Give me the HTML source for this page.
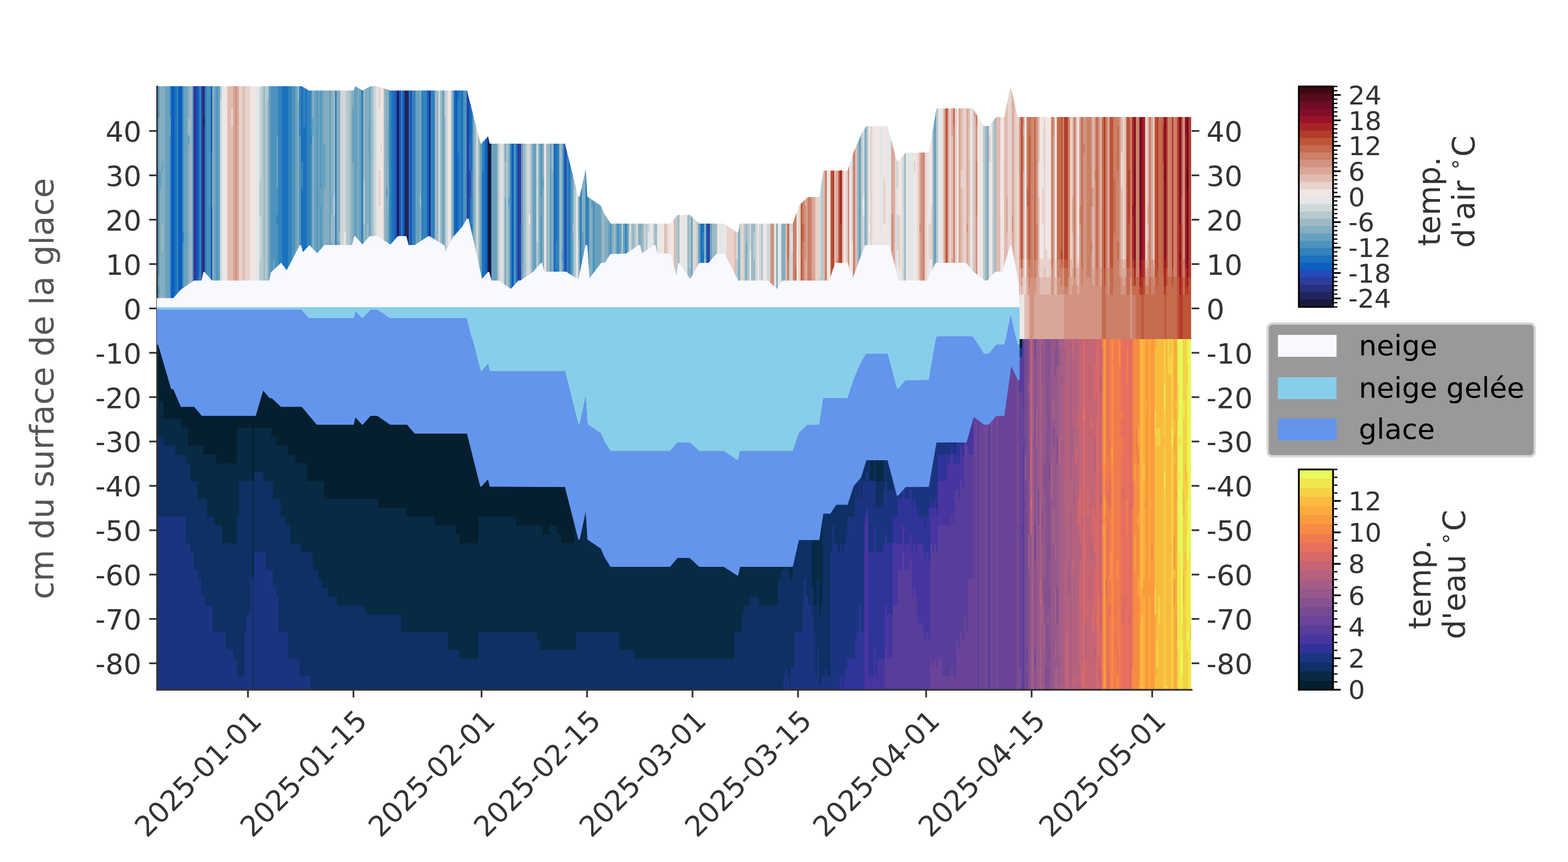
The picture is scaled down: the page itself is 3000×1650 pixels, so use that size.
<!DOCTYPE html>
<html lang="fr"><head><meta charset="utf-8"><title>Profil de température – neige, glace, eau</title>
<style>html,body{margin:0;padding:0;background:#fff;}body{width:3000px;height:1650px;overflow:hidden;}svg{display:block;position:absolute;left:0;top:0;}text{font-family:'DejaVu Sans', 'Liberation Sans', sans-serif;}</style></head><body>
<svg width="3000" height="1650" viewBox="0 0 3000 1650">
<rect x="0" y="0" width="3000" height="1650" fill="#ffffff"/>
<defs><clipPath id="axclip"><rect x="300" y="165" width="1980" height="1155"/></clipPath></defs>
<clipPath id="airclip"><polygon points="300.0,165.0 576.9,165.0 591.2,173.3 676.6,173.3 680.1,165.0 693.3,173.3 709.2,165.0 721.9,165.0 747.1,173.3 893.5,173.3 919.4,275.0 921.3,275.0 933.7,260.7 936.8,275.0 1080.9,275.0 1106.5,376.5 1109.0,376.5 1120.6,323.7 1123.9,376.5 1149.4,393.6 1156.6,410.1 1168.2,428.0 1282.0,428.1 1296.2,411.4 1319.5,411.4 1337.9,428.1 1384.9,428.1 1410.1,445.0 1412.3,445.0 1416.0,428.1 1516.9,428.1 1528.5,393.5 1545.6,377.2 1567.6,377.2 1575.3,326.4 1621.7,326.4 1633.4,290.7 1647.5,257.7 1657.6,241.2 1698.0,241.2 1716.0,308.5 1718.4,308.5 1732.9,292.2 1777.1,292.1 1791.7,207.6 1860.9,207.6 1882.3,241.3 1891.9,241.3 1906.3,224.1 1921.5,224.1 1933.6,165.1 1947.1,224.1 1950.8,224.1 1950.8,224.0 2279.0,224.0 2279.0,649.1 1950.8,649.1 1950.8,588.0 1949.7,544.7 1935.0,469.2 1933.0,469.2 1918.3,520.1 1905.1,520.1 1888.9,536.9 1883.7,536.9 1862.7,520.5 1848.1,503.1 1790.4,503.1 1773.6,536.9 1719.3,537.0 1701.3,469.3 1655.3,469.3 1631.4,533.0 1621.7,503.5 1598.0,503.5 1586.8,537.0 1497.1,537.0 1486.4,553.0 1469.0,537.0 1412.1,537.0 1386.1,486.0 1370.9,486.0 1355.4,503.5 1337.9,503.5 1320.5,534.5 1299.5,503.8 1297.2,503.8 1294.8,528.1 1282.6,485.8 1257.1,485.4 1254.0,469.3 1251.7,469.3 1228.4,484.8 1224.8,469.3 1222.5,469.3 1198.3,485.4 1167.8,486.4 1157.5,503.3 1150.3,503.3 1127.8,533.0 1123.6,469.3 1120.6,469.3 1106.5,535.3 1082.8,520.0 1041.1,520.0 1037.2,503.5 1035.2,503.5 1019.9,520.7 995.8,537.0 992.0,537.0 977.6,553.0 953.7,537.0 940.3,537.0 935.9,520.7 933.7,520.7 922.1,533.9 896.5,418.8 893.5,418.8 883.8,434.9 867.3,453.4 852.6,481.5 850.3,469.9 822.3,452.4 818.8,452.4 794.0,468.9 781.5,468.9 777.2,452.0 761.7,452.0 747.1,468.3 721.3,452.0 707.3,452.0 693.7,467.9 679.7,452.4 677.8,452.4 673.9,468.9 620.9,468.9 606.8,484.8 592.0,469.3 579.6,483.1 575.8,469.3 573.8,469.3 548.5,517.4 538.0,503.3 518.6,521.3 515.2,537.0 405.5,537.0 391.3,520.7 389.4,520.7 385.5,537.0 371.5,537.0 346.3,554.3 331.7,570.8 300.0,570.8"/></clipPath>
<clipPath id="watclip"><polygon points="300.0,640.0 1950.8,640.0 1950.8,649.1 2279.0,649.1 2279.0,1320.0 300.0,1320.0"/></clipPath>
<g clip-path="url(#airclip)" shape-rendering="crispEdges">
<path fill="#4b93bd" d="M300.0 165.0H305.2V600.0H300.0ZM323.2 165.0H327.4V600.0H323.2ZM349.1 165.0H352.3V600.0H349.1ZM396.0 165.0H403.4V600.0H396.0ZM414.0 165.0H417.2V600.0H414.0ZM518.0 165.0H532.4V600.0H518.0ZM557.9 165.0H565.3V600.0H557.9ZM572.0 165.0H576.3V600.0H572.0ZM594.2 165.0H597.4V600.0H594.2ZM605.2 165.0H608.4V600.0H605.2ZM612.2 165.0H615.2V600.0H612.2ZM886.1 165.0H893.4V600.0H886.1ZM983.0 165.0H987.2V600.0H983.0ZM1034.1 165.0H1037.3V600.0H1034.1ZM1091.0 165.0H1095.2V600.0H1091.0ZM1134.1 165.0H1138.3V600.0H1134.1ZM1166.9 165.0H1170.4V600.0H1166.9ZM1181.1 165.0H1185.2V600.0H1181.1ZM319.6 292.4H323.5V360.7H319.6ZM319.6 394.3H323.5V496.5H319.6ZM352.0 598.1H355.9V600.3H352.0ZM355.6 165.0H359.4V241.8H355.6ZM355.6 496.2H359.4V564.5H355.6ZM381.1 190.5H385.0V292.7H381.1ZM384.7 275.4H385.4V326.7H384.7ZM392.1 165.0H396.0V241.8H392.1ZM416.9 275.4H420.8V309.7H416.9ZM514.1 207.5H518.0V275.7H514.1ZM517.7 292.4H518.3V360.7H517.7ZM554.6 479.2H558.2V530.5H554.6ZM565.0 241.5H568.9V343.7H565.0ZM565.0 530.2H568.9V547.5H565.0ZM590.5 292.4H594.4V309.7H590.5ZM630.2 462.3H633.4V496.5H630.2ZM677.0 241.5H680.2V292.7H677.0ZM691.1 564.2H695.0V598.4H691.1ZM745.1 224.5H749.0V292.7H745.1ZM748.7 496.2H749.3V564.5H748.7ZM767.0 207.5H770.3V241.8H767.0ZM767.0 309.4H770.3V326.7H767.0ZM767.0 326.4H770.3V377.6H767.0ZM788.0 479.2H791.9V530.5H788.0ZM805.9 394.3H809.8V411.6H805.9ZM809.5 360.4H813.4V445.6H809.5ZM823.9 445.3H827.8V462.6H823.9ZM827.5 377.3H831.4V428.6H827.5ZM846.1 547.2H850.0V581.5H846.1ZM849.7 275.4H850.3V292.7H849.7ZM921.5 394.3H922.4V479.6H921.5ZM947.1 326.4H951.0V343.7H947.1ZM976.0 547.2H979.4V598.4H976.0ZM1019.0 530.2H1022.9V581.5H1019.0ZM1052.0 445.3H1055.2V462.6H1052.0ZM1069.5 326.4H1070.3V394.6H1069.5ZM1112.6 343.4H1113.3V428.6H1112.6ZM1112.6 530.2H1113.3V564.5H1112.6ZM1141.6 173.5H1145.5V258.7H1141.6ZM1141.6 360.4H1145.5V377.6H1141.6ZM1145.2 165.0H1149.1V224.8H1145.2ZM1166.6 547.2H1167.2V600.3H1166.6ZM1178.1 224.5H1181.4V292.7H1178.1ZM1188.6 428.3H1189.4V530.5H1188.6ZM1199.1 309.4H1203.0V394.6H1199.1ZM1202.7 598.1H1203.3V600.3H1202.7ZM1336.1 275.4H1340.0V360.7H1336.1ZM1336.1 513.2H1340.0V581.5H1336.1Z"/>
<path fill="#83adc0" d="M304.9 165.0H316.3V600.0H304.9ZM359.1 165.0H363.5V600.0H359.1ZM406.0 165.0H410.4V600.0H406.0ZM568.9 165.0H572.3V600.0H568.9ZM597.1 165.0H601.3V600.0H597.1ZM619.0 165.0H630.5V600.0H619.0ZM633.1 165.0H637.3V600.0H633.1ZM644.0 165.0H651.3V600.0H644.0ZM673.1 165.0H677.3V600.0H673.1ZM683.8 165.0H687.3V600.0H683.8ZM697.9 165.0H706.5V600.0H697.9ZM738.0 165.0H742.5V600.0H738.0ZM803.0 165.0H806.2V600.0H803.0ZM864.1 165.0H868.3V600.0H864.1ZM964.9 165.0H969.3V600.0H964.9ZM972.0 165.0H976.3V600.0H972.0ZM1029.9 165.0H1034.4V600.0H1029.9ZM1037.0 165.0H1041.2V600.0H1037.0ZM1054.9 165.0H1059.4V600.0H1054.9ZM1073.2 165.0H1077.4V600.0H1073.2ZM1094.9 165.0H1098.4V600.0H1094.9ZM1106.1 165.0H1109.3V600.0H1106.1ZM1113.0 165.0H1120.3V600.0H1113.0ZM1127.0 165.0H1134.4V600.0H1127.0ZM1149.2 165.0H1152.4V600.0H1149.2ZM1156.0 165.0H1163.3V600.0H1156.0ZM1170.1 165.0H1174.3V600.0H1170.1ZM1221.1 165.0H1228.4V600.0H1221.1ZM1347.1 165.0H1351.3V600.0H1347.1ZM1365.1 165.0H1369.3V600.0H1365.1ZM1411.9 165.0H1416.3V600.0H1411.9ZM1426.0 165.0H1430.4V600.0H1426.0ZM1484.9 165.0H1488.3V600.0H1484.9ZM1495.1 165.0H1503.4V600.0H1495.1ZM1654.1 165.0H1658.3V600.0H1654.1ZM1888.0 165.0H1892.4V600.0H1888.0ZM352.0 445.3H355.9V547.5H352.0ZM363.2 530.2H367.1V547.5H363.2ZM367.1 224.5H370.3V292.7H367.1ZM420.5 445.3H421.4V513.5H420.5ZM503.9 190.5H507.1V292.7H503.9ZM511.0 241.5H514.4V343.7H511.0ZM511.0 598.1H514.4V600.3H511.0ZM514.1 598.1H518.0V600.3H514.1ZM601.0 326.4H604.9V377.6H601.0ZM608.1 190.5H612.0V258.7H608.1ZM608.1 343.4H612.0V428.6H608.1ZM618.5 309.4H619.3V343.7H618.5ZM637.0 207.5H640.9V224.8H637.0ZM672.5 360.4H673.4V445.6H672.5ZM683.5 173.5H684.1V241.8H683.5ZM690.6 411.3H691.4V428.6H690.6ZM798.6 343.4H799.2V428.6H798.6ZM832.0 496.2H835.9V564.5H832.0ZM850.0 428.3H853.2V530.5H850.0ZM904.1 275.4H907.3V343.7H904.1ZM907.0 411.3H910.9V445.6H907.0ZM907.0 530.2H910.9V598.4H907.0ZM910.6 394.3H911.4V411.6H910.6ZM915.0 207.5H918.2V309.7H915.0ZM939.9 360.4H943.8V462.6H939.9ZM943.5 598.1H947.4V600.3H943.5ZM950.8 292.4H954.2V377.6H950.8ZM1004.6 258.4H1005.2V326.7H1004.6ZM1004.6 343.4H1005.2V411.6H1004.6ZM1015.1 165.0H1019.0V258.7H1015.1ZM1018.7 513.2H1019.3V547.5H1018.7ZM1022.6 326.4H1026.3V394.6H1022.6ZM1048.6 377.3H1052.3V479.6H1048.6ZM1070.0 207.5H1073.5V224.8H1070.0ZM1148.8 309.4H1149.5V326.7H1148.8ZM1155.7 564.2H1156.3V581.5H1155.7ZM1166.6 165.0H1167.2V190.8H1166.6ZM1174.0 496.2H1177.9V598.4H1174.0ZM1188.6 309.4H1189.4V394.6H1188.6ZM1199.1 173.5H1203.0V258.7H1199.1ZM1228.1 224.5H1232.0V275.7H1228.1ZM1256.5 598.1H1257.3V600.3H1256.5ZM1296.9 462.3H1300.2V564.5H1296.9ZM1315.0 165.0H1318.9V207.8H1315.0ZM1358.1 173.5H1362.0V207.8H1358.1ZM1358.1 292.4H1362.0V326.7H1358.1ZM1361.7 530.2H1362.3V547.5H1361.7ZM1362.0 190.5H1365.4V275.7H1362.0ZM1440.6 190.5H1444.5V275.7H1440.6ZM1643.1 165.0H1647.0V190.8H1643.1ZM1643.1 564.2H1647.0V581.5H1643.1ZM1730.0 165.0H1733.3V224.8H1730.0Z"/>
<path fill="#68a1be" d="M316.0 165.0H323.5V600.0H316.0ZM352.0 165.0H359.4V600.0H352.0ZM367.1 165.0H370.3V600.0H367.1ZM410.1 165.0H414.3V600.0H410.1ZM416.9 165.0H421.4V600.0H416.9ZM514.1 165.0H518.3V600.0H514.1ZM565.0 165.0H569.2V600.0H565.0ZM601.0 165.0H605.5V600.0H601.0ZM608.1 165.0H612.5V600.0H608.1ZM614.9 165.0H619.3V600.0H614.9ZM630.2 165.0H633.4V600.0H630.2ZM677.0 165.0H680.2V600.0H677.0ZM679.9 165.0H684.1V600.0H679.9ZM687.0 165.0H691.4V600.0H687.0ZM706.2 165.0H709.4V600.0H706.2ZM742.2 165.0H745.4V600.0H742.2ZM795.0 165.0H799.2V600.0H795.0ZM798.9 165.0H803.3V600.0H798.9ZM846.1 165.0H850.3V600.0H846.1ZM904.1 165.0H907.3V600.0H904.1ZM917.9 165.0H922.4V600.0H917.9ZM939.9 165.0H951.1V600.0H939.9ZM997.1 165.0H1001.3V600.0H997.1ZM1019.0 165.0H1026.3V600.0H1019.0ZM1052.0 165.0H1055.2V600.0H1052.0ZM1138.0 165.0H1149.5V600.0H1138.0ZM1163.0 165.0H1167.2V600.0H1163.0ZM1178.1 165.0H1181.4V600.0H1178.1ZM1184.9 165.0H1189.4V600.0H1184.9ZM1192.1 165.0H1196.4V600.0H1192.1ZM1199.1 165.0H1203.3V600.0H1199.1ZM1322.0 165.0H1325.3V600.0H1322.0ZM1336.1 165.0H1340.3V600.0H1336.1ZM1358.1 165.0H1362.3V600.0H1358.1ZM1643.1 165.0H1647.3V600.0H1643.1ZM1787.0 165.0H1791.2V600.0H1787.0ZM302.0 224.5H305.2V326.7H302.0ZM302.0 530.2H305.2V547.5H302.0ZM302.0 564.2H305.2V600.3H302.0ZM304.9 326.4H308.8V360.7H304.9ZM308.5 309.4H312.4V326.7H308.5ZM323.2 224.5H327.1V258.7H323.2ZM326.8 241.5H327.4V326.7H326.8ZM326.8 326.4H327.4V343.7H326.8ZM359.1 258.4H363.0V275.7H359.1ZM399.6 564.2H403.4V598.4H399.6ZM521.6 496.2H525.5V598.4H521.6ZM528.8 258.4H532.4V360.7H528.8ZM597.1 224.5H601.0V258.7H597.1ZM612.2 360.4H615.2V394.6H612.2ZM619.0 275.4H622.9V360.7H619.0ZM644.0 462.3H647.9V513.5H644.0ZM673.1 207.5H677.0V309.7H673.1ZM705.1 241.5H706.5V292.7H705.1ZM738.0 360.4H741.9V377.6H738.0ZM964.9 598.1H968.8V600.3H964.9ZM968.5 445.3H969.3V547.5H968.5ZM972.0 377.3H975.9V394.6H972.0ZM986.6 165.0H987.2V190.8H986.6ZM1034.1 377.3H1037.3V411.6H1034.1ZM1037.0 343.4H1040.9V360.7H1037.0ZM1073.2 479.2H1077.1V496.5H1073.2ZM1076.8 360.4H1077.4V428.6H1076.8ZM1076.8 462.3H1077.4V496.5H1076.8ZM1113.0 445.3H1116.9V530.5H1113.0ZM1116.6 190.5H1120.3V292.7H1116.6ZM1130.6 343.4H1134.4V394.6H1130.6ZM1170.1 173.5H1174.1V207.8H1170.1ZM1181.1 241.5H1185.0V275.7H1181.1ZM1181.1 309.4H1185.0V411.6H1181.1ZM1184.7 377.3H1185.2V462.6H1184.7ZM1224.7 258.4H1228.4V343.7H1224.7ZM1368.7 428.3H1369.3V530.5H1368.7ZM1411.9 598.1H1415.8V600.3H1411.9Z"/>
<path fill="#0c5fc0" d="M327.1 165.0H331.3V600.0H327.1ZM331.0 165.0H334.3V600.0H331.0ZM341.0 165.0H349.4V600.0H341.0ZM377.0 165.0H381.4V600.0H377.0ZM403.1 165.0H406.3V600.0H403.1ZM770.0 165.0H774.4V600.0H770.0ZM816.9 165.0H821.3V600.0H816.9ZM871.0 165.0H875.4V600.0H871.0ZM897.0 165.0H900.5V600.0H897.0ZM928.9 165.0H933.4V600.0H928.9ZM979.1 165.0H983.3V600.0H979.1ZM1351.0 165.0H1354.4V600.0H1351.0ZM539.9 207.5H543.8V275.7H539.9ZM543.5 343.4H545.3V445.6H543.5ZM545.0 547.2H548.9V581.5H545.0ZM583.2 173.5H587.1V224.8H583.2ZM756.0 275.4H759.9V343.7H756.0ZM781.2 547.2H785.1V600.3H781.2ZM785.1 292.4H788.3V309.7H785.1ZM868.0 258.4H871.3V360.7H868.0ZM868.0 581.2H871.3V600.3H868.0ZM878.7 360.4H879.3V462.6H878.7ZM878.7 513.2H879.3V600.3H878.7ZM885.6 360.4H886.4V411.6H885.6ZM925.7 411.3H929.2V479.6H925.7ZM1062.7 360.4H1066.2V445.6H1062.7ZM1083.7 411.3H1084.3V428.6H1083.7ZM1343.6 564.2H1347.4V581.5H1343.6Z"/>
<path fill="#1c71be" d="M334.0 165.0H338.2V600.0H334.0ZM539.9 165.0H545.3V600.0H539.9ZM545.0 165.0H551.3V600.0H545.0ZM576.0 165.0H587.2V600.0H576.0ZM749.0 165.0H756.3V600.0H749.0ZM781.2 165.0H785.4V600.0H781.2ZM868.0 165.0H871.3V600.0H868.0ZM875.1 165.0H879.3V600.0H875.1ZM882.0 165.0H886.4V600.0H882.0ZM900.2 165.0H904.4V600.0H900.2ZM922.1 165.0H929.2V600.0H922.1ZM986.9 165.0H990.3V600.0H986.9ZM1059.1 165.0H1066.2V600.0H1059.1ZM1087.9 165.0H1091.3V600.0H1087.9ZM1340.0 165.0H1347.4V600.0H1340.0ZM330.7 479.2H331.3V564.5H330.7ZM377.0 530.2H380.9V547.5H377.0ZM380.6 394.3H381.4V462.6H380.6ZM395.7 394.3H396.3V462.6H395.7ZM395.7 581.2H396.3V600.3H395.7ZM403.1 292.4H406.3V394.6H403.1ZM551.0 496.2H554.9V598.4H551.0ZM554.6 530.2H558.2V600.3H554.6ZM691.1 173.5H695.0V190.8H691.1ZM694.7 564.2H695.3V581.5H694.7ZM745.1 292.4H749.0V343.7H745.1ZM748.7 173.5H749.3V190.8H748.7ZM805.9 462.3H809.8V564.5H805.9ZM809.5 224.5H813.4V241.8H809.5ZM813.1 292.4H817.0V343.7H813.1ZM813.1 411.3H817.0V513.5H813.1ZM871.0 513.2H874.9V530.5H871.0ZM874.6 258.4H875.4V360.7H874.6ZM897.0 275.4H900.5V326.7H897.0ZM982.7 292.4H983.3V343.7H982.7ZM1065.9 275.4H1069.8V377.6H1065.9ZM1112.6 428.3H1113.3V479.6H1112.6ZM1112.6 564.2H1113.3V600.3H1112.6ZM1120.0 165.0H1123.9V190.8H1120.0Z"/>
<path fill="#3182bd" d="M337.9 165.0H341.3V600.0H337.9ZM381.1 165.0H385.4V600.0H381.1ZM392.1 165.0H396.3V600.0H392.1ZM532.1 165.0H540.2V600.0H532.1ZM551.0 165.0H558.2V600.0H551.0ZM586.9 165.0H594.5V600.0H586.9ZM641.1 165.0H644.3V600.0H641.1ZM691.1 165.0H695.3V600.0H691.1ZM745.1 165.0H749.3V600.0H745.1ZM767.0 165.0H770.3V600.0H767.0ZM788.0 165.0H795.3V600.0H788.0ZM805.9 165.0H817.2V600.0H805.9ZM823.9 165.0H832.3V600.0H823.9ZM879.0 165.0H882.3V600.0H879.0ZM976.0 165.0H979.4V600.0H976.0ZM1065.9 165.0H1070.3V600.0H1065.9ZM1077.1 165.0H1080.4V600.0H1077.1ZM1084.0 165.0H1088.2V600.0H1084.0ZM1109.0 165.0H1113.3V600.0H1109.0ZM1120.0 165.0H1127.3V600.0H1120.0ZM1196.1 165.0H1199.4V600.0H1196.1ZM323.2 598.1H327.1V600.3H323.2ZM337.6 343.4H338.2V445.6H337.6ZM349.1 445.3H352.3V462.6H349.1ZM528.8 411.3H532.4V428.6H528.8ZM572.0 165.0H575.9V258.7H572.0ZM576.0 309.4H579.9V360.7H576.0ZM576.0 530.2H579.9V547.5H576.0ZM579.6 165.0H583.5V241.8H579.6ZM583.2 496.2H587.1V530.5H583.2ZM594.2 258.4H597.4V275.7H594.2ZM605.2 530.2H608.4V598.4H605.2ZM749.0 564.2H752.9V581.5H749.0ZM784.8 428.3H785.4V513.5H784.8ZM875.1 190.5H879.0V292.7H875.1ZM885.6 224.5H886.4V292.7H885.6ZM886.1 530.2H890.0V581.5H886.1ZM900.2 326.4H904.1V428.6H900.2ZM922.1 258.4H926.0V326.7H922.1ZM983.0 241.5H986.9V258.7H983.0ZM986.9 165.0H990.3V207.8H986.9ZM1062.7 462.3H1066.2V513.5H1062.7ZM1091.0 224.5H1094.9V241.8H1091.0ZM1134.1 258.4H1138.0V326.7H1134.1ZM1134.1 564.2H1138.0V600.3H1134.1ZM1343.6 275.4H1347.4V360.7H1343.6ZM1343.6 445.3H1347.4V479.6H1343.6Z"/>
<path fill="#9cb9c4" d="M363.2 165.0H367.4V600.0H363.2ZM503.9 165.0H507.1V600.0H503.9ZM511.0 165.0H514.4V600.0H511.0ZM637.0 165.0H641.4V600.0H637.0ZM668.9 165.0H673.4V600.0H668.9ZM695.0 165.0H698.2V600.0H695.0ZM709.1 165.0H713.3V600.0H709.1ZM733.9 165.0H738.3V600.0H733.9ZM832.0 165.0H839.3V600.0H832.0ZM842.0 165.0H846.4V600.0H842.0ZM850.0 165.0H853.2V600.0H850.0ZM907.0 165.0H911.4V600.0H907.0ZM915.0 165.0H918.2V600.0H915.0ZM950.8 165.0H954.2V600.0H950.8ZM1001.0 165.0H1005.2V600.0H1001.0ZM1015.1 165.0H1019.3V600.0H1015.1ZM1045.0 165.0H1052.3V600.0H1045.0ZM1070.0 165.0H1073.5V600.0H1070.0ZM1152.1 165.0H1156.3V600.0H1152.1ZM1174.0 165.0H1178.4V600.0H1174.0ZM1207.2 165.0H1214.3V600.0H1207.2ZM1228.1 165.0H1232.3V600.0H1228.1ZM1252.9 165.0H1257.3V600.0H1252.9ZM1296.9 165.0H1300.2V600.0H1296.9ZM1315.0 165.0H1322.3V600.0H1315.0ZM1362.0 165.0H1365.4V600.0H1362.0ZM1369.0 165.0H1372.2V600.0H1369.0ZM1437.0 165.0H1445.3V600.0H1437.0ZM1456.2 165.0H1459.4V600.0H1456.2ZM1640.0 165.0H1643.4V600.0H1640.0ZM1730.0 165.0H1733.3V600.0H1730.0ZM1784.1 165.0H1787.3V600.0H1784.1ZM1885.1 165.0H1888.3V600.0H1885.1ZM1903.1 165.0H1906.3V600.0H1903.1ZM308.5 428.3H312.4V479.6H308.5ZM308.5 564.2H312.4V581.5H308.5ZM359.1 224.5H363.0V258.7H359.1ZM362.7 190.5H363.5V275.7H362.7ZM362.7 275.4H363.5V326.7H362.7ZM510.4 224.5H511.3V258.7H510.4ZM568.9 165.0H572.3V190.8H568.9ZM597.1 598.1H601.0V600.3H597.1ZM633.1 411.3H637.0V462.6H633.1ZM647.6 445.3H651.3V462.6H647.6ZM665.5 496.2H669.2V564.5H665.5ZM683.8 598.1H687.3V600.3H683.8ZM701.5 428.3H705.4V530.5H701.5ZM713.0 165.0H716.2V224.8H713.0ZM741.6 165.0H742.5V241.8H741.6ZM741.6 309.4H742.5V411.6H741.6ZM741.6 564.2H742.5V600.3H741.6ZM803.0 377.3H806.2V394.6H803.0ZM803.0 479.2H806.2V581.5H803.0ZM964.9 309.4H968.8V377.6H964.9ZM975.6 207.5H976.3V258.7H975.6ZM975.6 513.2H976.3V581.5H975.6ZM1029.9 173.5H1033.8V190.8H1029.9ZM1033.5 224.5H1034.4V241.8H1033.5ZM1054.9 241.5H1058.8V326.7H1054.9ZM1094.9 428.3H1098.4V445.6H1094.9ZM1106.1 462.3H1109.3V547.5H1106.1ZM1113.0 190.5H1116.9V241.8H1113.0ZM1116.6 547.2H1120.3V600.3H1116.6ZM1159.6 224.5H1163.3V258.7H1159.6ZM1170.1 207.5H1174.1V275.7H1170.1ZM1189.1 394.3H1192.4V445.6H1189.1ZM1238.5 513.2H1239.3V564.5H1238.5ZM1292.9 224.5H1295.3V241.8H1292.9ZM1347.1 496.2H1351.0V564.5H1347.1ZM1350.7 173.5H1351.3V190.8H1350.7ZM1350.7 326.4H1351.3V360.7H1350.7ZM1365.1 411.3H1369.0V513.5H1365.1ZM1365.1 513.2H1369.0V547.5H1365.1ZM1426.0 394.3H1429.9V462.6H1426.0ZM1484.9 581.2H1488.3V600.3H1484.9ZM1495.1 224.5H1499.0V258.7H1495.1ZM1502.3 173.5H1503.4V258.7H1502.3ZM1502.3 462.3H1503.4V564.5H1502.3ZM1657.7 173.5H1658.3V275.7H1657.7ZM1658.0 377.3H1661.4V479.6H1658.0ZM1794.5 377.3H1795.3V411.6H1794.5ZM1884.8 394.3H1885.4V496.5H1884.8Z"/>
<path fill="#2c3c9c" d="M370.0 165.0H377.3V600.0H370.0ZM385.1 165.0H388.3V600.0H385.1ZM893.1 165.0H897.3V600.0H893.1ZM990.0 165.0H997.4V600.0H990.0ZM1354.1 165.0H1358.4V600.0H1354.1ZM759.6 496.2H760.3V513.5H759.6ZM763.0 428.3H766.9V479.6H763.0ZM785.1 343.4H788.3V394.6H785.1ZM821.0 394.3H824.2V462.6H821.0ZM1080.1 343.4H1084.0V445.6H1080.1Z"/>
<path fill="#27307a" d="M388.0 165.0H392.4V600.0H388.0ZM821.0 165.0H824.2V600.0H821.0Z"/>
<path fill="#cfd7da" d="M421.1 165.0H424.3V600.0H421.1ZM496.1 165.0H500.3V600.0H496.1ZM651.0 165.0H662.2V600.0H651.0ZM715.9 165.0H720.3V600.0H715.9ZM839.0 165.0H842.3V600.0H839.0ZM852.9 165.0H857.3V600.0H852.9ZM861.2 165.0H864.4V600.0H861.2ZM911.1 165.0H915.3V600.0H911.1ZM953.9 165.0H958.1V600.0H953.9ZM961.0 165.0H965.2V600.0H961.0ZM1007.8 165.0H1015.4V600.0H1007.8ZM1026.0 165.0H1030.2V600.0H1026.0ZM1203.0 165.0H1207.5V600.0H1203.0ZM1217.1 165.0H1221.4V600.0H1217.1ZM1232.0 165.0H1235.2V600.0H1232.0ZM1239.0 165.0H1243.3V600.0H1239.0ZM1325.0 165.0H1329.4V600.0H1325.0ZM1408.0 165.0H1412.2V600.0H1408.0ZM1416.0 165.0H1419.2V600.0H1416.0ZM1434.0 165.0H1437.3V600.0H1434.0ZM1445.0 165.0H1449.4V600.0H1445.0ZM1452.0 165.0H1456.5V600.0H1452.0ZM1467.1 165.0H1474.3V600.0H1467.1ZM1510.0 165.0H1517.3V600.0H1510.0ZM1567.9 165.0H1571.3V600.0H1567.9ZM1629.0 165.0H1632.3V600.0H1629.0ZM1650.0 165.0H1654.4V600.0H1650.0ZM1714.9 165.0H1719.3V600.0H1714.9ZM1726.1 165.0H1730.3V600.0H1726.1ZM1860.1 165.0H1863.3V600.0H1860.1ZM427.6 190.5H428.4V292.7H427.6ZM506.8 207.5H510.7V309.7H506.8ZM661.9 377.3H665.8V462.6H661.9ZM665.5 309.4H669.2V411.6H665.5ZM957.8 326.4H961.3V343.7H957.8ZM1004.9 377.3H1008.1V479.6H1004.9ZM1004.9 564.2H1008.1V600.3H1004.9ZM1101.7 309.4H1102.3V343.7H1101.7ZM1102.0 581.2H1105.9V600.3H1102.0ZM1105.6 513.2H1106.4V547.5H1105.6ZM1238.5 309.4H1239.3V326.7H1238.5ZM1238.5 326.4H1239.3V428.6H1238.5ZM1243.0 496.2H1246.9V598.4H1243.0ZM1292.9 377.3H1295.3V428.6H1292.9ZM1295.0 360.4H1297.2V394.6H1295.0ZM1299.9 207.5H1303.8V275.7H1299.9ZM1303.5 411.3H1304.3V428.6H1303.5ZM1307.2 513.2H1311.1V530.5H1307.2ZM1310.8 241.5H1314.7V275.7H1310.8ZM1310.8 343.4H1314.7V377.6H1310.8ZM1481.0 581.2H1484.9V600.3H1481.0ZM1574.6 411.3H1575.3V496.5H1574.6ZM1585.9 173.5H1589.3V258.7H1585.9ZM1658.0 479.2H1661.4V581.5H1658.0ZM1683.1 326.4H1687.0V377.6H1683.1ZM1686.7 547.2H1690.2V600.3H1686.7ZM1881.2 479.2H1885.1V496.5H1881.2ZM1902.6 530.2H1903.4V598.4H1902.6Z"/>
<path fill="#e4e6e7" d="M424.0 165.0H428.4V600.0H424.0ZM488.8 165.0H496.4V600.0H488.8ZM720.0 165.0H724.2V600.0H720.0ZM957.8 165.0H961.3V600.0H957.8ZM1102.0 165.0H1106.4V600.0H1102.0ZM1243.0 165.0H1250.3V600.0H1243.0ZM1257.0 165.0H1261.2V600.0H1257.0ZM1299.9 165.0H1304.3V600.0H1299.9ZM1307.2 165.0H1315.3V600.0H1307.2ZM1376.0 165.0H1387.3V600.0H1376.0ZM1459.1 165.0H1463.3V600.0H1459.1ZM1481.0 165.0H1485.2V600.0H1481.0ZM1488.0 165.0H1495.4V600.0H1488.0ZM1585.9 165.0H1589.3V600.0H1585.9ZM1661.1 165.0H1665.3V600.0H1661.1ZM1683.1 165.0H1690.2V600.0H1683.1ZM1696.9 165.0H1705.2V600.0H1696.9ZM1733.0 165.0H1748.4V600.0H1733.0ZM1772.9 165.0H1777.6V600.0H1772.9ZM1797.9 165.0H1805.2V600.0H1797.9ZM1960.1 165.0H1964.3V496.5H1960.1ZM421.1 547.2H424.3V600.3H421.1ZM428.1 598.1H432.0V600.3H428.1ZM431.7 292.4H435.2V343.7H431.7ZM481.7 479.2H485.6V496.5H481.7ZM485.3 445.3H489.1V530.5H485.3ZM654.6 530.2H658.5V598.4H654.6ZM658.2 445.3H662.1V547.5H658.2ZM856.6 479.2H857.3V564.5H856.6ZM860.6 292.4H861.5V360.7H860.6ZM861.2 462.3H864.4V530.5H861.2ZM914.7 292.4H915.3V326.7H914.7ZM914.7 360.4H915.3V428.6H914.7ZM953.9 190.5H957.8V258.7H953.9ZM1011.4 411.3H1015.3V428.6H1011.4ZM1029.6 360.4H1030.2V394.6H1029.6ZM1203.0 207.5H1206.9V224.8H1203.0ZM1203.0 275.4H1206.9V326.7H1203.0ZM1206.6 394.3H1207.5V445.6H1206.6ZM1206.6 530.2H1207.5V564.5H1206.6ZM1239.0 445.3H1242.9V479.6H1239.0ZM1264.5 258.4H1268.4V326.7H1264.5ZM1264.5 530.2H1268.4V598.4H1264.5ZM1416.0 581.2H1419.2V600.3H1416.0ZM1434.0 479.2H1437.3V581.5H1434.0ZM1445.0 343.4H1448.9V394.6H1445.0ZM1452.0 292.4H1455.9V326.7H1452.0ZM1466.6 190.5H1467.4V224.8H1466.6ZM1467.1 343.4H1471.0V360.7H1467.1ZM1470.7 207.5H1474.3V275.7H1470.7ZM1510.0 207.5H1513.9V275.7H1510.0ZM1513.6 445.3H1517.3V479.6H1513.6ZM1585.6 275.4H1586.2V360.7H1585.6ZM1625.1 564.2H1629.0V600.3H1625.1ZM1629.0 462.3H1632.3V530.5H1629.0ZM1650.0 377.3H1653.9V411.6H1650.0ZM1676.1 258.4H1680.0V360.7H1676.1ZM1676.1 496.2H1680.0V530.5H1676.1ZM1714.9 360.4H1718.8V411.6H1714.9ZM1714.9 479.2H1718.8V547.5H1714.9ZM1718.5 428.3H1719.3V479.6H1718.5ZM1748.1 530.2H1752.0V600.3H1748.1ZM1777.3 598.1H1781.2V600.3H1777.3ZM1780.9 581.2H1784.4V600.3H1780.9ZM1831.0 292.4H1834.3V360.7H1831.0ZM1856.1 445.3H1860.0V530.5H1856.1ZM1877.2 445.3H1881.1V530.5H1877.2ZM1914.0 241.5H1917.9V275.7H1914.0ZM1917.6 394.3H1921.4V428.6H1917.6ZM1917.6 581.2H1921.4V600.3H1917.6ZM1989.0 411.3H1992.9V462.6H1989.0ZM2010.6 292.4H2011.3V343.7H2010.6Z"/>
<path fill="#efe6e4" d="M428.1 165.0H435.2V600.0H428.1ZM478.1 165.0H489.1V600.0H478.1ZM723.9 165.0H734.2V600.0H723.9ZM857.0 165.0H861.5V600.0H857.0ZM1040.9 165.0H1045.3V600.0H1040.9ZM1260.9 165.0H1271.2V600.0H1260.9ZM1278.9 165.0H1289.3V600.0H1278.9ZM1304.0 165.0H1307.5V600.0H1304.0ZM1371.9 165.0H1376.3V600.0H1371.9ZM1387.0 165.0H1390.3V600.0H1387.0ZM1449.1 165.0H1452.3V600.0H1449.1ZM1463.0 165.0H1467.4V600.0H1463.0ZM1523.9 165.0H1528.3V600.0H1523.9ZM1582.0 165.0H1586.2V600.0H1582.0ZM1614.0 165.0H1618.3V600.0H1614.0ZM1625.1 165.0H1629.3V600.0H1625.1ZM1668.9 165.0H1683.4V600.0H1668.9ZM1689.9 165.0H1697.2V600.0H1689.9ZM1719.0 165.0H1726.4V600.0H1719.0ZM1748.1 165.0H1755.4V600.0H1748.1ZM1777.3 165.0H1784.4V600.0H1777.3ZM1795.0 165.0H1798.2V600.0H1795.0ZM1831.0 165.0H1834.3V600.0H1831.0ZM1856.1 165.0H1860.4V600.0H1856.1ZM1870.0 165.0H1881.5V600.0H1870.0ZM1892.1 165.0H1899.3V600.0H1892.1ZM1914.0 165.0H1921.4V600.0H1914.0ZM1960.1 496.2H1964.0V513.5H1960.1ZM1960.1 513.2H1964.0V530.5H1960.1ZM1963.7 496.2H1964.3V513.5H1963.7ZM1963.7 513.2H1964.3V530.5H1963.7ZM1989.0 165.0H1997.4V496.5H1989.0ZM2000.0 165.0H2007.3V496.5H2000.0ZM2007.0 165.0H2011.3V496.5H2007.0ZM2018.0 165.0H2022.4V496.5H2018.0ZM2061.1 165.0H2065.3V496.5H2061.1ZM1950.8 564.0H1960.5V649.1H1950.8ZM427.6 165.0H428.4V190.8H427.6ZM723.6 241.5H724.2V292.7H723.6ZM723.6 479.2H724.2V513.5H723.6ZM1246.6 292.4H1250.3V360.7H1246.6ZM1303.5 377.3H1304.3V411.6H1303.5ZM1303.5 564.2H1304.3V581.5H1303.5ZM1329.1 343.4H1333.0V411.6H1329.1ZM1390.0 394.3H1393.9V496.5H1390.0ZM1422.5 377.3H1423.4V428.6H1422.5ZM1422.5 513.2H1423.4V581.5H1422.5ZM1481.0 309.4H1484.9V343.7H1481.0ZM1560.1 224.5H1564.0V292.7H1560.1ZM1563.7 292.4H1567.6V394.6H1563.7ZM1661.1 428.3H1665.0V445.6H1661.1ZM1664.7 598.1H1665.3V600.3H1664.7ZM1668.6 343.4H1669.2V445.6H1668.6ZM1683.1 445.3H1687.0V547.5H1683.1ZM1686.7 428.3H1690.2V496.5H1686.7ZM1696.9 360.4H1700.8V411.6H1696.9ZM1696.9 428.3H1700.8V530.5H1696.9ZM1704.1 513.2H1705.2V547.5H1704.1ZM1755.1 275.4H1759.0V326.7H1755.1ZM1755.1 564.2H1759.0V600.3H1755.1ZM1758.7 275.4H1759.3V309.7H1758.7ZM1769.0 343.4H1772.9V411.6H1769.0ZM1769.0 428.3H1772.9V445.6H1769.0ZM1769.0 598.1H1772.9V600.3H1769.0ZM1772.6 394.3H1773.2V411.6H1772.6ZM1776.5 309.4H1777.6V360.7H1776.5ZM1776.5 479.2H1777.6V513.5H1776.5ZM1819.5 190.5H1820.3V275.7H1819.5ZM1826.9 513.2H1830.8V600.3H1826.9ZM1830.5 462.3H1831.3V547.5H1830.5ZM1845.6 428.3H1849.4V462.6H1845.6ZM1945.7 360.4H1949.6V377.6H1945.7ZM1949.3 360.4H1950.3V445.6H1949.3ZM1960.1 258.4H1964.0V326.7H1960.1ZM2151.5 411.3H2152.4V445.6H2151.5Z"/>
<path fill="#e0bbb1" d="M434.9 165.0H446.3V600.0H434.9ZM464.0 165.0H468.4V600.0H464.0ZM1270.9 165.0H1275.3V600.0H1270.9ZM1289.0 165.0H1293.2V600.0H1289.0ZM1405.1 165.0H1408.3V600.0H1405.1ZM1503.1 165.0H1506.3V600.0H1503.1ZM1575.0 165.0H1578.4V600.0H1575.0ZM1595.9 165.0H1600.3V600.0H1595.9ZM1611.0 165.0H1614.3V600.0H1611.0ZM1636.1 165.0H1640.3V600.0H1636.1ZM1820.0 165.0H1824.3V600.0H1820.0ZM1837.9 165.0H1842.3V600.0H1837.9ZM1852.0 165.0H1856.4V600.0H1852.0ZM1863.0 165.0H1867.4V600.0H1863.0ZM1906.0 165.0H1914.3V600.0H1906.0ZM1921.1 165.0H1928.4V600.0H1921.1ZM1939.1 165.0H1942.4V600.0H1939.1ZM1950.8 513.2H1953.3V530.5H1950.8ZM1950.8 530.2H1953.3V547.5H1950.8ZM1953.0 547.1H1956.9V564.4H1953.0ZM1956.6 547.1H1957.2V564.4H1956.6ZM1956.9 496.2H1960.4V513.5H1956.9ZM1956.9 513.2H1960.4V530.5H1956.9ZM1985.9 165.0H1989.3V496.5H1985.9ZM1985.9 496.2H1989.3V513.5H1985.9ZM1985.9 513.2H1989.3V530.5H1985.9ZM1989.0 530.2H1992.9V547.5H1989.0ZM1989.0 547.1H1992.9V564.4H1989.0ZM1992.6 530.2H1996.5V547.5H1992.6ZM1992.6 547.1H1996.5V564.4H1992.6ZM1996.2 530.2H1997.4V547.5H1996.2ZM1996.2 547.1H1997.4V564.4H1996.2ZM1997.1 513.2H2000.3V530.5H1997.1ZM1997.1 530.2H2000.3V547.5H1997.1ZM1997.1 547.1H2000.3V564.4H1997.1ZM2000.0 530.2H2003.9V547.5H2000.0ZM2000.0 547.1H2003.9V564.4H2000.0ZM2003.6 530.2H2007.3V547.5H2003.6ZM2003.6 547.1H2007.3V564.4H2003.6ZM2007.0 530.2H2010.9V547.5H2007.0ZM2007.0 547.1H2010.9V564.4H2007.0ZM2010.6 530.2H2011.3V547.5H2010.6ZM2010.6 547.1H2011.3V564.4H2010.6ZM2018.0 530.2H2021.9V547.5H2018.0ZM2018.0 547.1H2021.9V564.4H2018.0ZM2021.6 530.2H2022.4V547.5H2021.6ZM2021.6 547.1H2022.4V564.4H2021.6ZM2046.9 496.2H2050.9V513.5H2046.9ZM2046.9 513.2H2050.9V530.5H2046.9ZM2050.6 496.2H2051.3V513.5H2050.6ZM2050.6 513.2H2051.3V530.5H2050.6ZM2051.0 165.0H2054.3V496.5H2051.0ZM2051.0 496.2H2054.3V513.5H2051.0ZM2057.9 165.0H2061.4V496.5H2057.9ZM2057.9 496.2H2061.4V513.5H2057.9ZM2061.1 513.2H2065.0V530.5H2061.1ZM2061.1 530.2H2065.0V547.5H2061.1ZM2064.7 513.2H2065.3V530.5H2064.7ZM2064.7 530.2H2065.3V547.5H2064.7ZM2090.0 165.0H2094.3V496.5H2090.0ZM2090.0 496.2H2093.9V513.5H2090.0ZM2093.6 496.2H2094.3V513.5H2093.6ZM2105.1 165.0H2108.4V496.5H2105.1ZM2105.1 496.2H2108.4V513.5H2105.1ZM2144.0 165.0H2148.2V496.5H2144.0ZM2147.9 496.2H2151.8V513.5H2147.9ZM2151.5 496.2H2152.4V513.5H2151.5ZM2152.1 165.0H2155.4V496.5H2152.1ZM2190.9 496.2H2194.8V513.5H2190.9ZM2194.5 496.2H2195.3V513.5H2194.5ZM2195.0 165.0H2198.2V496.5H2195.0ZM2206.2 496.2H2209.4V513.5H2206.2ZM1960.2 564.0H1968.2V649.1H1960.2ZM449.6 292.4H450.2V309.7H449.6ZM449.6 377.3H450.2V462.6H449.6ZM456.9 309.4H460.8V360.7H456.9ZM456.9 360.4H460.8V411.6H456.9ZM460.5 292.4H464.3V394.6H460.5ZM475.3 394.3H478.4V479.6H475.3ZM475.3 547.2H478.4V600.3H475.3ZM1275.0 564.2H1278.9V598.4H1275.0ZM1278.6 360.4H1279.2V462.6H1278.6ZM1332.7 275.4H1333.3V326.7H1332.7ZM1332.7 462.3H1333.3V513.5H1332.7ZM1390.0 224.5H1393.9V241.8H1390.0ZM1397.2 275.4H1401.1V360.7H1397.2ZM1528.0 598.1H1531.9V600.3H1528.0ZM1553.0 224.5H1556.9V241.8H1553.0ZM1560.1 326.4H1564.0V428.6H1560.1ZM1567.3 173.5H1568.2V224.8H1567.3ZM1567.3 547.2H1568.2V600.3H1567.3ZM1603.6 479.2H1604.4V581.5H1603.6ZM1668.6 547.2H1669.2V600.3H1668.6ZM1804.9 224.5H1808.8V275.7H1804.9ZM1808.5 564.2H1809.4V600.3H1808.5ZM1813.0 173.5H1816.2V207.8H1813.0ZM1842.0 165.0H1845.9V224.8H1842.0ZM1845.6 360.4H1849.4V377.6H1845.6ZM1945.7 173.5H1949.6V275.7H1945.7ZM1949.3 190.5H1950.3V258.7H1949.3ZM1956.9 343.4H1960.4V428.6H1956.9ZM2046.9 309.4H2050.9V360.7H2046.9ZM2046.9 411.3H2050.9V462.6H2046.9ZM2122.6 190.5H2123.2V241.8H2122.6ZM2190.9 165.0H2194.8V224.8H2190.9ZM2205.6 377.3H2206.5V394.6H2205.6Z"/>
<path fill="#d9a799" d="M446.0 165.0H450.2V600.0H446.0ZM452.8 165.0H457.2V600.0H452.8ZM1539.0 165.0H1545.3V600.0H1539.0ZM1553.0 165.0H1560.4V600.0H1553.0ZM1600.0 165.0H1604.4V600.0H1600.0ZM1704.9 165.0H1712.3V600.0H1704.9ZM1759.0 165.0H1762.3V600.0H1759.0ZM1804.9 165.0H1809.4V600.0H1804.9ZM1813.0 165.0H1816.2V600.0H1813.0ZM1834.0 165.0H1838.2V600.0H1834.0ZM1849.1 165.0H1852.3V600.0H1849.1ZM1935.2 165.0H1939.4V600.0H1935.2ZM1950.8 496.2H1953.3V513.5H1950.8ZM1953.0 530.2H1956.9V547.5H1953.0ZM1956.6 530.2H1957.2V547.5H1956.6ZM1956.9 165.0H1960.4V496.5H1956.9ZM1964.0 530.2H1967.9V547.5H1964.0ZM1964.0 547.1H1967.9V564.4H1964.0ZM1967.6 530.2H1968.4V547.5H1967.6ZM1967.6 547.1H1968.4V564.4H1967.6ZM1982.0 530.2H1985.9V547.5H1982.0ZM1982.0 547.1H1985.9V564.4H1982.0ZM1985.6 530.2H1986.2V547.5H1985.6ZM1985.6 547.1H1986.2V564.4H1985.6ZM1985.9 530.2H1989.3V547.5H1985.9ZM1985.9 547.1H1989.3V564.4H1985.9ZM2015.1 165.0H2018.3V496.5H2015.1ZM2015.1 496.2H2018.3V513.5H2015.1ZM2015.1 513.2H2018.3V530.5H2015.1ZM2015.1 530.2H2018.3V547.5H2015.1ZM2015.1 547.1H2018.3V564.4H2015.1ZM2046.9 530.2H2050.9V547.5H2046.9ZM2046.9 547.1H2050.9V564.4H2046.9ZM2050.6 530.2H2051.3V547.5H2050.6ZM2050.6 547.1H2051.3V564.4H2050.6ZM2051.0 513.2H2054.3V530.5H2051.0ZM2051.0 530.2H2054.3V547.5H2051.0ZM2057.9 513.2H2061.4V530.5H2057.9ZM2057.9 530.2H2061.4V547.5H2057.9ZM2061.1 547.1H2065.0V564.4H2061.1ZM2064.7 547.1H2065.3V564.4H2064.7ZM2090.0 513.2H2093.9V530.5H2090.0ZM2090.0 530.2H2093.9V547.5H2090.0ZM2093.6 513.2H2094.3V530.5H2093.6ZM2093.6 530.2H2094.3V547.5H2093.6ZM2105.1 513.2H2108.4V530.5H2105.1ZM2105.1 530.2H2108.4V547.5H2105.1ZM2119.0 165.0H2123.2V496.5H2119.0ZM2119.0 496.2H2122.9V513.5H2119.0ZM2122.6 496.2H2123.2V513.5H2122.6ZM2144.0 496.2H2147.9V513.5H2144.0ZM2144.0 513.2H2147.9V530.5H2144.0ZM2147.6 496.2H2148.2V513.5H2147.6ZM2147.6 513.2H2148.2V530.5H2147.6ZM2147.9 513.2H2151.8V530.5H2147.9ZM2147.9 530.2H2151.8V547.5H2147.9ZM2151.5 513.2H2152.4V530.5H2151.5ZM2151.5 530.2H2152.4V547.5H2151.5ZM2152.1 496.2H2155.4V513.5H2152.1ZM2152.1 513.2H2155.4V530.5H2152.1ZM2190.9 513.2H2194.8V530.5H2190.9ZM2194.5 513.2H2195.3V530.5H2194.5ZM2195.0 496.2H2198.2V513.5H2195.0ZM2202.0 165.0H2206.5V496.5H2202.0ZM2206.2 513.2H2209.4V530.5H2206.2ZM1967.9 564.0H1971.3V649.1H1967.9ZM1978.1 564.0H2036.3V649.1H1978.1ZM449.9 165.0H453.1V173.8H449.9ZM449.9 360.4H453.1V377.6H449.9ZM1274.5 165.0H1275.3V258.7H1274.5ZM1274.5 275.4H1275.3V292.7H1274.5ZM1274.5 564.2H1275.3V600.3H1274.5ZM1289.0 530.2H1292.9V598.4H1289.0ZM1292.6 207.5H1293.2V224.8H1292.6ZM1595.9 581.2H1599.8V600.3H1595.9ZM1621.9 411.3H1625.4V445.6H1621.9ZM1621.9 547.2H1625.4V600.3H1621.9ZM1636.1 598.1H1640.0V600.3H1636.1ZM1765.6 598.1H1766.4V600.3H1765.6ZM1820.0 190.5H1823.9V258.7H1820.0ZM1820.0 496.2H1823.9V530.5H1820.0ZM1823.6 224.5H1824.3V258.7H1823.6ZM1823.6 530.2H1824.3V598.4H1823.6ZM1841.5 581.2H1842.3V598.4H1841.5ZM1863.0 190.5H1866.9V224.8H1863.0ZM1863.0 598.1H1866.9V600.3H1863.0ZM1924.7 377.3H1928.4V445.6H1924.7ZM1985.9 165.0H1989.3V224.8H1985.9ZM2051.0 165.0H2054.3V207.8H2051.0ZM2051.0 377.3H2054.3V445.6H2051.0ZM2068.6 360.4H2069.2V445.6H2068.6ZM2072.0 309.4H2075.9V360.7H2072.0ZM2086.9 173.5H2090.3V241.8H2086.9ZM2090.0 360.4H2093.9V394.6H2090.0ZM2195.0 394.3H2198.2V428.6H2195.0ZM2195.0 462.3H2198.2V496.5H2195.0Z"/>
<path fill="#d29380" d="M449.9 165.0H453.1V600.0H449.9ZM1474.0 165.0H1481.3V600.0H1474.0ZM1621.9 165.0H1625.4V600.0H1621.9ZM1762.0 165.0H1766.4V600.0H1762.0ZM1867.1 165.0H1870.3V600.0H1867.1ZM1950.0 165.0H1950.8V600.0H1950.0ZM1950.8 165.0H1953.3V496.5H1950.8ZM1953.0 513.2H1956.9V530.5H1953.0ZM1956.6 513.2H1957.2V530.5H1956.6ZM1964.0 496.2H1967.9V513.5H1964.0ZM1964.0 513.2H1967.9V530.5H1964.0ZM1967.6 496.2H1968.4V513.5H1967.6ZM1967.6 513.2H1968.4V530.5H1967.6ZM1968.1 547.1H1971.4V564.4H1968.1ZM1971.1 530.2H1975.0V547.5H1971.1ZM1971.1 547.1H1975.0V564.4H1971.1ZM1974.7 530.2H1975.5V547.5H1974.7ZM1974.7 547.1H1975.5V564.4H1974.7ZM1975.2 165.0H1978.4V496.5H1975.2ZM1975.2 496.2H1978.4V513.5H1975.2ZM1975.2 513.2H1978.4V530.5H1975.2ZM1975.2 530.2H1978.4V547.5H1975.2ZM1975.2 547.1H1978.4V564.4H1975.2ZM1978.1 530.2H1982.0V547.5H1978.1ZM1978.1 547.1H1982.0V564.4H1978.1ZM1981.7 530.2H1982.3V547.5H1981.7ZM1981.7 547.1H1982.3V564.4H1981.7ZM1982.0 165.0H1986.2V496.5H1982.0ZM1982.0 496.2H1985.9V513.5H1982.0ZM1982.0 513.2H1985.9V530.5H1982.0ZM1985.6 496.2H1986.2V513.5H1985.6ZM1985.6 513.2H1986.2V530.5H1985.6ZM2011.0 513.2H2014.9V530.5H2011.0ZM2011.0 530.2H2014.9V547.5H2011.0ZM2011.0 547.1H2014.9V564.4H2011.0ZM2014.6 513.2H2015.4V530.5H2014.6ZM2014.6 530.2H2015.4V547.5H2014.6ZM2014.6 547.1H2015.4V564.4H2014.6ZM2022.1 530.2H2026.0V547.5H2022.1ZM2022.1 547.1H2026.0V564.4H2022.1ZM2025.7 530.2H2029.5V547.5H2025.7ZM2025.7 547.1H2029.5V564.4H2025.7ZM2029.2 547.1H2033.1V564.4H2029.2ZM2032.8 547.1H2033.4V564.4H2032.8ZM2033.1 513.2H2036.3V530.5H2033.1ZM2033.1 530.2H2036.3V547.5H2033.1ZM2033.1 547.1H2036.3V564.4H2033.1ZM2042.9 530.2H2045.3V547.5H2042.9ZM2042.9 547.1H2045.3V564.4H2042.9ZM2045.0 530.2H2047.2V547.5H2045.0ZM2045.0 547.1H2047.2V564.4H2045.0ZM2051.0 547.1H2054.3V564.4H2051.0ZM2054.0 530.2H2057.9V547.5H2054.0ZM2054.0 547.1H2057.9V564.4H2054.0ZM2057.6 530.2H2058.2V547.5H2057.6ZM2057.6 547.1H2058.2V564.4H2057.6ZM2057.9 547.1H2061.4V564.4H2057.9ZM2065.0 165.0H2069.2V496.5H2065.0ZM2065.0 496.2H2068.9V513.5H2065.0ZM2065.0 513.2H2068.9V530.5H2065.0ZM2065.0 530.2H2068.9V547.5H2065.0ZM2065.0 547.1H2068.9V564.4H2065.0ZM2068.6 496.2H2069.2V513.5H2068.6ZM2068.6 513.2H2069.2V530.5H2068.6ZM2068.6 530.2H2069.2V547.5H2068.6ZM2068.6 547.1H2069.2V564.4H2068.6ZM2068.9 547.1H2072.3V564.4H2068.9ZM2072.0 165.0H2079.4V496.5H2072.0ZM2072.0 496.2H2075.9V513.5H2072.0ZM2072.0 513.2H2075.9V530.5H2072.0ZM2072.0 530.2H2075.9V547.5H2072.0ZM2072.0 547.1H2075.9V564.4H2072.0ZM2075.6 496.2H2079.4V513.5H2075.6ZM2075.6 513.2H2079.4V530.5H2075.6ZM2075.6 530.2H2079.4V547.5H2075.6ZM2075.6 547.1H2079.4V564.4H2075.6ZM2079.1 530.2H2083.0V547.5H2079.1ZM2079.1 547.1H2083.0V564.4H2079.1ZM2082.7 530.2H2086.6V547.5H2082.7ZM2082.7 547.1H2086.6V564.4H2082.7ZM2086.3 530.2H2087.2V547.5H2086.3ZM2086.3 547.1H2087.2V564.4H2086.3ZM2086.9 165.0H2090.3V496.5H2086.9ZM2086.9 496.2H2090.3V513.5H2086.9ZM2086.9 513.2H2090.3V530.5H2086.9ZM2086.9 530.2H2090.3V547.5H2086.9ZM2086.9 547.1H2090.3V564.4H2086.9ZM2090.0 547.1H2093.9V564.4H2090.0ZM2093.6 547.1H2094.3V564.4H2093.6ZM2094.0 165.0H2097.4V496.5H2094.0ZM2094.0 496.2H2097.4V513.5H2094.0ZM2094.0 513.2H2097.4V530.5H2094.0ZM2094.0 530.2H2097.4V547.5H2094.0ZM2094.0 547.1H2097.4V564.4H2094.0ZM2097.1 547.1H2101.0V564.4H2097.1ZM2100.7 547.1H2101.3V564.4H2100.7ZM2101.0 165.0H2105.4V496.5H2101.0ZM2101.0 496.2H2104.9V513.5H2101.0ZM2101.0 513.2H2104.9V530.5H2101.0ZM2101.0 530.2H2104.9V547.5H2101.0ZM2101.0 547.1H2104.9V564.4H2101.0ZM2104.6 496.2H2105.4V513.5H2104.6ZM2104.6 513.2H2105.4V530.5H2104.6ZM2104.6 530.2H2105.4V547.5H2104.6ZM2104.6 547.1H2105.4V564.4H2104.6ZM2105.1 547.1H2108.4V564.4H2105.1ZM2119.0 513.2H2122.9V530.5H2119.0ZM2119.0 530.2H2122.9V547.5H2119.0ZM2119.0 547.1H2122.9V564.4H2119.0ZM2122.6 513.2H2123.2V530.5H2122.6ZM2122.6 530.2H2123.2V547.5H2122.6ZM2122.6 547.1H2123.2V564.4H2122.6ZM2140.9 165.0H2144.3V496.5H2140.9ZM2140.9 496.2H2144.3V513.5H2140.9ZM2140.9 513.2H2144.3V530.5H2140.9ZM2144.0 530.2H2147.9V547.5H2144.0ZM2144.0 547.1H2147.9V564.4H2144.0ZM2147.6 530.2H2148.2V547.5H2147.6ZM2147.6 547.1H2148.2V564.4H2147.6ZM2147.9 547.1H2151.8V564.4H2147.9ZM2151.5 547.1H2152.4V564.4H2151.5ZM2152.1 530.2H2155.4V547.5H2152.1ZM2152.1 547.1H2155.4V564.4H2152.1ZM2161.9 530.2H2165.8V547.5H2161.9ZM2161.9 547.1H2165.8V564.4H2161.9ZM2165.5 530.2H2166.3V547.5H2165.5ZM2165.5 547.1H2166.3V564.4H2165.5ZM2190.9 530.2H2194.8V547.5H2190.9ZM2194.5 530.2H2195.3V547.5H2194.5ZM2195.0 513.2H2198.2V530.5H2195.0ZM2195.0 530.2H2198.2V547.5H2195.0ZM2202.0 496.2H2205.9V513.5H2202.0ZM2202.0 513.2H2205.9V530.5H2202.0ZM2205.6 496.2H2206.5V513.5H2205.6ZM2205.6 513.2H2206.5V530.5H2205.6ZM2206.2 530.2H2209.4V547.5H2206.2ZM2263.0 165.0H2267.3V496.5H2263.0ZM1971.0 564.0H1978.4V649.1H1971.0ZM2036.0 564.0H2108.5V649.1H2036.0ZM2162.0 564.0H2166.4V649.1H2162.0ZM1506.0 241.5H1509.9V275.7H1506.0ZM1509.6 309.4H1510.3V326.7H1509.6ZM1538.7 326.4H1539.3V394.6H1538.7ZM1539.0 165.0H1542.9V207.8H1539.0ZM1539.0 309.4H1542.9V343.7H1539.0ZM1539.0 394.3H1542.9V496.5H1539.0ZM1552.2 530.2H1553.3V564.5H1552.2ZM1581.7 496.2H1582.3V564.5H1581.7ZM1600.0 190.5H1603.9V224.8H1600.0ZM1600.0 496.2H1603.9V581.5H1600.0ZM1603.6 275.4H1604.4V292.7H1603.6ZM1704.9 411.3H1708.8V479.6H1704.9ZM1704.9 598.1H1708.8V600.3H1704.9ZM1759.0 428.3H1762.3V445.6H1759.0ZM1766.1 241.5H1769.3V309.7H1766.1ZM1766.1 462.3H1769.3V564.5H1766.1ZM1808.5 496.2H1809.4V547.5H1808.5ZM1849.1 428.3H1852.3V445.6H1849.1ZM1935.2 411.3H1939.1V445.6H1935.2ZM1935.2 598.1H1939.1V600.3H1935.2ZM1956.9 190.5H1960.4V241.8H1956.9ZM1956.9 258.4H1960.4V326.7H1956.9ZM1967.6 394.3H1968.4V462.6H1967.6ZM1971.1 462.3H1975.0V496.5H1971.1ZM2015.1 224.5H2018.3V258.7H2015.1ZM2042.9 173.5H2045.3V241.8H2042.9ZM2045.0 173.5H2047.2V207.8H2045.0ZM2045.0 207.5H2047.2V309.7H2045.0ZM2079.1 190.5H2083.0V241.8H2079.1ZM2086.3 343.4H2087.2V377.6H2086.3ZM2086.3 377.3H2087.2V428.6H2086.3ZM2122.6 309.4H2123.2V326.7H2122.6ZM2137.0 360.4H2140.9V462.6H2137.0ZM2140.6 394.3H2141.2V462.6H2140.6ZM2176.7 479.2H2180.4V496.5H2176.7ZM2197.9 394.3H2201.8V428.6H2197.9ZM2238.0 479.2H2241.9V496.5H2238.0Z"/>
<path fill="#e8d2cb" d="M456.9 165.0H464.3V600.0H456.9ZM468.1 165.0H478.4V600.0H468.1ZM1275.0 165.0H1279.2V600.0H1275.0ZM1329.1 165.0H1333.3V600.0H1329.1ZM1390.0 165.0H1405.4V600.0H1390.0ZM1418.9 165.0H1423.4V600.0H1418.9ZM1528.0 165.0H1532.4V600.0H1528.0ZM1560.1 165.0H1568.2V600.0H1560.1ZM1618.0 165.0H1622.2V600.0H1618.0ZM1665.0 165.0H1669.2V600.0H1665.0ZM1712.0 165.0H1715.2V600.0H1712.0ZM1755.1 165.0H1759.3V600.0H1755.1ZM1769.0 165.0H1773.2V600.0H1769.0ZM1815.9 165.0H1820.3V600.0H1815.9ZM1826.9 165.0H1831.3V600.0H1826.9ZM1842.0 165.0H1849.4V600.0H1842.0ZM1928.1 165.0H1935.5V600.0H1928.1ZM1942.1 165.0H1950.3V600.0H1942.1ZM1950.8 547.1H1953.3V564.4H1950.8ZM1956.9 530.2H1960.4V547.5H1956.9ZM1956.9 547.1H1960.4V564.4H1956.9ZM1960.1 530.2H1964.0V547.5H1960.1ZM1960.1 547.1H1964.0V564.4H1960.1ZM1963.7 530.2H1964.3V547.5H1963.7ZM1963.7 547.1H1964.3V564.4H1963.7ZM1989.0 496.2H1992.9V513.5H1989.0ZM1989.0 513.2H1992.9V530.5H1989.0ZM1992.6 496.2H1996.5V513.5H1992.6ZM1992.6 513.2H1996.5V530.5H1992.6ZM1996.2 496.2H1997.4V513.5H1996.2ZM1996.2 513.2H1997.4V530.5H1996.2ZM1997.1 165.0H2000.3V496.5H1997.1ZM1997.1 496.2H2000.3V513.5H1997.1ZM2000.0 496.2H2003.9V513.5H2000.0ZM2000.0 513.2H2003.9V530.5H2000.0ZM2003.6 496.2H2007.3V513.5H2003.6ZM2003.6 513.2H2007.3V530.5H2003.6ZM2007.0 496.2H2010.9V513.5H2007.0ZM2007.0 513.2H2010.9V530.5H2007.0ZM2010.6 496.2H2011.3V513.5H2010.6ZM2010.6 513.2H2011.3V530.5H2010.6ZM2018.0 496.2H2021.9V513.5H2018.0ZM2018.0 513.2H2021.9V530.5H2018.0ZM2021.6 496.2H2022.4V513.5H2021.6ZM2021.6 513.2H2022.4V530.5H2021.6ZM2046.9 165.0H2051.3V496.5H2046.9ZM2061.1 496.2H2065.0V513.5H2061.1ZM2064.7 496.2H2065.3V513.5H2064.7ZM2147.9 165.0H2152.4V496.5H2147.9ZM2190.9 165.0H2195.3V496.5H2190.9ZM2206.2 165.0H2209.4V496.5H2206.2ZM442.2 207.5H446.1V241.8H442.2ZM723.9 165.0H727.8V207.8H723.9ZM723.9 326.4H727.8V394.6H723.9ZM727.5 275.4H731.4V292.7H727.5ZM860.6 479.2H861.5V547.5H860.6ZM1268.1 258.4H1271.2V343.7H1268.1ZM1278.9 343.4H1282.8V360.7H1278.9ZM1289.0 165.0H1292.9V241.8H1289.0ZM1375.5 292.4H1376.3V309.7H1375.5ZM1405.1 275.4H1408.3V343.7H1405.1ZM1405.1 547.2H1408.3V600.3H1405.1ZM1523.9 224.5H1527.8V309.7H1523.9ZM1527.5 173.5H1528.3V275.7H1527.5ZM1527.5 326.4H1528.3V428.6H1527.5ZM1575.0 224.5H1578.4V275.7H1575.0ZM1585.6 224.5H1586.2V241.8H1585.6ZM1639.7 224.5H1640.3V292.7H1639.7ZM1689.9 343.4H1693.8V428.6H1689.9ZM1719.0 411.3H1722.9V513.5H1719.0ZM1748.1 207.5H1752.0V241.8H1748.1ZM1748.1 309.4H1752.0V326.7H1748.1ZM1777.3 428.3H1781.2V496.5H1777.3ZM1780.9 394.3H1784.4V496.5H1780.9ZM1837.9 326.4H1841.8V360.7H1837.9ZM1855.6 496.2H1856.4V598.4H1855.6ZM1859.7 207.5H1860.4V292.7H1859.7ZM1892.1 258.4H1896.0V309.7H1892.1ZM1913.2 309.4H1914.3V411.6H1913.2ZM1921.1 581.2H1925.0V600.3H1921.1ZM1939.1 496.2H1942.4V598.4H1939.1ZM1985.9 309.4H1989.3V377.6H1985.9ZM1992.6 360.4H1996.5V428.6H1992.6ZM1996.2 241.5H1997.4V309.7H1996.2ZM2000.0 479.2H2003.9V496.5H2000.0ZM2003.6 173.5H2007.3V207.8H2003.6ZM2093.6 173.5H2094.3V258.7H2093.6ZM2144.0 292.4H2147.9V360.7H2144.0Z"/>
<path fill="#b4c8cf" d="M500.0 165.0H504.2V600.0H500.0ZM506.8 165.0H511.3V600.0H506.8ZM661.9 165.0H669.2V600.0H661.9ZM713.0 165.0H716.2V600.0H713.0ZM969.0 165.0H972.3V600.0H969.0ZM1004.9 165.0H1008.1V600.0H1004.9ZM1098.1 165.0H1102.3V600.0H1098.1ZM1189.1 165.0H1192.4V600.0H1189.1ZM1214.0 165.0H1217.4V600.0H1214.0ZM1234.9 165.0H1239.3V600.0H1234.9ZM1250.0 165.0H1253.2V600.0H1250.0ZM1292.9 165.0H1295.3V600.0H1292.9ZM1295.0 165.0H1297.2V600.0H1295.0ZM1333.0 165.0H1336.4V600.0H1333.0ZM1423.1 165.0H1426.3V600.0H1423.1ZM1430.1 165.0H1434.3V600.0H1430.1ZM1571.0 165.0H1575.3V600.0H1571.0ZM1647.0 165.0H1650.3V600.0H1647.0ZM1658.0 165.0H1661.4V600.0H1658.0ZM1790.9 165.0H1795.3V600.0H1790.9ZM1881.2 165.0H1885.4V600.0H1881.2ZM1899.0 165.0H1903.4V600.0H1899.0ZM366.8 165.0H367.4V207.8H366.8ZM421.1 165.0H424.3V190.8H421.1ZM496.1 343.4H500.0V411.6H496.1ZM496.1 496.2H500.0V547.5H496.1ZM499.7 496.2H500.3V513.5H499.7ZM511.0 165.0H514.4V190.8H511.0ZM637.0 377.3H640.9V411.6H637.0ZM695.0 343.4H698.2V428.6H695.0ZM712.7 207.5H713.3V309.7H712.7ZM712.7 564.2H713.3V600.3H712.7ZM715.9 513.2H719.8V547.5H715.9ZM719.5 411.3H720.3V479.6H719.5ZM850.0 165.0H853.2V224.8H850.0ZM915.0 598.1H918.2V600.3H915.0ZM964.7 165.0H965.2V224.8H964.7ZM1018.7 292.4H1019.3V377.6H1018.7ZM1026.0 462.3H1029.9V547.5H1026.0ZM1070.0 547.2H1073.5V598.4H1070.0ZM1155.7 394.3H1156.3V411.6H1155.7ZM1155.7 428.3H1156.3V530.5H1155.7ZM1207.2 224.5H1211.1V292.7H1207.2ZM1228.1 326.4H1232.0V411.6H1228.1ZM1239.0 598.1H1242.9V600.3H1239.0ZM1252.9 207.5H1256.8V275.7H1252.9ZM1318.6 377.3H1322.3V445.6H1318.6ZM1318.6 445.3H1322.3V513.5H1318.6ZM1408.0 165.0H1411.9V207.8H1408.0ZM1408.0 496.2H1411.9V530.5H1408.0ZM1437.0 343.4H1440.9V394.6H1437.0ZM1440.6 445.3H1444.5V496.5H1440.6ZM1467.1 275.4H1471.0V343.7H1467.1ZM1567.9 530.2H1571.3V600.3H1567.9ZM1653.6 428.3H1654.4V479.6H1653.6ZM1729.7 190.5H1730.3V241.8H1729.7ZM1903.1 530.2H1906.3V598.4H1903.1Z"/>
<path fill="#244bb6" d="M756.0 165.0H760.3V600.0H756.0ZM763.0 165.0H767.3V600.0H763.0ZM785.1 165.0H788.3V600.0H785.1ZM1080.1 165.0H1084.3V600.0H1080.1ZM348.2 564.2H349.4V600.3H348.2ZM893.1 462.3H897.0V479.6H893.1ZM896.7 598.1H897.3V600.3H896.7ZM897.0 326.4H900.5V377.6H897.0ZM932.5 309.4H933.4V411.6H932.5ZM982.7 513.2H983.3V581.5H982.7ZM993.6 428.3H997.4V513.5H993.6ZM1354.1 343.4H1358.0V360.7H1354.1Z"/>
<path fill="#191a3f" d="M760.0 165.0H763.3V600.0H760.0ZM933.1 165.0H940.2V600.0H933.1Z"/>
<path fill="#20265a" d="M774.1 165.0H781.5V600.0H774.1ZM388.0 224.5H391.9V241.8H388.0ZM933.1 530.2H937.0V547.5H933.1Z"/>
<path fill="#cb8067" d="M1506.0 165.0H1510.3V600.0H1506.0ZM1517.0 165.0H1524.2V600.0H1517.0ZM1535.1 165.0H1539.3V600.0H1535.1ZM1545.0 165.0H1553.3V600.0H1545.0ZM1578.1 165.0H1582.3V600.0H1578.1ZM1632.0 165.0H1636.4V600.0H1632.0ZM1766.1 165.0H1769.3V600.0H1766.1ZM1824.0 165.0H1827.2V600.0H1824.0ZM1964.0 165.0H1968.4V496.5H1964.0ZM1968.1 513.2H1971.4V530.5H1968.1ZM1968.1 530.2H1971.4V547.5H1968.1ZM1971.1 165.0H1975.5V496.5H1971.1ZM1971.1 496.2H1975.0V513.5H1971.1ZM1971.1 513.2H1975.0V530.5H1971.1ZM1974.7 496.2H1975.5V513.5H1974.7ZM1974.7 513.2H1975.5V530.5H1974.7ZM1978.1 496.2H1982.0V513.5H1978.1ZM1978.1 513.2H1982.0V530.5H1978.1ZM1981.7 496.2H1982.3V513.5H1981.7ZM1981.7 513.2H1982.3V530.5H1981.7ZM2011.0 165.0H2015.4V496.5H2011.0ZM2011.0 496.2H2014.9V513.5H2011.0ZM2014.6 496.2H2015.4V513.5H2014.6ZM2022.1 496.2H2026.0V513.5H2022.1ZM2022.1 513.2H2026.0V530.5H2022.1ZM2025.7 496.2H2029.5V513.5H2025.7ZM2025.7 513.2H2029.5V530.5H2025.7ZM2029.2 513.2H2033.1V530.5H2029.2ZM2029.2 530.2H2033.1V547.5H2029.2ZM2032.8 513.2H2033.4V530.5H2032.8ZM2032.8 530.2H2033.4V547.5H2032.8ZM2033.1 165.0H2036.3V496.5H2033.1ZM2033.1 496.2H2036.3V513.5H2033.1ZM2036.0 547.1H2039.9V564.4H2036.0ZM2039.6 547.1H2043.2V564.4H2039.6ZM2042.9 165.0H2045.3V496.5H2042.9ZM2042.9 496.2H2045.3V513.5H2042.9ZM2042.9 513.2H2045.3V530.5H2042.9ZM2045.0 165.0H2047.2V496.5H2045.0ZM2045.0 496.2H2047.2V513.5H2045.0ZM2045.0 513.2H2047.2V530.5H2045.0ZM2054.0 165.0H2058.2V496.5H2054.0ZM2054.0 496.2H2057.9V513.5H2054.0ZM2054.0 513.2H2057.9V530.5H2054.0ZM2057.6 496.2H2058.2V513.5H2057.6ZM2057.6 513.2H2058.2V530.5H2057.6ZM2068.9 513.2H2072.3V530.5H2068.9ZM2068.9 530.2H2072.3V547.5H2068.9ZM2079.1 165.0H2087.2V496.5H2079.1ZM2079.1 496.2H2083.0V513.5H2079.1ZM2079.1 513.2H2083.0V530.5H2079.1ZM2082.7 496.2H2086.6V513.5H2082.7ZM2082.7 513.2H2086.6V530.5H2082.7ZM2086.3 496.2H2087.2V513.5H2086.3ZM2086.3 513.2H2087.2V530.5H2086.3ZM2097.1 513.2H2101.0V530.5H2097.1ZM2097.1 530.2H2101.0V547.5H2097.1ZM2100.7 513.2H2101.3V530.5H2100.7ZM2100.7 530.2H2101.3V547.5H2100.7ZM2114.9 165.0H2119.3V496.5H2114.9ZM2114.9 496.2H2118.8V513.5H2114.9ZM2114.9 513.2H2118.8V530.5H2114.9ZM2114.9 530.2H2118.8V547.5H2114.9ZM2114.9 547.1H2118.8V564.4H2114.9ZM2118.5 496.2H2119.3V513.5H2118.5ZM2118.5 513.2H2119.3V530.5H2118.5ZM2118.5 530.2H2119.3V547.5H2118.5ZM2118.5 547.1H2119.3V564.4H2118.5ZM2129.7 165.0H2137.3V496.5H2129.7ZM2129.7 496.2H2133.6V513.5H2129.7ZM2129.7 513.2H2133.6V530.5H2129.7ZM2129.7 530.2H2133.6V547.5H2129.7ZM2129.7 547.1H2133.6V564.4H2129.7ZM2133.3 496.2H2137.2V513.5H2133.3ZM2133.3 513.2H2137.2V530.5H2133.3ZM2133.3 530.2H2137.2V547.5H2133.3ZM2133.3 547.1H2137.2V564.4H2133.3ZM2137.0 165.0H2141.2V496.5H2137.0ZM2137.0 496.2H2140.9V513.5H2137.0ZM2137.0 513.2H2140.9V530.5H2137.0ZM2137.0 530.2H2140.9V547.5H2137.0ZM2137.0 547.1H2140.9V564.4H2137.0ZM2140.6 496.2H2141.2V513.5H2140.6ZM2140.6 513.2H2141.2V530.5H2140.6ZM2140.6 530.2H2141.2V547.5H2140.6ZM2140.6 547.1H2141.2V564.4H2140.6ZM2140.9 530.2H2144.3V547.5H2140.9ZM2140.9 547.1H2144.3V564.4H2140.9ZM2161.9 165.0H2166.3V496.5H2161.9ZM2161.9 496.2H2165.8V513.5H2161.9ZM2161.9 513.2H2165.8V530.5H2161.9ZM2165.5 496.2H2166.3V513.5H2165.5ZM2165.5 513.2H2166.3V530.5H2165.5ZM2173.1 165.0H2180.4V496.5H2173.1ZM2173.1 496.2H2177.0V513.5H2173.1ZM2173.1 513.2H2177.0V530.5H2173.1ZM2176.7 496.2H2180.4V513.5H2176.7ZM2176.7 513.2H2180.4V530.5H2176.7ZM2190.9 547.1H2194.8V564.4H2190.9ZM2194.5 547.1H2195.3V564.4H2194.5ZM2195.0 547.1H2198.2V564.4H2195.0ZM2197.9 165.0H2202.3V496.5H2197.9ZM2197.9 496.2H2201.8V513.5H2197.9ZM2197.9 513.2H2201.8V530.5H2197.9ZM2201.5 496.2H2202.3V513.5H2201.5ZM2201.5 513.2H2202.3V530.5H2201.5ZM2202.0 530.2H2205.9V547.5H2202.0ZM2202.0 547.1H2205.9V564.4H2202.0ZM2205.6 530.2H2206.5V547.5H2205.6ZM2205.6 547.1H2206.5V564.4H2205.6ZM2206.2 547.1H2209.4V564.4H2206.2ZM2233.9 165.0H2238.3V496.5H2233.9ZM2233.9 496.2H2237.8V513.5H2233.9ZM2233.9 513.2H2237.8V530.5H2233.9ZM2237.5 496.2H2238.3V513.5H2237.5ZM2237.5 513.2H2238.3V530.5H2237.5ZM2238.0 165.0H2242.3V496.5H2238.0ZM2238.0 496.2H2241.9V513.5H2238.0ZM2238.0 513.2H2241.9V530.5H2238.0ZM2241.6 496.2H2242.3V513.5H2241.6ZM2241.6 513.2H2242.3V530.5H2241.6ZM2244.9 165.0H2252.4V496.5H2244.9ZM2244.9 496.2H2248.8V513.5H2244.9ZM2244.9 513.2H2248.8V530.5H2244.9ZM2248.5 496.2H2252.4V513.5H2248.5ZM2248.5 513.2H2252.4V530.5H2248.5ZM2263.0 496.2H2266.9V513.5H2263.0ZM2263.0 513.2H2266.9V530.5H2263.0ZM2266.6 496.2H2267.3V513.5H2266.6ZM2266.6 513.2H2267.3V530.5H2266.6ZM2115.3 564.0H2162.3V649.1H2115.3ZM2166.1 564.0H2173.2V649.1H2166.1ZM1765.6 224.5H1766.4V275.7H1765.6ZM1867.1 165.0H1870.3V241.8H1867.1ZM1867.1 309.4H1870.3V411.6H1867.1ZM1978.1 309.4H1982.0V394.6H1978.1ZM1982.0 428.3H1985.9V496.5H1982.0ZM2025.7 258.4H2029.5V309.7H2025.7ZM2065.0 394.3H2068.9V428.6H2065.0ZM2068.6 309.4H2069.2V326.7H2068.6ZM2072.0 275.4H2075.9V292.7H2072.0ZM2086.9 360.4H2090.3V394.6H2086.9ZM2086.9 462.3H2090.3V479.6H2086.9ZM2094.0 326.4H2097.4V343.7H2094.0ZM2111.7 173.5H2112.3V224.8H2111.7ZM2219.5 326.4H2223.4V343.7H2219.5ZM2266.6 343.4H2267.3V360.7H2266.6ZM2266.6 377.3H2267.3V394.6H2266.6Z"/>
<path fill="#bd5538" d="M1532.1 165.0H1535.4V600.0H1532.1ZM1589.0 165.0H1593.3V600.0H1589.0ZM1604.1 165.0H1607.3V600.0H1604.1ZM1809.1 165.0H1813.3V600.0H1809.1ZM1953.0 165.0H1957.2V496.5H1953.0ZM1968.1 165.0H1971.4V496.5H1968.1ZM2029.2 165.0H2033.4V496.5H2029.2ZM2036.0 496.2H2039.9V513.5H2036.0ZM2039.6 496.2H2043.2V513.5H2039.6ZM2112.0 513.2H2115.2V530.5H2112.0ZM2112.0 530.2H2115.2V547.5H2112.0ZM2122.9 165.0H2130.0V496.5H2122.9ZM2122.9 496.2H2126.8V513.5H2122.9ZM2126.5 496.2H2130.0V513.5H2126.5ZM2155.1 165.0H2162.2V496.5H2155.1ZM2155.1 496.2H2159.0V513.5H2155.1ZM2158.7 496.2H2162.2V513.5H2158.7ZM2166.0 513.2H2169.9V530.5H2166.0ZM2166.0 530.2H2169.9V547.5H2166.0ZM2169.6 513.2H2170.4V530.5H2169.6ZM2169.6 530.2H2170.4V547.5H2169.6ZM2188.0 530.2H2191.2V547.5H2188.0ZM2188.0 547.1H2191.2V564.4H2188.0ZM2209.1 165.0H2213.3V496.5H2209.1ZM2209.1 496.2H2213.0V513.5H2209.1ZM2209.1 513.2H2213.0V530.5H2209.1ZM2212.7 496.2H2213.3V513.5H2212.7ZM2212.7 513.2H2213.3V530.5H2212.7ZM2213.0 513.2H2216.2V530.5H2213.0ZM2213.0 530.2H2216.2V547.5H2213.0ZM2224.0 165.0H2227.2V496.5H2224.0ZM2224.0 496.2H2227.2V513.5H2224.0ZM2224.0 513.2H2227.2V530.5H2224.0ZM2231.0 513.2H2234.2V530.5H2231.0ZM2231.0 530.2H2234.2V547.5H2231.0ZM2242.0 513.2H2245.2V530.5H2242.0ZM2242.0 530.2H2245.2V547.5H2242.0ZM2252.1 530.2H2256.1V547.5H2252.1ZM2252.1 547.1H2256.1V564.4H2252.1ZM2255.8 530.2H2256.3V547.5H2255.8ZM2255.8 547.1H2256.3V564.4H2255.8ZM2260.0 165.0H2263.3V496.5H2260.0ZM2260.0 496.2H2263.3V513.5H2260.0ZM2260.0 513.2H2263.3V530.5H2260.0ZM2274.1 530.2H2278.0V547.5H2274.1ZM2274.1 547.1H2278.0V564.4H2274.1ZM2277.7 530.2H2279.2V547.5H2277.7ZM2277.7 547.1H2279.2V564.4H2277.7ZM2183.8 564.0H2188.2V649.1H2183.8ZM2227.3 564.0H2231.7V649.1H2227.3ZM2251.9 564.0H2256.2V649.1H2251.9ZM2263.0 564.0H2279.1V649.1H2263.0ZM1607.0 292.4H1610.9V309.7H1607.0ZM2036.0 360.4H2039.9V428.6H2036.0ZM2039.6 173.5H2043.2V224.8H2039.6ZM2108.1 224.5H2112.0V326.7H2108.1ZM2215.9 275.4H2219.8V326.7H2215.9ZM2215.9 445.3H2219.8V496.5H2215.9ZM2231.0 462.3H2234.2V479.6H2231.0ZM2242.0 190.5H2245.2V258.7H2242.0ZM2242.0 428.3H2245.2V496.5H2242.0ZM2277.7 326.4H2279.2V394.6H2277.7Z"/>
<path fill="#b43c2a" d="M1593.0 165.0H1596.2V600.0H1593.0ZM1607.0 165.0H1611.3V600.0H1607.0ZM2036.0 165.0H2043.2V496.5H2036.0ZM2112.0 165.0H2115.2V496.5H2112.0ZM2112.0 496.2H2115.2V513.5H2112.0ZM2166.0 496.2H2169.9V513.5H2166.0ZM2169.6 496.2H2170.4V513.5H2169.6ZM2170.1 530.2H2173.4V547.5H2170.1ZM2180.1 547.1H2184.0V564.4H2180.1ZM2183.7 547.1H2184.3V564.4H2183.7ZM2184.0 530.2H2187.9V547.5H2184.0ZM2184.0 547.1H2187.9V564.4H2184.0ZM2187.6 530.2H2188.3V547.5H2187.6ZM2187.6 547.1H2188.3V564.4H2187.6ZM2188.0 496.2H2191.2V513.5H2188.0ZM2188.0 513.2H2191.2V530.5H2188.0ZM2213.0 165.0H2216.2V496.5H2213.0ZM2213.0 496.2H2216.2V513.5H2213.0ZM2226.9 547.1H2230.8V564.4H2226.9ZM2230.5 547.1H2231.3V564.4H2230.5ZM2231.0 165.0H2234.2V496.5H2231.0ZM2231.0 496.2H2234.2V513.5H2231.0ZM2242.0 165.0H2245.2V496.5H2242.0ZM2242.0 496.2H2245.2V513.5H2242.0ZM2252.1 165.0H2256.3V496.5H2252.1ZM2252.1 496.2H2256.1V513.5H2252.1ZM2252.1 513.2H2256.1V530.5H2252.1ZM2255.8 496.2H2256.3V513.5H2255.8ZM2255.8 513.2H2256.3V530.5H2255.8ZM2260.0 530.2H2263.3V547.5H2260.0ZM2260.0 547.1H2263.3V564.4H2260.0ZM2267.0 513.2H2270.3V530.5H2267.0ZM2267.0 530.2H2270.3V547.5H2267.0ZM2267.0 547.1H2270.3V564.4H2267.0ZM2270.0 547.1H2273.9V564.4H2270.0ZM2273.6 547.1H2274.4V564.4H2273.6ZM2274.1 165.0H2279.2V496.5H2274.1ZM2274.1 496.2H2278.0V513.5H2274.1ZM2274.1 513.2H2278.0V530.5H2274.1ZM2277.7 496.2H2279.2V513.5H2277.7ZM2277.7 513.2H2279.2V530.5H2277.7ZM2255.9 564.0H2263.3V649.1H2255.9ZM1592.6 462.3H1593.3V496.5H1592.6ZM1809.1 547.2H1813.0V581.5H1809.1ZM1812.7 275.4H1813.3V326.7H1812.7ZM2029.2 479.2H2033.1V496.5H2029.2ZM2158.7 326.4H2162.2V428.6H2158.7ZM2166.0 411.3H2169.9V428.6H2166.0ZM2224.0 241.5H2227.2V309.7H2224.0Z"/>
<path fill="#c56b4e" d="M1953.0 496.2H1956.9V513.5H1953.0ZM1956.6 496.2H1957.2V513.5H1956.6ZM1968.1 496.2H1971.4V513.5H1968.1ZM1978.1 165.0H1982.3V496.5H1978.1ZM2022.1 165.0H2029.5V496.5H2022.1ZM2029.2 496.2H2033.1V513.5H2029.2ZM2032.8 496.2H2033.4V513.5H2032.8ZM2036.0 513.2H2039.9V530.5H2036.0ZM2036.0 530.2H2039.9V547.5H2036.0ZM2039.6 513.2H2043.2V530.5H2039.6ZM2039.6 530.2H2043.2V547.5H2039.6ZM2068.9 165.0H2072.3V496.5H2068.9ZM2068.9 496.2H2072.3V513.5H2068.9ZM2097.1 165.0H2101.3V496.5H2097.1ZM2097.1 496.2H2101.0V513.5H2097.1ZM2100.7 496.2H2101.3V513.5H2100.7ZM2108.1 165.0H2112.3V496.5H2108.1ZM2108.1 496.2H2112.0V513.5H2108.1ZM2108.1 513.2H2112.0V530.5H2108.1ZM2108.1 530.2H2112.0V547.5H2108.1ZM2108.1 547.1H2112.0V564.4H2108.1ZM2111.7 496.2H2112.3V513.5H2111.7ZM2111.7 513.2H2112.3V530.5H2111.7ZM2111.7 530.2H2112.3V547.5H2111.7ZM2111.7 547.1H2112.3V564.4H2111.7ZM2112.0 547.1H2115.2V564.4H2112.0ZM2122.9 513.2H2126.8V530.5H2122.9ZM2122.9 530.2H2126.8V547.5H2122.9ZM2122.9 547.1H2126.8V564.4H2122.9ZM2126.5 513.2H2130.0V530.5H2126.5ZM2126.5 530.2H2130.0V547.5H2126.5ZM2126.5 547.1H2130.0V564.4H2126.5ZM2155.1 513.2H2159.0V530.5H2155.1ZM2155.1 530.2H2159.0V547.5H2155.1ZM2155.1 547.1H2159.0V564.4H2155.1ZM2158.7 513.2H2162.2V530.5H2158.7ZM2158.7 530.2H2162.2V547.5H2158.7ZM2158.7 547.1H2162.2V564.4H2158.7ZM2166.0 547.1H2169.9V564.4H2166.0ZM2169.6 547.1H2170.4V564.4H2169.6ZM2170.1 547.1H2173.4V564.4H2170.1ZM2173.1 530.2H2177.0V547.5H2173.1ZM2173.1 547.1H2177.0V564.4H2173.1ZM2176.7 530.2H2180.4V547.5H2176.7ZM2176.7 547.1H2180.4V564.4H2176.7ZM2197.9 530.2H2201.8V547.5H2197.9ZM2197.9 547.1H2201.8V564.4H2197.9ZM2201.5 530.2H2202.3V547.5H2201.5ZM2201.5 547.1H2202.3V564.4H2201.5ZM2209.1 530.2H2213.0V547.5H2209.1ZM2209.1 547.1H2213.0V564.4H2209.1ZM2212.7 530.2H2213.3V547.5H2212.7ZM2212.7 547.1H2213.3V564.4H2212.7ZM2213.0 547.1H2216.2V564.4H2213.0ZM2215.9 165.0H2224.3V496.5H2215.9ZM2215.9 496.2H2219.8V513.5H2215.9ZM2215.9 513.2H2219.8V530.5H2215.9ZM2215.9 530.2H2219.8V547.5H2215.9ZM2215.9 547.1H2219.8V564.4H2215.9ZM2219.5 496.2H2223.4V513.5H2219.5ZM2219.5 513.2H2223.4V530.5H2219.5ZM2219.5 530.2H2223.4V547.5H2219.5ZM2219.5 547.1H2223.4V564.4H2219.5ZM2223.1 496.2H2224.3V513.5H2223.1ZM2223.1 513.2H2224.3V530.5H2223.1ZM2223.1 530.2H2224.3V547.5H2223.1ZM2223.1 547.1H2224.3V564.4H2223.1ZM2224.0 530.2H2227.2V547.5H2224.0ZM2224.0 547.1H2227.2V564.4H2224.0ZM2231.0 547.1H2234.2V564.4H2231.0ZM2233.9 530.2H2237.8V547.5H2233.9ZM2233.9 547.1H2237.8V564.4H2233.9ZM2237.5 530.2H2238.3V547.5H2237.5ZM2237.5 547.1H2238.3V564.4H2237.5ZM2238.0 530.2H2241.9V547.5H2238.0ZM2238.0 547.1H2241.9V564.4H2238.0ZM2241.6 530.2H2242.3V547.5H2241.6ZM2241.6 547.1H2242.3V564.4H2241.6ZM2242.0 547.1H2245.2V564.4H2242.0ZM2244.9 530.2H2248.8V547.5H2244.9ZM2244.9 547.1H2248.8V564.4H2244.9ZM2248.5 530.2H2252.4V547.5H2248.5ZM2248.5 547.1H2252.4V564.4H2248.5ZM2263.0 530.2H2266.9V547.5H2263.0ZM2263.0 547.1H2266.9V564.4H2263.0ZM2266.6 530.2H2267.3V547.5H2266.6ZM2266.6 547.1H2267.3V564.4H2266.6ZM2108.2 564.0H2115.6V649.1H2108.2ZM2172.9 564.0H2184.1V649.1H2172.9ZM2187.9 564.0H2227.6V649.1H2187.9ZM2231.4 564.0H2252.2V649.1H2231.4ZM1506.0 428.3H1509.9V496.5H1506.0ZM1506.0 547.2H1509.9V600.3H1506.0ZM1520.7 513.2H1524.2V581.5H1520.7ZM1535.1 165.0H1539.0V258.7H1535.1ZM1535.1 428.3H1539.0V462.6H1535.1ZM1545.0 173.5H1548.9V258.7H1545.0ZM1581.7 173.5H1582.3V207.8H1581.7ZM1589.0 165.0H1592.9V173.8H1589.0ZM1589.0 241.5H1592.9V292.7H1589.0ZM1592.6 173.5H1593.3V275.7H1592.6ZM1812.7 479.2H1813.3V564.5H1812.7ZM1824.0 165.0H1827.2V241.8H1824.0ZM1824.0 598.1H1827.2V600.3H1824.0ZM1964.0 360.4H1967.9V394.6H1964.0ZM1967.6 241.5H1968.4V275.7H1967.6ZM1968.1 224.5H1971.4V258.7H1968.1ZM2057.6 292.4H2058.2V394.6H2057.6ZM2129.7 343.4H2133.6V445.6H2129.7ZM2133.3 190.5H2137.2V207.8H2133.3ZM2137.0 241.5H2140.9V326.7H2137.0ZM2137.0 462.3H2140.9V496.5H2137.0ZM2212.7 462.3H2213.3V479.6H2212.7ZM2237.5 258.4H2238.3V360.7H2237.5ZM2241.6 165.0H2242.3V224.8H2241.6ZM2260.0 377.3H2263.3V428.6H2260.0Z"/>
<path fill="#a82527" d="M2166.0 165.0H2170.4V496.5H2166.0ZM2170.1 513.2H2173.4V530.5H2170.1ZM2180.1 530.2H2184.0V547.5H2180.1ZM2183.7 530.2H2184.3V547.5H2183.7ZM2184.0 496.2H2187.9V513.5H2184.0ZM2184.0 513.2H2187.9V530.5H2184.0ZM2187.6 496.2H2188.3V513.5H2187.6ZM2187.6 513.2H2188.3V530.5H2187.6ZM2188.0 165.0H2191.2V496.5H2188.0ZM2226.9 513.2H2230.8V530.5H2226.9ZM2226.9 530.2H2230.8V547.5H2226.9ZM2230.5 513.2H2231.3V530.5H2230.5ZM2230.5 530.2H2231.3V547.5H2230.5ZM2256.0 530.2H2259.9V547.5H2256.0ZM2256.0 547.1H2259.9V564.4H2256.0ZM2259.6 530.2H2260.3V547.5H2259.6ZM2259.6 547.1H2260.3V564.4H2259.6ZM2267.0 165.0H2270.3V496.5H2267.0ZM2267.0 496.2H2270.3V513.5H2267.0ZM2270.0 530.2H2273.9V547.5H2270.0ZM2273.6 530.2H2274.4V547.5H2273.6ZM1593.0 598.1H1596.2V600.3H1593.0ZM1607.0 326.4H1610.9V428.6H1607.0ZM1610.6 445.3H1611.3V530.5H1610.6ZM2184.0 165.0H2187.9V241.8H2184.0Z"/>
<path fill="#840d29" d="M2170.1 165.0H2173.4V496.5H2170.1ZM2180.1 496.2H2184.0V513.5H2180.1ZM2183.7 496.2H2184.3V513.5H2183.7ZM2226.9 165.0H2231.3V496.5H2226.9ZM2256.0 165.0H2260.3V496.5H2256.0ZM2270.0 496.2H2273.9V513.5H2270.0ZM2273.6 496.2H2274.4V513.5H2273.6Z"/>
<path fill="#9a1428" d="M2170.1 496.2H2173.4V513.5H2170.1ZM2180.1 513.2H2184.0V530.5H2180.1ZM2183.7 513.2H2184.3V530.5H2183.7ZM2184.0 165.0H2188.3V496.5H2184.0ZM2226.9 496.2H2230.8V513.5H2226.9ZM2230.5 496.2H2231.3V513.5H2230.5ZM2256.0 496.2H2259.9V513.5H2256.0ZM2256.0 513.2H2259.9V530.5H2256.0ZM2259.6 496.2H2260.3V513.5H2259.6ZM2259.6 513.2H2260.3V530.5H2259.6ZM2270.0 513.2H2273.9V530.5H2270.0ZM2273.6 513.2H2274.4V530.5H2273.6ZM2166.0 394.3H2169.9V411.6H2166.0ZM2169.6 428.3H2170.4V496.5H2169.6ZM2256.0 428.3H2259.9V479.6H2256.0ZM2259.6 173.5H2260.3V241.8H2259.6ZM2259.6 445.3H2260.3V496.5H2259.6ZM2267.0 173.5H2270.3V258.7H2267.0Z"/>
<path fill="#6d0d26" d="M2180.1 165.0H2184.3V496.5H2180.1ZM2270.0 165.0H2274.4V496.5H2270.0ZM2170.1 309.4H2173.4V394.6H2170.1ZM2226.9 326.4H2230.8V343.7H2226.9Z"/>
<path fill="#560b1e" d="M2270.0 326.4H2273.9V360.7H2270.0Z"/>
</g>
<g clip-path="url(#watclip)" shape-rendering="crispEdges">
<path fill="#051f2e" d="M300.0 649.1H302.3V768.3H300.0ZM302.0 649.1H305.9V768.3H302.0ZM305.6 649.1H309.5V768.3H305.6ZM309.2 649.1H313.1V768.3H309.2ZM312.8 649.1H316.7V802.3H312.8ZM316.4 649.1H320.3V802.3H316.4ZM320.0 649.1H323.9V802.3H320.0ZM323.6 649.1H327.5V802.3H323.6ZM327.2 649.1H331.1V802.3H327.2ZM330.8 649.1H334.7V802.3H330.8ZM334.4 649.1H338.3V802.3H334.4ZM338.0 649.1H341.9V802.3H338.0ZM341.6 649.1H345.5V802.3H341.6ZM345.2 649.1H349.2V819.2H345.2ZM348.9 649.1H352.8V819.2H348.9ZM352.5 649.1H356.4V819.2H352.5ZM356.1 649.1H360.0V819.2H356.1ZM359.7 649.1H363.6V853.2H359.7ZM363.3 649.1H367.2V853.2H363.3ZM366.9 649.1H370.8V853.2H366.9ZM370.5 649.1H374.4V853.2H370.5ZM374.1 649.1H378.0V853.2H374.1ZM377.7 649.1H381.6V853.2H377.7ZM381.3 649.1H385.2V853.2H381.3ZM384.9 649.1H388.8V853.2H384.9ZM388.5 649.1H392.4V870.2H388.5ZM392.1 649.1H396.0V870.2H392.1ZM395.7 649.1H399.6V870.2H395.7ZM399.3 649.1H403.2V870.2H399.3ZM402.9 649.1H406.8V870.2H402.9ZM406.5 649.1H410.4V870.2H406.5ZM410.1 649.1H414.0V870.2H410.1ZM413.7 649.1H417.6V887.2H413.7ZM417.3 649.1H421.2V887.2H417.3ZM420.9 649.1H424.8V887.2H420.9ZM424.5 649.1H428.4V887.2H424.5ZM428.1 649.1H432.0V887.2H428.1ZM431.7 649.1H435.6V887.2H431.7ZM435.3 649.1H439.3V887.2H435.3ZM439.0 649.1H442.9V887.2H439.0ZM442.6 649.1H446.5V887.2H442.6ZM446.2 649.1H450.1V887.2H446.2ZM449.8 649.1H453.7V887.2H449.8ZM453.4 649.1H457.3V819.2H453.4ZM457.0 649.1H460.9V819.2H457.0ZM460.6 649.1H464.5V819.2H460.6ZM464.2 649.1H468.1V819.2H464.2ZM467.8 649.1H471.7V819.2H467.8ZM471.4 649.1H475.3V819.2H471.4ZM475.0 649.1H478.9V819.2H475.0ZM478.6 649.1H482.5V819.2H478.6ZM482.2 649.1H486.1V921.2H482.2ZM485.8 649.1H489.7V819.2H485.8ZM489.4 649.1H493.3V819.2H489.4ZM493.0 649.1H496.9V819.2H493.0ZM496.6 649.1H500.5V819.2H496.6ZM500.2 649.1H504.1V819.2H500.2ZM503.8 649.1H507.7V819.2H503.8ZM507.4 649.1H511.3V819.2H507.4ZM511.0 649.1H514.9V819.2H511.0ZM514.6 649.1H518.5V819.2H514.6ZM518.2 649.1H522.1V836.2H518.2ZM521.8 649.1H525.7V836.2H521.8ZM525.4 649.1H529.4V836.2H525.4ZM529.1 649.1H533.0V853.2H529.1ZM532.7 649.1H536.6V853.2H532.7ZM536.3 649.1H540.2V853.2H536.3ZM539.9 649.1H543.8V853.2H539.9ZM543.5 649.1H547.4V853.2H543.5ZM547.1 649.1H551.0V853.2H547.1ZM550.7 649.1H554.6V870.2H550.7ZM554.3 649.1H558.2V870.2H554.3ZM557.9 649.1H561.8V870.2H557.9ZM561.5 649.1H565.4V870.2H561.5ZM565.1 649.1H569.0V887.2H565.1ZM568.7 649.1H572.6V887.2H568.7ZM572.3 649.1H576.2V887.2H572.3ZM575.9 649.1H579.8V887.2H575.9ZM579.5 649.1H583.4V887.2H579.5ZM583.1 649.1H587.0V887.2H583.1ZM586.7 649.1H590.6V921.2H586.7ZM590.3 649.1H594.2V921.2H590.3ZM593.9 649.1H597.8V921.2H593.9ZM597.5 649.1H601.4V921.2H597.5ZM601.1 649.1H605.0V921.2H601.1ZM604.7 649.1H608.6V921.2H604.7ZM608.3 649.1H612.2V921.2H608.3ZM611.9 649.1H615.8V921.2H611.9ZM615.5 649.1H619.5V921.2H615.5ZM619.2 649.1H623.1V955.1H619.2ZM622.8 649.1H626.7V955.1H622.8ZM626.4 649.1H630.3V955.1H626.4ZM630.0 649.1H633.9V955.1H630.0ZM633.6 649.1H637.5V955.1H633.6ZM637.2 649.1H641.1V955.1H637.2ZM640.8 649.1H644.7V955.1H640.8ZM644.4 649.1H648.3V955.1H644.4ZM648.0 649.1H651.9V955.1H648.0ZM651.6 649.1H655.5V955.1H651.6ZM655.2 649.1H659.1V955.1H655.2ZM658.8 649.1H662.7V955.1H658.8ZM662.4 649.1H666.3V955.1H662.4ZM666.0 649.1H669.9V955.1H666.0ZM669.6 649.1H673.5V955.1H669.6ZM673.2 649.1H677.1V955.1H673.2ZM676.8 649.1H680.7V955.1H676.8ZM680.4 649.1H684.3V955.1H680.4ZM684.0 649.1H687.9V955.1H684.0ZM687.6 649.1H691.5V955.1H687.6ZM691.2 649.1H695.1V955.1H691.2ZM694.8 649.1H698.7V955.1H694.8ZM698.4 649.1H702.3V955.1H698.4ZM702.0 649.1H705.9V955.1H702.0ZM705.6 649.1H709.6V955.1H705.6ZM709.3 649.1H713.2V955.1H709.3ZM712.9 649.1H716.8V955.1H712.9ZM716.5 649.1H720.4V955.1H716.5ZM720.1 649.1H724.0V955.1H720.1ZM723.7 649.1H727.6V972.1H723.7ZM727.3 649.1H731.2V972.1H727.3ZM730.9 649.1H734.8V972.1H730.9ZM734.5 649.1H738.4V972.1H734.5ZM738.1 649.1H742.0V972.1H738.1ZM741.7 649.1H745.6V972.1H741.7ZM745.3 649.1H749.2V972.1H745.3ZM748.9 649.1H752.8V972.1H748.9ZM752.5 649.1H756.4V972.1H752.5ZM756.1 649.1H760.0V972.1H756.1ZM759.7 649.1H763.6V972.1H759.7ZM763.3 649.1H767.2V972.1H763.3ZM766.9 649.1H770.8V972.1H766.9ZM770.5 649.1H774.4V972.1H770.5ZM774.1 649.1H778.0V972.1H774.1ZM777.7 649.1H781.6V989.1H777.7ZM781.3 649.1H785.2V989.1H781.3ZM784.9 649.1H788.8V989.1H784.9ZM788.5 649.1H792.4V989.1H788.5ZM792.1 649.1H796.0V989.1H792.1ZM795.7 649.1H799.7V989.1H795.7ZM799.4 649.1H803.3V989.1H799.4ZM803.0 649.1H806.9V989.1H803.0ZM806.6 649.1H810.5V989.1H806.6ZM810.2 649.1H814.1V989.1H810.2ZM813.8 649.1H817.7V989.1H813.8ZM817.4 649.1H821.3V989.1H817.4ZM821.0 649.1H824.9V989.1H821.0ZM824.6 649.1H828.5V989.1H824.6ZM828.2 649.1H832.1V989.1H828.2ZM831.8 649.1H835.7V1006.1H831.8ZM835.4 649.1H839.3V1006.1H835.4ZM839.0 649.1H842.9V1006.1H839.0ZM842.6 649.1H846.5V1006.1H842.6ZM846.2 649.1H850.1V1006.1H846.2ZM849.8 649.1H853.7V1006.1H849.8ZM853.4 649.1H857.3V1006.1H853.4ZM857.0 649.1H860.9V1006.1H857.0ZM860.6 649.1H864.5V1006.1H860.6ZM864.2 649.1H868.1V1006.1H864.2ZM867.8 649.1H871.7V1006.1H867.8ZM871.4 649.1H875.3V1023.1H871.4ZM875.0 649.1H878.9V1023.1H875.0ZM878.6 649.1H882.5V1040.1H878.6ZM882.2 649.1H886.1V1040.1H882.2ZM885.8 649.1H889.8V1040.1H885.8ZM889.5 649.1H893.4V1040.1H889.5ZM893.1 649.1H897.0V1040.1H893.1ZM896.7 649.1H900.6V1040.1H896.7ZM900.3 649.1H904.2V1040.1H900.3ZM903.9 649.1H907.8V1040.1H903.9ZM907.5 649.1H911.4V1040.1H907.5ZM911.1 649.1H915.0V1040.1H911.1ZM914.7 649.1H918.6V989.1H914.7ZM918.3 649.1H922.2V989.1H918.3ZM921.9 649.1H925.8V989.1H921.9ZM925.5 649.1H929.4V989.1H925.5ZM929.1 649.1H933.0V989.1H929.1ZM932.7 649.1H936.6V989.1H932.7ZM936.3 649.1H940.2V989.1H936.3ZM939.9 649.1H943.8V989.1H939.9ZM943.5 649.1H947.4V989.1H943.5ZM947.1 649.1H951.0V989.1H947.1ZM950.7 649.1H954.6V989.1H950.7ZM954.3 649.1H958.2V989.1H954.3ZM957.9 649.1H961.8V989.1H957.9ZM961.5 649.1H965.4V989.1H961.5ZM965.1 649.1H969.0V989.1H965.1ZM968.7 649.1H972.6V989.1H968.7ZM972.3 649.1H976.2V989.1H972.3ZM975.9 649.1H979.9V989.1H975.9ZM979.6 649.1H983.5V989.1H979.6ZM983.2 649.1H987.1V989.1H983.2ZM986.8 649.1H990.7V1006.1H986.8ZM990.4 649.1H994.3V1006.1H990.4ZM994.0 649.1H997.9V1006.1H994.0ZM997.6 649.1H1001.5V1006.1H997.6ZM1001.2 649.1H1005.1V1006.1H1001.2ZM1004.8 649.1H1008.7V1006.1H1004.8ZM1008.4 649.1H1012.3V1006.1H1008.4ZM1012.0 649.1H1015.9V1006.1H1012.0ZM1015.6 649.1H1019.5V1006.1H1015.6ZM1019.2 649.1H1023.1V1006.1H1019.2ZM1022.8 649.1H1026.7V1006.1H1022.8ZM1026.4 649.1H1030.3V1006.1H1026.4ZM1030.0 649.1H1033.9V1006.1H1030.0ZM1033.6 649.1H1037.5V1006.1H1033.6ZM1037.2 649.1H1041.1V1023.1H1037.2ZM1040.8 649.1H1044.7V1023.1H1040.8ZM1044.4 649.1H1048.3V1023.1H1044.4ZM1048.0 649.1H1051.9V1023.1H1048.0ZM1051.6 649.1H1055.5V1006.1H1051.6ZM1055.2 649.1H1059.1V1006.1H1055.2ZM1058.8 649.1H1062.7V1006.1H1058.8ZM1062.4 649.1H1066.3V1006.1H1062.4ZM1066.0 649.1H1070.0V1023.1H1066.0ZM1069.7 649.1H1073.6V1023.1H1069.7ZM1073.3 649.1H1077.2V1040.1H1073.3ZM1076.9 649.1H1080.8V1040.1H1076.9ZM1080.5 649.1H1084.4V1040.1H1080.5ZM1084.1 649.1H1088.0V1040.1H1084.1ZM1087.7 649.1H1091.6V1040.1H1087.7ZM1091.3 649.1H1095.2V1040.1H1091.3ZM1094.9 649.1H1098.8V1040.1H1094.9ZM1949.0 649.1H1952.9V666.4H1949.0ZM1952.6 649.1H1956.5V666.4H1952.6Z"/>
<path fill="#072a45" d="M300.0 768.0H302.3V836.2H300.0ZM302.0 768.0H305.9V836.2H302.0ZM305.6 768.0H309.5V836.2H305.6ZM309.2 768.0H313.1V836.2H309.2ZM312.8 802.0H316.7V853.2H312.8ZM316.4 802.0H320.3V853.2H316.4ZM320.0 802.0H323.9V853.2H320.0ZM323.6 802.0H327.5V853.2H323.6ZM327.2 802.0H331.1V853.2H327.2ZM330.8 802.0H334.7V853.2H330.8ZM334.4 802.0H338.3V870.2H334.4ZM338.0 802.0H341.9V870.2H338.0ZM341.6 802.0H345.5V870.2H341.6ZM345.2 819.0H349.2V870.2H345.2ZM348.9 819.0H352.8V870.2H348.9ZM352.5 819.0H356.4V870.2H352.5ZM356.1 819.0H360.0V887.2H356.1ZM359.7 852.9H363.6V887.2H359.7ZM363.3 852.9H367.2V921.2H363.3ZM366.9 852.9H370.8V921.2H366.9ZM370.5 852.9H374.4V921.2H370.5ZM374.1 852.9H378.0V921.2H374.1ZM377.7 852.9H381.6V955.1H377.7ZM381.3 852.9H385.2V955.1H381.3ZM384.9 852.9H388.8V955.1H384.9ZM388.5 869.9H392.4V955.1H388.5ZM392.1 869.9H396.0V955.1H392.1ZM395.7 869.9H399.6V989.1H395.7ZM399.3 869.9H403.2V989.1H399.3ZM402.9 869.9H406.8V989.1H402.9ZM406.5 869.9H410.4V989.1H406.5ZM410.1 869.9H414.0V1006.1H410.1ZM413.7 886.9H417.6V1006.1H413.7ZM417.3 886.9H421.2V1006.1H417.3ZM420.9 886.9H424.8V1006.1H420.9ZM424.5 886.9H428.4V1040.1H424.5ZM428.1 886.9H432.0V1040.1H428.1ZM431.7 886.9H435.6V1040.1H431.7ZM435.3 886.9H439.3V1040.1H435.3ZM439.0 886.9H442.9V1040.1H439.0ZM442.6 886.9H446.5V1040.1H442.6ZM446.2 886.9H450.1V1040.1H446.2ZM449.8 886.9H453.7V1040.1H449.8ZM453.4 819.0H457.3V989.1H453.4ZM457.0 819.0H460.9V921.2H457.0ZM460.6 819.0H464.5V921.2H460.6ZM464.2 819.0H468.1V921.2H464.2ZM467.8 819.0H471.7V921.2H467.8ZM471.4 819.0H475.3V921.2H471.4ZM475.0 819.0H478.9V921.2H475.0ZM478.6 819.0H482.5V921.2H478.6ZM482.2 920.9H486.1V1108.0H482.2ZM485.8 819.0H489.7V904.2H485.8ZM489.4 819.0H493.3V904.2H489.4ZM493.0 819.0H496.9V904.2H493.0ZM496.6 819.0H500.5V904.2H496.6ZM500.2 819.0H504.1V904.2H500.2ZM503.8 819.0H507.7V921.2H503.8ZM507.4 819.0H511.3V921.2H507.4ZM511.0 819.0H514.9V921.2H511.0ZM514.6 819.0H518.5V921.2H514.6ZM518.2 835.9H522.1V921.2H518.2ZM521.8 835.9H525.7V955.1H521.8ZM525.4 835.9H529.4V955.1H525.4ZM529.1 852.9H533.0V955.1H529.1ZM532.7 852.9H536.6V955.1H532.7ZM536.3 852.9H540.2V989.1H536.3ZM539.9 852.9H543.8V989.1H539.9ZM543.5 852.9H547.4V989.1H543.5ZM547.1 852.9H551.0V1006.1H547.1ZM550.7 869.9H554.6V1006.1H550.7ZM554.3 869.9H558.2V1040.1H554.3ZM557.9 869.9H561.8V1040.1H557.9ZM561.5 869.9H565.4V1040.1H561.5ZM565.1 886.9H569.0V1040.1H565.1ZM568.7 886.9H572.6V1040.1H568.7ZM572.3 886.9H576.2V1040.1H572.3ZM575.9 886.9H579.8V1057.0H575.9ZM579.5 886.9H583.4V1057.0H579.5ZM583.1 886.9H587.0V1057.0H583.1ZM586.7 920.9H590.6V1057.0H586.7ZM590.3 920.9H594.2V1057.0H590.3ZM593.9 920.9H597.8V1057.0H593.9ZM597.5 920.9H601.4V1091.0H597.5ZM601.1 920.9H605.0V1091.0H601.1ZM604.7 920.9H608.6V1091.0H604.7ZM608.3 920.9H612.2V1108.0H608.3ZM611.9 920.9H615.8V1108.0H611.9ZM615.5 920.9H619.5V1125.0H615.5ZM619.2 954.8H623.1V1125.0H619.2ZM622.8 954.8H626.7V1125.0H622.8ZM626.4 954.8H630.3V1142.0H626.4ZM630.0 954.8H633.9V1142.0H630.0ZM633.6 954.8H637.5V1142.0H633.6ZM637.2 954.8H641.1V1142.0H637.2ZM640.8 954.8H644.7V1142.0H640.8ZM644.4 954.8H648.3V1159.0H644.4ZM648.0 954.8H651.9V1159.0H648.0ZM651.6 954.8H655.5V1159.0H651.6ZM655.2 954.8H659.1V1159.0H655.2ZM658.8 954.8H662.7V1159.0H658.8ZM662.4 954.8H666.3V1159.0H662.4ZM666.0 954.8H669.9V1159.0H666.0ZM669.6 954.8H673.5V1159.0H669.6ZM673.2 954.8H677.1V1159.0H673.2ZM676.8 954.8H680.7V1159.0H676.8ZM680.4 954.8H684.3V1159.0H680.4ZM684.0 954.8H687.9V1159.0H684.0ZM687.6 954.8H691.5V1159.0H687.6ZM691.2 954.8H695.1V1159.0H691.2ZM694.8 954.8H698.7V1159.0H694.8ZM698.4 954.8H702.3V1175.9H698.4ZM702.0 954.8H705.9V1175.9H702.0ZM705.6 954.8H709.6V1175.9H705.6ZM709.3 954.8H713.2V1175.9H709.3ZM712.9 954.8H716.8V1175.9H712.9ZM716.5 954.8H720.4V1175.9H716.5ZM720.1 954.8H724.0V1175.9H720.1ZM723.7 971.8H727.6V1175.9H723.7ZM727.3 971.8H731.2V1175.9H727.3ZM730.9 971.8H734.8V1175.9H730.9ZM734.5 971.8H738.4V1175.9H734.5ZM738.1 971.8H742.0V1175.9H738.1ZM741.7 971.8H745.6V1175.9H741.7ZM745.3 971.8H749.2V1175.9H745.3ZM748.9 971.8H752.8V1175.9H748.9ZM752.5 971.8H756.4V1175.9H752.5ZM756.1 971.8H760.0V1175.9H756.1ZM759.7 971.8H763.6V1175.9H759.7ZM763.3 971.8H767.2V1175.9H763.3ZM766.9 971.8H770.8V1209.9H766.9ZM770.5 971.8H774.4V1209.9H770.5ZM774.1 971.8H778.0V1209.9H774.1ZM777.7 988.8H781.6V1209.9H777.7ZM781.3 988.8H785.2V1209.9H781.3ZM784.9 988.8H788.8V1209.9H784.9ZM788.5 988.8H792.4V1209.9H788.5ZM792.1 988.8H796.0V1209.9H792.1ZM795.7 988.8H799.7V1209.9H795.7ZM799.4 988.8H803.3V1209.9H799.4ZM803.0 988.8H806.9V1209.9H803.0ZM806.6 988.8H810.5V1209.9H806.6ZM810.2 988.8H814.1V1209.9H810.2ZM813.8 988.8H817.7V1209.9H813.8ZM817.4 988.8H821.3V1209.9H817.4ZM821.0 988.8H824.9V1209.9H821.0ZM824.6 988.8H828.5V1209.9H824.6ZM828.2 988.8H832.1V1209.9H828.2ZM831.8 1005.8H835.7V1209.9H831.8ZM835.4 1005.8H839.3V1209.9H835.4ZM839.0 1005.8H842.9V1209.9H839.0ZM842.6 1005.8H846.5V1209.9H842.6ZM846.2 1005.8H850.1V1209.9H846.2ZM849.8 1005.8H853.7V1209.9H849.8ZM853.4 1005.8H857.3V1209.9H853.4ZM857.0 1005.8H860.9V1243.9H857.0ZM860.6 1005.8H864.5V1243.9H860.6ZM864.2 1005.8H868.1V1243.9H864.2ZM867.8 1005.8H871.7V1243.9H867.8ZM871.4 1022.8H875.3V1243.9H871.4ZM875.0 1022.8H878.9V1243.9H875.0ZM878.6 1039.8H882.5V1260.9H878.6ZM882.2 1039.8H886.1V1260.9H882.2ZM885.8 1039.8H889.8V1260.9H885.8ZM889.5 1039.8H893.4V1260.9H889.5ZM893.1 1039.8H897.0V1260.9H893.1ZM896.7 1039.8H900.6V1260.9H896.7ZM900.3 1039.8H904.2V1260.9H900.3ZM903.9 1039.8H907.8V1260.9H903.9ZM907.5 1039.8H911.4V1260.9H907.5ZM911.1 1039.8H915.0V1260.9H911.1ZM914.7 988.8H918.6V1209.9H914.7ZM918.3 988.8H922.2V1209.9H918.3ZM921.9 988.8H925.8V1209.9H921.9ZM925.5 988.8H929.4V1209.9H925.5ZM929.1 988.8H933.0V1209.9H929.1ZM932.7 988.8H936.6V1209.9H932.7ZM936.3 988.8H940.2V1209.9H936.3ZM939.9 988.8H943.8V1209.9H939.9ZM943.5 988.8H947.4V1209.9H943.5ZM947.1 988.8H951.0V1209.9H947.1ZM950.7 988.8H954.6V1209.9H950.7ZM954.3 988.8H958.2V1209.9H954.3ZM957.9 988.8H961.8V1209.9H957.9ZM961.5 988.8H965.4V1209.9H961.5ZM965.1 988.8H969.0V1209.9H965.1ZM968.7 988.8H972.6V1209.9H968.7ZM972.3 988.8H976.2V1209.9H972.3ZM975.9 988.8H979.9V1209.9H975.9ZM979.6 988.8H983.5V1209.9H979.6ZM983.2 988.8H987.1V1209.9H983.2ZM986.8 1005.8H990.7V1209.9H986.8ZM990.4 1005.8H994.3V1209.9H990.4ZM994.0 1005.8H997.9V1209.9H994.0ZM997.6 1005.8H1001.5V1209.9H997.6ZM1001.2 1005.8H1005.1V1209.9H1001.2ZM1004.8 1005.8H1008.7V1209.9H1004.8ZM1008.4 1005.8H1012.3V1209.9H1008.4ZM1012.0 1005.8H1015.9V1209.9H1012.0ZM1015.6 1005.8H1019.5V1209.9H1015.6ZM1019.2 1005.8H1023.1V1209.9H1019.2ZM1022.8 1005.8H1026.7V1209.9H1022.8ZM1026.4 1005.8H1030.3V1226.9H1026.4ZM1030.0 1005.8H1033.9V1226.9H1030.0ZM1033.6 1005.8H1037.5V1243.9H1033.6ZM1037.2 1022.8H1041.1V1243.9H1037.2ZM1040.8 1022.8H1044.7V1243.9H1040.8ZM1044.4 1022.8H1048.3V1243.9H1044.4ZM1048.0 1022.8H1051.9V1243.9H1048.0ZM1051.6 1005.8H1055.5V1243.9H1051.6ZM1055.2 1005.8H1059.1V1243.9H1055.2ZM1058.8 1005.8H1062.7V1243.9H1058.8ZM1062.4 1005.8H1066.3V1243.9H1062.4ZM1066.0 1022.8H1070.0V1243.9H1066.0ZM1069.7 1022.8H1073.6V1243.9H1069.7ZM1073.3 1039.8H1077.2V1243.9H1073.3ZM1076.9 1039.8H1080.8V1243.9H1076.9ZM1080.5 1039.8H1084.4V1243.9H1080.5ZM1084.1 1039.8H1088.0V1243.9H1084.1ZM1087.7 1039.8H1091.6V1243.9H1087.7ZM1091.3 1039.8H1095.2V1243.9H1091.3ZM1094.9 1039.8H1098.8V1243.9H1094.9ZM1098.5 649.1H1102.4V1243.9H1098.5ZM1102.1 649.1H1106.0V1209.9H1102.1ZM1105.7 649.1H1109.6V1209.9H1105.7ZM1109.3 649.1H1113.2V1209.9H1109.3ZM1112.9 649.1H1116.8V1209.9H1112.9ZM1116.5 649.1H1120.4V1209.9H1116.5ZM1120.1 649.1H1124.0V1209.9H1120.1ZM1123.7 649.1H1127.6V1209.9H1123.7ZM1127.3 649.1H1131.2V1209.9H1127.3ZM1130.9 649.1H1134.8V1209.9H1130.9ZM1134.5 649.1H1138.4V1209.9H1134.5ZM1138.1 649.1H1142.0V1209.9H1138.1ZM1141.7 649.1H1145.6V1209.9H1141.7ZM1145.3 649.1H1149.2V1209.9H1145.3ZM1148.9 649.1H1152.8V1209.9H1148.9ZM1152.5 649.1H1156.4V1209.9H1152.5ZM1156.1 649.1H1160.1V1209.9H1156.1ZM1159.8 649.1H1163.7V1209.9H1159.8ZM1163.4 649.1H1167.3V1209.9H1163.4ZM1167.0 649.1H1170.9V1209.9H1167.0ZM1170.6 649.1H1174.5V1209.9H1170.6ZM1174.2 649.1H1178.1V1209.9H1174.2ZM1177.8 649.1H1181.7V1209.9H1177.8ZM1181.4 649.1H1185.3V1209.9H1181.4ZM1185.0 649.1H1188.9V1243.9H1185.0ZM1188.6 649.1H1192.5V1243.9H1188.6ZM1192.2 649.1H1196.1V1243.9H1192.2ZM1195.8 649.1H1199.7V1243.9H1195.8ZM1199.4 649.1H1203.3V1243.9H1199.4ZM1203.0 649.1H1206.9V1243.9H1203.0ZM1206.6 649.1H1210.5V1243.9H1206.6ZM1210.2 649.1H1214.1V1243.9H1210.2ZM1213.8 649.1H1217.7V1260.9H1213.8ZM1217.4 649.1H1221.3V1260.9H1217.4ZM1221.0 649.1H1224.9V1260.9H1221.0ZM1224.6 649.1H1228.5V1260.9H1224.6ZM1228.2 649.1H1232.1V1260.9H1228.2ZM1231.8 649.1H1235.7V1260.9H1231.8ZM1235.4 649.1H1239.3V1260.9H1235.4ZM1239.0 649.1H1242.9V1260.9H1239.0ZM1242.6 649.1H1246.5V1260.9H1242.6ZM1246.2 649.1H1250.2V1260.9H1246.2ZM1249.9 649.1H1253.8V1260.9H1249.9ZM1253.5 649.1H1257.4V1260.9H1253.5ZM1257.1 649.1H1261.0V1260.9H1257.1ZM1260.7 649.1H1264.6V1260.9H1260.7ZM1264.3 649.1H1268.2V1260.9H1264.3ZM1267.9 649.1H1271.8V1260.9H1267.9ZM1271.5 649.1H1275.4V1260.9H1271.5ZM1275.1 649.1H1279.0V1260.9H1275.1ZM1278.7 649.1H1282.6V1260.9H1278.7ZM1282.3 649.1H1286.2V1260.9H1282.3ZM1285.9 649.1H1289.8V1260.9H1285.9ZM1289.5 649.1H1293.4V1260.9H1289.5ZM1293.1 649.1H1297.0V1260.9H1293.1ZM1296.7 649.1H1300.6V1260.9H1296.7ZM1300.3 649.1H1304.2V1260.9H1300.3ZM1303.9 649.1H1307.8V1260.9H1303.9ZM1307.5 649.1H1311.4V1260.9H1307.5ZM1311.1 649.1H1315.0V1260.9H1311.1ZM1314.7 649.1H1318.6V1260.9H1314.7ZM1318.3 649.1H1322.2V1260.9H1318.3ZM1321.9 649.1H1325.8V1260.9H1321.9ZM1325.5 649.1H1329.4V1260.9H1325.5ZM1329.1 649.1H1333.0V1260.9H1329.1ZM1332.7 649.1H1336.6V1260.9H1332.7ZM1336.3 649.1H1340.3V1260.9H1336.3ZM1340.0 649.1H1343.9V1260.9H1340.0ZM1343.6 649.1H1347.5V1260.9H1343.6ZM1347.2 649.1H1351.1V1260.9H1347.2ZM1350.8 649.1H1354.7V1260.9H1350.8ZM1354.4 649.1H1358.3V1260.9H1354.4ZM1358.0 649.1H1361.9V1260.9H1358.0ZM1361.6 649.1H1365.5V1260.9H1361.6ZM1365.2 649.1H1369.1V1260.9H1365.2ZM1368.8 649.1H1372.7V1260.9H1368.8ZM1372.4 649.1H1376.3V1260.9H1372.4ZM1376.0 649.1H1379.9V1260.9H1376.0ZM1379.6 649.1H1383.5V1260.9H1379.6ZM1383.2 649.1H1387.1V1260.9H1383.2ZM1386.8 649.1H1390.7V1260.9H1386.8ZM1390.4 649.1H1394.3V1260.9H1390.4ZM1394.0 649.1H1397.9V1260.9H1394.0ZM1397.6 649.1H1401.5V1260.9H1397.6ZM1401.2 649.1H1405.1V1260.9H1401.2ZM1404.8 649.1H1408.7V1209.9H1404.8ZM1408.4 649.1H1412.3V1209.9H1408.4ZM1412.0 649.1H1415.9V1209.9H1412.0ZM1415.6 649.1H1419.5V1209.9H1415.6ZM1419.2 649.1H1423.1V1175.9H1419.2ZM1422.8 649.1H1426.7V1159.0H1422.8ZM1426.4 649.1H1430.4V1159.0H1426.4ZM1430.1 649.1H1434.0V1159.0H1430.1ZM1433.7 649.1H1437.6V1142.0H1433.7ZM1437.3 649.1H1441.2V1142.0H1437.3ZM1440.9 649.1H1444.8V1142.0H1440.9ZM1444.5 649.1H1448.4V1142.0H1444.5ZM1448.1 649.1H1452.0V1142.0H1448.1ZM1451.7 649.1H1455.6V1159.0H1451.7ZM1455.3 649.1H1459.2V1159.0H1455.3ZM1458.9 649.1H1462.8V1159.0H1458.9ZM1462.5 649.1H1466.4V1159.0H1462.5ZM1466.1 649.1H1470.0V1159.0H1466.1ZM1469.7 649.1H1473.6V1159.0H1469.7ZM1473.3 649.1H1477.2V1159.0H1473.3ZM1476.9 649.1H1480.8V1159.0H1476.9ZM1480.5 649.1H1484.4V1159.0H1480.5ZM1484.1 649.1H1488.0V1159.0H1484.1ZM1487.7 649.1H1491.6V1108.0H1487.7ZM1491.3 649.1H1495.2V1108.0H1491.3ZM1494.9 649.1H1498.8V1091.0H1494.9ZM1498.5 649.1H1502.4V1091.0H1498.5ZM1502.1 649.1H1506.0V1074.0H1502.1ZM1505.7 649.1H1509.6V1091.0H1505.7ZM1509.3 649.1H1513.2V1108.0H1509.3ZM1512.9 649.1H1516.8V1108.0H1512.9ZM1552.6 649.1H1556.5V1125.0H1552.6ZM1556.2 649.1H1560.1V1159.0H1556.2ZM1559.8 649.1H1563.7V1159.0H1559.8ZM1563.4 649.1H1567.3V1108.0H1563.4ZM1567.0 649.1H1570.9V1175.9H1567.0ZM1570.6 649.1H1574.5V1159.0H1570.6ZM1664.3 649.1H1668.2V921.2H1664.3ZM1667.9 649.1H1671.8V921.2H1667.9ZM1671.5 649.1H1675.4V870.2H1671.5ZM1675.1 649.1H1679.0V921.2H1675.1ZM1678.7 649.1H1682.6V921.2H1678.7ZM1682.3 649.1H1686.2V921.2H1682.3ZM1685.9 649.1H1689.8V921.2H1685.9Z"/>
<path fill="#0e3064" d="M300.0 835.9H302.3V989.1H300.0ZM302.0 835.9H305.9V989.1H302.0ZM305.6 835.9H309.5V989.1H305.6ZM309.2 835.9H313.1V989.1H309.2ZM312.8 852.9H316.7V989.1H312.8ZM316.4 852.9H320.3V989.1H316.4ZM320.0 852.9H323.9V989.1H320.0ZM323.6 852.9H327.5V989.1H323.6ZM327.2 852.9H331.1V989.1H327.2ZM330.8 852.9H334.7V989.1H330.8ZM334.4 869.9H338.3V989.1H334.4ZM338.0 869.9H341.9V989.1H338.0ZM341.6 869.9H345.5V989.1H341.6ZM345.2 869.9H349.2V989.1H345.2ZM348.9 869.9H352.8V989.1H348.9ZM352.5 869.9H356.4V989.1H352.5ZM356.1 886.9H360.0V1040.1H356.1ZM359.7 886.9H363.6V1040.1H359.7ZM363.3 920.9H367.2V1057.0H363.3ZM366.9 920.9H370.8V1057.0H366.9ZM370.5 920.9H374.4V1091.0H370.5ZM374.1 920.9H378.0V1091.0H374.1ZM377.7 954.8H381.6V1108.0H377.7ZM381.3 954.8H385.2V1108.0H381.3ZM384.9 954.8H388.8V1142.0H384.9ZM388.5 954.8H392.4V1142.0H388.5ZM392.1 954.8H396.0V1159.0H392.1ZM395.7 988.8H399.6V1159.0H395.7ZM399.3 988.8H403.2V1159.0H399.3ZM402.9 988.8H406.8V1159.0H402.9ZM406.5 988.8H410.4V1209.9H406.5ZM410.1 1005.8H414.0V1209.9H410.1ZM413.7 1005.8H417.6V1209.9H413.7ZM417.3 1005.8H421.2V1209.9H417.3ZM420.9 1005.8H424.8V1209.9H420.9ZM424.5 1039.8H428.4V1209.9H424.5ZM428.1 1039.8H432.0V1209.9H428.1ZM431.7 1039.8H435.6V1243.9H431.7ZM435.3 1039.8H439.3V1243.9H435.3ZM439.0 1039.8H442.9V1243.9H439.0ZM442.6 1039.8H446.5V1243.9H442.6ZM446.2 1039.8H450.1V1260.9H446.2ZM449.8 1039.8H453.7V1260.9H449.8ZM453.4 988.8H457.3V1294.8H453.4ZM457.0 920.9H460.9V1294.8H457.0ZM460.6 920.9H464.5V1294.8H460.6ZM464.2 920.9H468.1V1294.8H464.2ZM467.8 920.9H471.7V1209.9H467.8ZM471.4 920.9H475.3V1175.9H471.4ZM475.0 920.9H478.9V1175.9H475.0ZM478.6 920.9H482.5V1108.0H478.6ZM482.2 1107.7H486.1V1320.3H482.2ZM485.8 903.9H489.7V1057.0H485.8ZM489.4 903.9H493.3V1057.0H489.4ZM493.0 903.9H496.9V1057.0H493.0ZM496.6 903.9H500.5V1057.0H496.6ZM500.2 903.9H504.1V1057.0H500.2ZM503.8 920.9H507.7V1057.0H503.8ZM507.4 920.9H511.3V1091.0H507.4ZM511.0 920.9H514.9V1091.0H511.0ZM514.6 920.9H518.5V1091.0H514.6ZM518.2 920.9H522.1V1091.0H518.2ZM521.8 954.8H525.7V1125.0H521.8ZM525.4 954.8H529.4V1125.0H525.4ZM529.1 954.8H533.0V1142.0H529.1ZM532.7 954.8H536.6V1209.9H532.7ZM536.3 988.8H540.2V1209.9H536.3ZM539.9 988.8H543.8V1209.9H539.9ZM543.5 988.8H547.4V1209.9H543.5ZM547.1 1005.8H551.0V1209.9H547.1ZM550.7 1005.8H554.6V1260.9H550.7ZM554.3 1039.8H558.2V1260.9H554.3ZM557.9 1039.8H561.8V1260.9H557.9ZM561.5 1039.8H565.4V1260.9H561.5ZM565.1 1039.8H569.0V1260.9H565.1ZM568.7 1039.8H572.6V1260.9H568.7ZM572.3 1039.8H576.2V1294.8H572.3ZM575.9 1056.7H579.8V1294.8H575.9ZM579.5 1056.7H583.4V1294.8H579.5ZM583.1 1056.7H587.0V1294.8H583.1ZM586.7 1056.7H590.6V1294.8H586.7ZM590.3 1056.7H594.2V1294.8H590.3ZM593.9 1056.7H597.8V1320.3H593.9ZM597.5 1090.7H601.4V1320.3H597.5ZM601.1 1090.7H605.0V1320.3H601.1ZM604.7 1090.7H608.6V1320.3H604.7ZM608.3 1107.7H612.2V1320.3H608.3ZM611.9 1107.7H615.8V1320.3H611.9ZM615.5 1124.7H619.5V1320.3H615.5ZM619.2 1124.7H623.1V1320.3H619.2ZM622.8 1124.7H626.7V1320.3H622.8ZM626.4 1141.7H630.3V1320.3H626.4ZM630.0 1141.7H633.9V1320.3H630.0ZM633.6 1141.7H637.5V1320.3H633.6ZM637.2 1141.7H641.1V1320.3H637.2ZM640.8 1141.7H644.7V1320.3H640.8ZM644.4 1158.7H648.3V1320.3H644.4ZM648.0 1158.7H651.9V1320.3H648.0ZM651.6 1158.7H655.5V1320.3H651.6ZM655.2 1158.7H659.1V1320.3H655.2ZM658.8 1158.7H662.7V1320.3H658.8ZM662.4 1158.7H666.3V1320.3H662.4ZM666.0 1158.7H669.9V1320.3H666.0ZM669.6 1158.7H673.5V1320.3H669.6ZM673.2 1158.7H677.1V1320.3H673.2ZM676.8 1158.7H680.7V1320.3H676.8ZM680.4 1158.7H684.3V1320.3H680.4ZM684.0 1158.7H687.9V1320.3H684.0ZM687.6 1158.7H691.5V1320.3H687.6ZM691.2 1158.7H695.1V1320.3H691.2ZM694.8 1158.7H698.7V1320.3H694.8ZM698.4 1175.6H702.3V1320.3H698.4ZM702.0 1175.6H705.9V1320.3H702.0ZM705.6 1175.6H709.6V1320.3H705.6ZM709.3 1175.6H713.2V1320.3H709.3ZM712.9 1175.6H716.8V1320.3H712.9ZM716.5 1175.6H720.4V1320.3H716.5ZM720.1 1175.6H724.0V1320.3H720.1ZM723.7 1175.6H727.6V1320.3H723.7ZM727.3 1175.6H731.2V1320.3H727.3ZM730.9 1175.6H734.8V1320.3H730.9ZM734.5 1175.6H738.4V1320.3H734.5ZM738.1 1175.6H742.0V1320.3H738.1ZM741.7 1175.6H745.6V1320.3H741.7ZM745.3 1175.6H749.2V1320.3H745.3ZM748.9 1175.6H752.8V1320.3H748.9ZM752.5 1175.6H756.4V1320.3H752.5ZM756.1 1175.6H760.0V1320.3H756.1ZM759.7 1175.6H763.6V1320.3H759.7ZM763.3 1175.6H767.2V1320.3H763.3ZM766.9 1209.6H770.8V1320.3H766.9ZM770.5 1209.6H774.4V1320.3H770.5ZM774.1 1209.6H778.0V1320.3H774.1ZM777.7 1209.6H781.6V1320.3H777.7ZM781.3 1209.6H785.2V1320.3H781.3ZM784.9 1209.6H788.8V1320.3H784.9ZM788.5 1209.6H792.4V1320.3H788.5ZM792.1 1209.6H796.0V1320.3H792.1ZM795.7 1209.6H799.7V1320.3H795.7ZM799.4 1209.6H803.3V1320.3H799.4ZM803.0 1209.6H806.9V1320.3H803.0ZM806.6 1209.6H810.5V1320.3H806.6ZM810.2 1209.6H814.1V1320.3H810.2ZM813.8 1209.6H817.7V1320.3H813.8ZM817.4 1209.6H821.3V1320.3H817.4ZM821.0 1209.6H824.9V1320.3H821.0ZM824.6 1209.6H828.5V1320.3H824.6ZM828.2 1209.6H832.1V1320.3H828.2ZM831.8 1209.6H835.7V1320.3H831.8ZM835.4 1209.6H839.3V1320.3H835.4ZM839.0 1209.6H842.9V1320.3H839.0ZM842.6 1209.6H846.5V1320.3H842.6ZM846.2 1209.6H850.1V1320.3H846.2ZM849.8 1209.6H853.7V1320.3H849.8ZM853.4 1209.6H857.3V1320.3H853.4ZM857.0 1243.6H860.9V1320.3H857.0ZM860.6 1243.6H864.5V1320.3H860.6ZM864.2 1243.6H868.1V1320.3H864.2ZM867.8 1243.6H871.7V1320.3H867.8ZM871.4 1243.6H875.3V1320.3H871.4ZM875.0 1243.6H878.9V1320.3H875.0ZM878.6 1260.6H882.5V1320.3H878.6ZM882.2 1260.6H886.1V1320.3H882.2ZM885.8 1260.6H889.8V1320.3H885.8ZM889.5 1260.6H893.4V1320.3H889.5ZM893.1 1260.6H897.0V1320.3H893.1ZM896.7 1260.6H900.6V1320.3H896.7ZM900.3 1260.6H904.2V1320.3H900.3ZM903.9 1260.6H907.8V1320.3H903.9ZM907.5 1260.6H911.4V1320.3H907.5ZM911.1 1260.6H915.0V1320.3H911.1ZM914.7 1209.6H918.6V1320.3H914.7ZM918.3 1209.6H922.2V1320.3H918.3ZM921.9 1209.6H925.8V1320.3H921.9ZM925.5 1209.6H929.4V1320.3H925.5ZM929.1 1209.6H933.0V1320.3H929.1ZM932.7 1209.6H936.6V1320.3H932.7ZM936.3 1209.6H940.2V1320.3H936.3ZM939.9 1209.6H943.8V1320.3H939.9ZM943.5 1209.6H947.4V1320.3H943.5ZM947.1 1209.6H951.0V1320.3H947.1ZM950.7 1209.6H954.6V1320.3H950.7ZM954.3 1209.6H958.2V1320.3H954.3ZM957.9 1209.6H961.8V1320.3H957.9ZM961.5 1209.6H965.4V1320.3H961.5ZM965.1 1209.6H969.0V1320.3H965.1ZM968.7 1209.6H972.6V1320.3H968.7ZM972.3 1209.6H976.2V1320.3H972.3ZM975.9 1209.6H979.9V1320.3H975.9ZM979.6 1209.6H983.5V1320.3H979.6ZM983.2 1209.6H987.1V1320.3H983.2ZM986.8 1209.6H990.7V1320.3H986.8ZM990.4 1209.6H994.3V1320.3H990.4ZM994.0 1209.6H997.9V1320.3H994.0ZM997.6 1209.6H1001.5V1320.3H997.6ZM1001.2 1209.6H1005.1V1320.3H1001.2ZM1004.8 1209.6H1008.7V1320.3H1004.8ZM1008.4 1209.6H1012.3V1320.3H1008.4ZM1012.0 1209.6H1015.9V1320.3H1012.0ZM1015.6 1209.6H1019.5V1320.3H1015.6ZM1019.2 1209.6H1023.1V1320.3H1019.2ZM1022.8 1209.6H1026.7V1320.3H1022.8ZM1026.4 1226.6H1030.3V1320.3H1026.4ZM1030.0 1226.6H1033.9V1320.3H1030.0ZM1033.6 1243.6H1037.5V1320.3H1033.6ZM1037.2 1243.6H1041.1V1320.3H1037.2ZM1040.8 1243.6H1044.7V1320.3H1040.8ZM1044.4 1243.6H1048.3V1320.3H1044.4ZM1048.0 1243.6H1051.9V1320.3H1048.0ZM1051.6 1243.6H1055.5V1320.3H1051.6ZM1055.2 1243.6H1059.1V1320.3H1055.2ZM1058.8 1243.6H1062.7V1320.3H1058.8ZM1062.4 1243.6H1066.3V1320.3H1062.4ZM1066.0 1243.6H1070.0V1320.3H1066.0ZM1069.7 1243.6H1073.6V1320.3H1069.7ZM1073.3 1243.6H1077.2V1320.3H1073.3ZM1076.9 1243.6H1080.8V1320.3H1076.9ZM1080.5 1243.6H1084.4V1320.3H1080.5ZM1084.1 1243.6H1088.0V1320.3H1084.1ZM1087.7 1243.6H1091.6V1320.3H1087.7ZM1091.3 1243.6H1095.2V1320.3H1091.3ZM1094.9 1243.6H1098.8V1320.3H1094.9ZM1098.5 1243.6H1102.4V1320.3H1098.5ZM1102.1 1209.6H1106.0V1320.3H1102.1ZM1105.7 1209.6H1109.6V1320.3H1105.7ZM1109.3 1209.6H1113.2V1320.3H1109.3ZM1112.9 1209.6H1116.8V1320.3H1112.9ZM1116.5 1209.6H1120.4V1320.3H1116.5ZM1120.1 1209.6H1124.0V1320.3H1120.1ZM1123.7 1209.6H1127.6V1320.3H1123.7ZM1127.3 1209.6H1131.2V1320.3H1127.3ZM1130.9 1209.6H1134.8V1320.3H1130.9ZM1134.5 1209.6H1138.4V1320.3H1134.5ZM1138.1 1209.6H1142.0V1320.3H1138.1ZM1141.7 1209.6H1145.6V1320.3H1141.7ZM1145.3 1209.6H1149.2V1320.3H1145.3ZM1148.9 1209.6H1152.8V1320.3H1148.9ZM1152.5 1209.6H1156.4V1320.3H1152.5ZM1156.1 1209.6H1160.1V1320.3H1156.1ZM1159.8 1209.6H1163.7V1320.3H1159.8ZM1163.4 1209.6H1167.3V1320.3H1163.4ZM1167.0 1209.6H1170.9V1320.3H1167.0ZM1170.6 1209.6H1174.5V1320.3H1170.6ZM1174.2 1209.6H1178.1V1320.3H1174.2ZM1177.8 1209.6H1181.7V1320.3H1177.8ZM1181.4 1209.6H1185.3V1320.3H1181.4ZM1185.0 1243.6H1188.9V1320.3H1185.0ZM1188.6 1243.6H1192.5V1320.3H1188.6ZM1192.2 1243.6H1196.1V1320.3H1192.2ZM1195.8 1243.6H1199.7V1320.3H1195.8ZM1199.4 1243.6H1203.3V1320.3H1199.4ZM1203.0 1243.6H1206.9V1320.3H1203.0ZM1206.6 1243.6H1210.5V1320.3H1206.6ZM1210.2 1243.6H1214.1V1320.3H1210.2ZM1213.8 1260.6H1217.7V1320.3H1213.8ZM1217.4 1260.6H1221.3V1320.3H1217.4ZM1221.0 1260.6H1224.9V1320.3H1221.0ZM1224.6 1260.6H1228.5V1320.3H1224.6ZM1228.2 1260.6H1232.1V1320.3H1228.2ZM1231.8 1260.6H1235.7V1320.3H1231.8ZM1235.4 1260.6H1239.3V1320.3H1235.4ZM1239.0 1260.6H1242.9V1320.3H1239.0ZM1242.6 1260.6H1246.5V1320.3H1242.6ZM1246.2 1260.6H1250.2V1320.3H1246.2ZM1249.9 1260.6H1253.8V1320.3H1249.9ZM1253.5 1260.6H1257.4V1320.3H1253.5ZM1257.1 1260.6H1261.0V1320.3H1257.1ZM1260.7 1260.6H1264.6V1320.3H1260.7ZM1264.3 1260.6H1268.2V1320.3H1264.3ZM1267.9 1260.6H1271.8V1320.3H1267.9ZM1271.5 1260.6H1275.4V1320.3H1271.5ZM1275.1 1260.6H1279.0V1320.3H1275.1ZM1278.7 1260.6H1282.6V1320.3H1278.7ZM1282.3 1260.6H1286.2V1320.3H1282.3ZM1285.9 1260.6H1289.8V1320.3H1285.9ZM1289.5 1260.6H1293.4V1320.3H1289.5ZM1293.1 1260.6H1297.0V1320.3H1293.1ZM1296.7 1260.6H1300.6V1320.3H1296.7ZM1300.3 1260.6H1304.2V1320.3H1300.3ZM1303.9 1260.6H1307.8V1320.3H1303.9ZM1307.5 1260.6H1311.4V1320.3H1307.5ZM1311.1 1260.6H1315.0V1320.3H1311.1ZM1314.7 1260.6H1318.6V1320.3H1314.7ZM1318.3 1260.6H1322.2V1320.3H1318.3ZM1321.9 1260.6H1325.8V1320.3H1321.9ZM1325.5 1260.6H1329.4V1320.3H1325.5ZM1329.1 1260.6H1333.0V1320.3H1329.1ZM1332.7 1260.6H1336.6V1320.3H1332.7ZM1336.3 1260.6H1340.3V1320.3H1336.3ZM1340.0 1260.6H1343.9V1320.3H1340.0ZM1343.6 1260.6H1347.5V1320.3H1343.6ZM1347.2 1260.6H1351.1V1320.3H1347.2ZM1350.8 1260.6H1354.7V1320.3H1350.8ZM1354.4 1260.6H1358.3V1320.3H1354.4ZM1358.0 1260.6H1361.9V1320.3H1358.0ZM1361.6 1260.6H1365.5V1320.3H1361.6ZM1365.2 1260.6H1369.1V1320.3H1365.2ZM1368.8 1260.6H1372.7V1320.3H1368.8ZM1372.4 1260.6H1376.3V1320.3H1372.4ZM1376.0 1260.6H1379.9V1320.3H1376.0ZM1379.6 1260.6H1383.5V1320.3H1379.6ZM1383.2 1260.6H1387.1V1320.3H1383.2ZM1386.8 1260.6H1390.7V1320.3H1386.8ZM1390.4 1260.6H1394.3V1320.3H1390.4ZM1394.0 1260.6H1397.9V1320.3H1394.0ZM1397.6 1260.6H1401.5V1320.3H1397.6ZM1401.2 1260.6H1405.1V1320.3H1401.2ZM1404.8 1209.6H1408.7V1320.3H1404.8ZM1408.4 1209.6H1412.3V1320.3H1408.4ZM1412.0 1209.6H1415.9V1320.3H1412.0ZM1415.6 1209.6H1419.5V1320.3H1415.6ZM1419.2 1175.6H1423.1V1320.3H1419.2ZM1422.8 1158.7H1426.7V1320.3H1422.8ZM1426.4 1158.7H1430.4V1320.3H1426.4ZM1430.1 1158.7H1434.0V1320.3H1430.1ZM1433.7 1141.7H1437.6V1320.3H1433.7ZM1437.3 1141.7H1441.2V1320.3H1437.3ZM1440.9 1141.7H1444.8V1320.3H1440.9ZM1444.5 1141.7H1448.4V1320.3H1444.5ZM1448.1 1141.7H1452.0V1320.3H1448.1ZM1451.7 1158.7H1455.6V1320.3H1451.7ZM1455.3 1158.7H1459.2V1320.3H1455.3ZM1458.9 1158.7H1462.8V1320.3H1458.9ZM1462.5 1158.7H1466.4V1320.3H1462.5ZM1466.1 1158.7H1470.0V1320.3H1466.1ZM1469.7 1158.7H1473.6V1320.3H1469.7ZM1473.3 1158.7H1477.2V1320.3H1473.3ZM1476.9 1158.7H1480.8V1320.3H1476.9ZM1480.5 1158.7H1484.4V1320.3H1480.5ZM1484.1 1158.7H1488.0V1320.3H1484.1ZM1487.7 1107.7H1491.6V1320.3H1487.7ZM1491.3 1107.7H1495.2V1320.3H1491.3ZM1494.9 1090.7H1498.8V1320.3H1494.9ZM1498.5 1090.7H1502.4V1294.8H1498.5ZM1502.1 1073.7H1506.0V1277.8H1502.1ZM1505.7 1090.7H1509.6V1294.8H1505.7ZM1509.3 1107.7H1513.2V1311.8H1509.3ZM1512.9 1107.7H1516.8V1277.8H1512.9ZM1516.5 649.1H1520.5V1277.8H1516.5ZM1520.2 649.1H1524.1V1209.9H1520.2ZM1523.8 649.1H1527.7V1209.9H1523.8ZM1527.4 649.1H1531.3V1209.9H1527.4ZM1531.0 649.1H1534.9V1209.9H1531.0ZM1534.6 649.1H1538.5V1159.0H1534.6ZM1538.2 649.1H1542.1V1108.0H1538.2ZM1541.8 649.1H1545.7V1142.0H1541.8ZM1545.4 649.1H1549.3V1159.0H1545.4ZM1549.0 649.1H1552.9V1159.0H1549.0ZM1552.6 1124.7H1556.5V1175.9H1552.6ZM1556.2 1158.7H1560.1V1209.9H1556.2ZM1559.8 1158.7H1563.7V1294.8H1559.8ZM1563.4 1107.7H1567.3V1243.9H1563.4ZM1567.0 1175.6H1570.9V1311.8H1567.0ZM1570.6 1158.7H1574.5V1294.8H1570.6ZM1574.2 649.1H1578.1V1294.8H1574.2ZM1577.8 649.1H1581.7V1277.8H1577.8ZM1581.4 649.1H1585.3V1294.8H1581.4ZM1585.0 649.1H1588.9V1294.8H1585.0ZM1588.6 649.1H1592.5V1057.0H1588.6ZM1592.2 649.1H1596.1V1006.1H1592.2ZM1595.8 649.1H1599.7V1040.1H1595.8ZM1599.4 649.1H1603.3V1040.1H1599.4ZM1603.0 649.1H1606.9V1057.0H1603.0ZM1606.6 649.1H1610.6V1040.1H1606.6ZM1610.3 649.1H1614.2V1057.0H1610.3ZM1613.9 649.1H1617.8V1040.1H1613.9ZM1617.5 649.1H1621.4V1023.1H1617.5ZM1621.1 649.1H1625.0V989.1H1621.1ZM1624.7 649.1H1628.6V989.1H1624.7ZM1628.3 649.1H1632.2V989.1H1628.3ZM1631.9 649.1H1635.8V989.1H1631.9ZM1635.5 649.1H1639.4V921.2H1635.5ZM1639.1 649.1H1643.0V955.1H1639.1ZM1642.7 649.1H1646.6V904.2H1642.7ZM1646.3 649.1H1650.2V955.1H1646.3ZM1649.9 649.1H1653.8V921.2H1649.9ZM1653.5 649.1H1657.4V921.2H1653.5ZM1657.1 649.1H1661.0V904.2H1657.1ZM1660.7 649.1H1664.6V921.2H1660.7ZM1671.5 869.9H1675.4V921.2H1671.5ZM1675.1 920.9H1679.0V972.1H1675.1ZM1678.7 920.9H1682.6V972.1H1678.7ZM1682.3 920.9H1686.2V972.1H1682.3ZM1685.9 920.9H1689.8V972.1H1685.9ZM1689.5 649.1H1693.4V938.1H1689.5ZM1693.1 649.1H1697.0V921.2H1693.1ZM1696.7 649.1H1700.7V938.1H1696.7ZM1700.4 649.1H1704.3V938.1H1700.4ZM1704.0 649.1H1707.9V938.1H1704.0Z"/>
<path fill="#1b3480" d="M300.0 988.8H302.3V1320.3H300.0ZM302.0 988.8H305.9V1320.3H302.0ZM305.6 988.8H309.5V1320.3H305.6ZM309.2 988.8H313.1V1320.3H309.2ZM312.8 988.8H316.7V1320.3H312.8ZM316.4 988.8H320.3V1320.3H316.4ZM320.0 988.8H323.9V1320.3H320.0ZM323.6 988.8H327.5V1320.3H323.6ZM327.2 988.8H331.1V1320.3H327.2ZM330.8 988.8H334.7V1320.3H330.8ZM334.4 988.8H338.3V1320.3H334.4ZM338.0 988.8H341.9V1320.3H338.0ZM341.6 988.8H345.5V1320.3H341.6ZM345.2 988.8H349.2V1320.3H345.2ZM348.9 988.8H352.8V1320.3H348.9ZM352.5 988.8H356.4V1320.3H352.5ZM356.1 1039.8H360.0V1320.3H356.1ZM359.7 1039.8H363.6V1320.3H359.7ZM363.3 1056.7H367.2V1320.3H363.3ZM366.9 1056.7H370.8V1320.3H366.9ZM370.5 1090.7H374.4V1320.3H370.5ZM374.1 1090.7H378.0V1320.3H374.1ZM377.7 1107.7H381.6V1320.3H377.7ZM381.3 1107.7H385.2V1320.3H381.3ZM384.9 1141.7H388.8V1320.3H384.9ZM388.5 1141.7H392.4V1320.3H388.5ZM392.1 1158.7H396.0V1320.3H392.1ZM395.7 1158.7H399.6V1320.3H395.7ZM399.3 1158.7H403.2V1320.3H399.3ZM402.9 1158.7H406.8V1320.3H402.9ZM406.5 1209.6H410.4V1320.3H406.5ZM410.1 1209.6H414.0V1320.3H410.1ZM413.7 1209.6H417.6V1320.3H413.7ZM417.3 1209.6H421.2V1320.3H417.3ZM420.9 1209.6H424.8V1320.3H420.9ZM424.5 1209.6H428.4V1320.3H424.5ZM428.1 1209.6H432.0V1320.3H428.1ZM431.7 1243.6H435.6V1320.3H431.7ZM435.3 1243.6H439.3V1320.3H435.3ZM439.0 1243.6H442.9V1320.3H439.0ZM442.6 1243.6H446.5V1320.3H442.6ZM446.2 1260.6H450.1V1320.3H446.2ZM449.8 1260.6H453.7V1320.3H449.8ZM453.4 1294.5H457.3V1320.3H453.4ZM457.0 1294.5H460.9V1320.3H457.0ZM460.6 1294.5H464.5V1320.3H460.6ZM464.2 1294.5H468.1V1320.3H464.2ZM467.8 1209.6H471.7V1320.3H467.8ZM471.4 1175.6H475.3V1320.3H471.4ZM475.0 1175.6H478.9V1320.3H475.0ZM478.6 1107.7H482.5V1320.3H478.6ZM485.8 1056.7H489.7V1320.3H485.8ZM489.4 1056.7H493.3V1320.3H489.4ZM493.0 1056.7H496.9V1320.3H493.0ZM496.6 1056.7H500.5V1320.3H496.6ZM500.2 1056.7H504.1V1320.3H500.2ZM503.8 1056.7H507.7V1320.3H503.8ZM507.4 1090.7H511.3V1320.3H507.4ZM511.0 1090.7H514.9V1320.3H511.0ZM514.6 1090.7H518.5V1320.3H514.6ZM518.2 1090.7H522.1V1320.3H518.2ZM521.8 1124.7H525.7V1320.3H521.8ZM525.4 1124.7H529.4V1320.3H525.4ZM529.1 1141.7H533.0V1320.3H529.1ZM532.7 1209.6H536.6V1320.3H532.7ZM536.3 1209.6H540.2V1320.3H536.3ZM539.9 1209.6H543.8V1320.3H539.9ZM543.5 1209.6H547.4V1320.3H543.5ZM547.1 1209.6H551.0V1320.3H547.1ZM550.7 1260.6H554.6V1320.3H550.7ZM554.3 1260.6H558.2V1320.3H554.3ZM557.9 1260.6H561.8V1320.3H557.9ZM561.5 1260.6H565.4V1320.3H561.5ZM565.1 1260.6H569.0V1320.3H565.1ZM568.7 1260.6H572.6V1320.3H568.7ZM572.3 1294.5H576.2V1320.3H572.3ZM575.9 1294.5H579.8V1320.3H575.9ZM579.5 1294.5H583.4V1320.3H579.5ZM583.1 1294.5H587.0V1320.3H583.1ZM586.7 1294.5H590.6V1320.3H586.7ZM590.3 1294.5H594.2V1320.3H590.3ZM1498.5 1294.5H1502.4V1320.3H1498.5ZM1502.1 1277.5H1506.0V1320.3H1502.1ZM1505.7 1294.5H1509.6V1320.3H1505.7ZM1509.3 1311.5H1513.2V1320.3H1509.3ZM1512.9 1277.5H1516.8V1320.3H1512.9ZM1516.5 1277.5H1520.5V1320.3H1516.5ZM1520.2 1209.6H1524.1V1320.3H1520.2ZM1523.8 1209.6H1527.7V1320.3H1523.8ZM1527.4 1209.6H1531.3V1320.3H1527.4ZM1531.0 1209.6H1534.9V1320.3H1531.0ZM1534.6 1158.7H1538.5V1320.3H1534.6ZM1538.2 1107.7H1542.1V1320.3H1538.2ZM1541.8 1141.7H1545.7V1320.3H1541.8ZM1545.4 1158.7H1549.3V1320.3H1545.4ZM1549.0 1158.7H1552.9V1320.3H1549.0ZM1552.6 1175.6H1556.5V1320.3H1552.6ZM1556.2 1209.6H1560.1V1320.3H1556.2ZM1559.8 1294.5H1563.7V1320.3H1559.8ZM1563.4 1243.6H1567.3V1320.3H1563.4ZM1567.0 1311.5H1570.9V1320.3H1567.0ZM1570.6 1294.5H1574.5V1320.3H1570.6ZM1574.2 1294.5H1578.1V1320.3H1574.2ZM1577.8 1277.5H1581.7V1320.3H1577.8ZM1581.4 1294.5H1585.3V1320.3H1581.4ZM1585.0 1294.5H1588.9V1320.3H1585.0ZM1588.6 1056.7H1592.5V1320.3H1588.6ZM1592.2 1005.8H1596.1V1320.3H1592.2ZM1595.8 1039.8H1599.7V1320.3H1595.8ZM1599.4 1039.8H1603.3V1320.3H1599.4ZM1603.0 1056.7H1606.9V1320.3H1603.0ZM1606.6 1039.8H1610.6V1294.8H1606.6ZM1610.3 1056.7H1614.2V1311.8H1610.3ZM1613.9 1039.8H1617.8V1294.8H1613.9ZM1617.5 1022.8H1621.4V1277.8H1617.5ZM1621.1 988.8H1625.0V1260.9H1621.1ZM1624.7 988.8H1628.6V1260.9H1624.7ZM1628.3 988.8H1632.2V1260.9H1628.3ZM1631.9 988.8H1635.8V1260.9H1631.9ZM1635.5 920.9H1639.4V1226.9H1635.5ZM1639.1 954.8H1643.0V1209.9H1639.1ZM1642.7 903.9H1646.6V1159.0H1642.7ZM1646.3 954.8H1650.2V1209.9H1646.3ZM1649.9 920.9H1653.8V1209.9H1649.9ZM1653.5 920.9H1657.4V989.1H1653.5ZM1657.1 903.9H1661.0V972.1H1657.1ZM1660.7 920.9H1664.6V1057.0H1660.7ZM1664.3 920.9H1668.2V1057.0H1664.3ZM1667.9 920.9H1671.8V1057.0H1667.9ZM1671.5 920.9H1675.4V1006.1H1671.5ZM1675.1 971.8H1679.0V1057.0H1675.1ZM1678.7 971.8H1682.6V1057.0H1678.7ZM1682.3 971.8H1686.2V1057.0H1682.3ZM1685.9 971.8H1689.8V1057.0H1685.9ZM1689.5 937.8H1693.4V1040.1H1689.5ZM1693.1 920.9H1697.0V1023.1H1693.1ZM1696.7 937.8H1700.7V1040.1H1696.7ZM1700.4 937.8H1704.3V1040.1H1700.4ZM1704.0 937.8H1707.9V1040.1H1704.0ZM1707.6 649.1H1711.5V989.1H1707.6ZM1711.2 649.1H1715.1V989.1H1711.2ZM1714.8 649.1H1718.7V989.1H1714.8ZM1718.4 649.1H1722.3V955.1H1718.4ZM1722.0 649.1H1725.9V955.1H1722.0ZM1725.6 649.1H1729.5V921.2H1725.6ZM1729.2 649.1H1733.1V955.1H1729.2ZM1732.8 649.1H1736.7V955.1H1732.8ZM1736.4 649.1H1740.3V955.1H1736.4ZM1740.0 649.1H1743.9V938.1H1740.0ZM1743.6 649.1H1747.5V972.1H1743.6ZM1747.2 649.1H1751.1V955.1H1747.2ZM1750.8 649.1H1754.7V972.1H1750.8ZM1754.4 649.1H1758.3V989.1H1754.4ZM1758.0 649.1H1761.9V989.1H1758.0ZM1761.6 649.1H1765.5V989.1H1761.6ZM1765.2 649.1H1769.1V989.1H1765.2ZM1768.8 649.1H1772.7V1006.1H1768.8ZM1772.4 649.1H1776.3V989.1H1772.4ZM1776.0 649.1H1779.9V972.1H1776.0ZM1779.6 649.1H1783.5V955.1H1779.6ZM1783.2 649.1H1787.1V972.1H1783.2ZM1786.8 649.1H1790.8V955.1H1786.8ZM1790.5 649.1H1794.4V972.1H1790.5ZM1794.1 649.1H1798.0V870.2H1794.1ZM1797.7 649.1H1801.6V870.2H1797.7ZM1801.3 649.1H1805.2V870.2H1801.3ZM1804.9 649.1H1808.8V870.2H1804.9ZM1808.5 649.1H1812.4V870.2H1808.5ZM1812.1 649.1H1816.0V870.2H1812.1ZM1815.7 649.1H1819.6V870.2H1815.7ZM1819.3 649.1H1823.2V853.2H1819.3ZM1822.9 649.1H1826.8V870.2H1822.9ZM1826.5 649.1H1830.4V870.2H1826.5ZM1949.0 666.1H1952.9V683.4H1949.0ZM1952.6 666.1H1956.5V683.4H1952.6Z"/>
<path fill="#30339a" d="M1606.6 1294.5H1610.6V1320.3H1606.6ZM1610.3 1311.5H1614.2V1320.3H1610.3ZM1613.9 1294.5H1617.8V1320.3H1613.9ZM1617.5 1277.5H1621.4V1320.3H1617.5ZM1621.1 1260.6H1625.0V1320.3H1621.1ZM1624.7 1260.6H1628.6V1320.3H1624.7ZM1628.3 1260.6H1632.2V1320.3H1628.3ZM1631.9 1260.6H1635.8V1320.3H1631.9ZM1635.5 1226.6H1639.4V1320.3H1635.5ZM1639.1 1209.6H1643.0V1320.3H1639.1ZM1642.7 1158.7H1646.6V1320.3H1642.7ZM1646.3 1209.6H1650.2V1320.3H1646.3ZM1649.9 1209.6H1653.8V1320.3H1649.9ZM1653.5 988.8H1657.4V1006.1H1653.5ZM1657.1 971.8H1661.0V989.1H1657.1ZM1660.7 1056.7H1664.6V1294.8H1660.7ZM1664.3 1056.7H1668.2V1294.8H1664.3ZM1667.9 1056.7H1671.8V1294.8H1667.9ZM1671.5 1005.8H1675.4V1243.9H1671.5ZM1675.1 1056.7H1679.0V1294.8H1675.1ZM1678.7 1056.7H1682.6V1260.9H1678.7ZM1682.3 1056.7H1686.2V1260.9H1682.3ZM1685.9 1056.7H1689.8V1260.9H1685.9ZM1689.5 1039.8H1693.4V1260.9H1689.5ZM1693.1 1022.8H1697.0V1159.0H1693.1ZM1696.7 1039.8H1700.7V1175.9H1696.7ZM1700.4 1039.8H1704.3V1175.9H1700.4ZM1704.0 1039.8H1707.9V1175.9H1704.0ZM1707.6 988.8H1711.5V1040.1H1707.6ZM1711.2 988.8H1715.1V1040.1H1711.2ZM1714.8 988.8H1718.7V1040.1H1714.8ZM1718.4 954.8H1722.3V1040.1H1718.4ZM1722.0 954.8H1725.9V1040.1H1722.0ZM1725.6 920.9H1729.5V1006.1H1725.6ZM1729.2 954.8H1733.1V1040.1H1729.2ZM1732.8 954.8H1736.7V1040.1H1732.8ZM1736.4 954.8H1740.3V1040.1H1736.4ZM1740.0 937.8H1743.9V1023.1H1740.0ZM1743.6 971.8H1747.5V1057.0H1743.6ZM1747.2 954.8H1751.1V1040.1H1747.2ZM1750.8 971.8H1754.7V1057.0H1750.8ZM1754.4 988.8H1758.3V1040.1H1754.4ZM1758.0 988.8H1761.9V1040.1H1758.0ZM1761.6 988.8H1765.5V1040.1H1761.6ZM1765.2 988.8H1769.1V1057.0H1765.2ZM1768.8 1005.8H1772.7V1074.0H1768.8ZM1772.4 988.8H1776.3V1057.0H1772.4ZM1776.0 971.8H1779.9V1074.0H1776.0ZM1779.6 954.8H1783.5V972.1H1779.6ZM1783.2 971.8H1787.1V989.1H1783.2ZM1786.8 954.8H1790.8V972.1H1786.8ZM1790.5 971.8H1794.4V989.1H1790.5ZM1794.1 869.9H1798.0V921.2H1794.1ZM1797.7 869.9H1801.6V921.2H1797.7ZM1801.3 869.9H1805.2V921.2H1801.3ZM1804.9 869.9H1808.8V921.2H1804.9ZM1808.5 869.9H1812.4V921.2H1808.5ZM1812.1 869.9H1816.0V887.2H1812.1ZM1815.7 869.9H1819.6V887.2H1815.7ZM1819.3 852.9H1823.2V870.2H1819.3ZM1822.9 869.9H1826.8V887.2H1822.9ZM1826.5 869.9H1830.4V887.2H1826.5ZM1830.1 649.1H1834.0V887.2H1830.1ZM1833.7 649.1H1837.6V887.2H1833.7ZM1837.3 649.1H1841.2V853.2H1837.3ZM1840.9 649.1H1844.8V870.2H1840.9Z"/>
<path fill="#4935a0" d="M1653.5 1005.8H1657.4V1320.3H1653.5ZM1657.1 988.8H1661.0V1320.3H1657.1ZM1660.7 1294.5H1664.6V1320.3H1660.7ZM1664.3 1294.5H1668.2V1320.3H1664.3ZM1667.9 1294.5H1671.8V1320.3H1667.9ZM1671.5 1243.6H1675.4V1320.3H1671.5ZM1675.1 1294.5H1679.0V1320.3H1675.1ZM1678.7 1260.6H1682.6V1320.3H1678.7ZM1682.3 1260.6H1686.2V1320.3H1682.3ZM1685.9 1260.6H1689.8V1320.3H1685.9ZM1689.5 1260.6H1693.4V1320.3H1689.5ZM1693.1 1158.7H1697.0V1243.9H1693.1ZM1696.7 1175.6H1700.7V1260.9H1696.7ZM1700.4 1175.6H1704.3V1260.9H1700.4ZM1704.0 1175.6H1707.9V1260.9H1704.0ZM1707.6 1039.8H1711.5V1159.0H1707.6ZM1711.2 1039.8H1715.1V1159.0H1711.2ZM1714.8 1039.8H1718.7V1159.0H1714.8ZM1718.4 1039.8H1722.3V1091.0H1718.4ZM1722.0 1039.8H1725.9V1091.0H1722.0ZM1725.6 1005.8H1729.5V1057.0H1725.6ZM1729.2 1039.8H1733.1V1091.0H1729.2ZM1732.8 1039.8H1736.7V1091.0H1732.8ZM1736.4 1039.8H1740.3V1091.0H1736.4ZM1740.0 1022.8H1743.9V1074.0H1740.0ZM1743.6 1056.7H1747.5V1142.0H1743.6ZM1747.2 1039.8H1751.1V1125.0H1747.2ZM1750.8 1056.7H1754.7V1142.0H1750.8ZM1754.4 1039.8H1758.3V1192.9H1754.4ZM1758.0 1039.8H1761.9V1192.9H1758.0ZM1761.6 1039.8H1765.5V1192.9H1761.6ZM1765.2 1056.7H1769.1V1209.9H1765.2ZM1768.8 1073.7H1772.7V1226.9H1768.8ZM1772.4 1056.7H1776.3V1209.9H1772.4ZM1776.0 1073.7H1779.9V1226.9H1776.0ZM1779.6 971.8H1783.5V1040.1H1779.6ZM1783.2 988.8H1787.1V1057.0H1783.2ZM1786.8 971.8H1790.8V1040.1H1786.8ZM1790.5 988.8H1794.4V1057.0H1790.5ZM1794.1 920.9H1798.0V1006.1H1794.1ZM1797.7 920.9H1801.6V1006.1H1797.7ZM1801.3 920.9H1805.2V1006.1H1801.3ZM1804.9 920.9H1808.8V1006.1H1804.9ZM1808.5 920.9H1812.4V1006.1H1808.5ZM1812.1 886.9H1816.0V1006.1H1812.1ZM1815.7 886.9H1819.6V1006.1H1815.7ZM1819.3 869.9H1823.2V989.1H1819.3ZM1822.9 886.9H1826.8V1006.1H1822.9ZM1826.5 886.9H1830.4V938.1H1826.5ZM1830.1 886.9H1834.0V938.1H1830.1ZM1833.7 886.9H1837.6V955.1H1833.7ZM1837.3 852.9H1841.2V921.2H1837.3ZM1840.9 869.9H1844.8V938.1H1840.9ZM1844.5 649.1H1848.4V819.2H1844.5ZM1848.1 649.1H1852.0V853.2H1848.1ZM1851.7 649.1H1855.6V870.2H1851.7ZM1855.3 649.1H1859.2V870.2H1855.3ZM1858.9 649.1H1862.8V870.2H1858.9ZM1956.2 1311.5H1960.1V1320.3H1956.2Z"/>
<path fill="#593d9b" d="M1693.1 1243.6H1697.0V1320.3H1693.1ZM1696.7 1260.6H1700.7V1320.3H1696.7ZM1700.4 1260.6H1704.3V1320.3H1700.4ZM1704.0 1260.6H1707.9V1320.3H1704.0ZM1707.6 1158.7H1711.5V1320.3H1707.6ZM1711.2 1158.7H1715.1V1320.3H1711.2ZM1714.8 1158.7H1718.7V1320.3H1714.8ZM1718.4 1090.7H1722.3V1320.3H1718.4ZM1722.0 1090.7H1725.9V1320.3H1722.0ZM1725.6 1056.7H1729.5V1320.3H1725.6ZM1729.2 1090.7H1733.1V1320.3H1729.2ZM1732.8 1090.7H1736.7V1320.3H1732.8ZM1736.4 1090.7H1740.3V1320.3H1736.4ZM1740.0 1073.7H1743.9V1320.3H1740.0ZM1743.6 1141.7H1747.5V1320.3H1743.6ZM1747.2 1124.7H1751.1V1320.3H1747.2ZM1750.8 1141.7H1754.7V1320.3H1750.8ZM1754.4 1192.6H1758.3V1320.3H1754.4ZM1758.0 1192.6H1761.9V1320.3H1758.0ZM1761.6 1192.6H1765.5V1320.3H1761.6ZM1765.2 1209.6H1769.1V1320.3H1765.2ZM1768.8 1226.6H1772.7V1320.3H1768.8ZM1772.4 1209.6H1776.3V1320.3H1772.4ZM1776.0 1226.6H1779.9V1320.3H1776.0ZM1779.6 1039.8H1783.5V1260.9H1779.6ZM1783.2 1056.7H1787.1V1277.8H1783.2ZM1786.8 1039.8H1790.8V1260.9H1786.8ZM1790.5 1056.7H1794.4V1277.8H1790.5ZM1794.1 1005.8H1798.0V1260.9H1794.1ZM1797.7 1005.8H1801.6V1260.9H1797.7ZM1801.3 1005.8H1805.2V1294.8H1801.3ZM1804.9 1005.8H1808.8V1294.8H1804.9ZM1808.5 1005.8H1812.4V1294.8H1808.5ZM1812.1 1005.8H1816.0V1294.8H1812.1ZM1815.7 1005.8H1819.6V1294.8H1815.7ZM1819.3 988.8H1823.2V1277.8H1819.3ZM1822.9 1005.8H1826.8V1294.8H1822.9ZM1826.5 937.8H1830.4V1294.8H1826.5ZM1830.1 937.8H1834.0V1226.9H1830.1ZM1833.7 954.8H1837.6V1243.9H1833.7ZM1837.3 920.9H1841.2V1209.9H1837.3ZM1840.9 937.8H1844.8V1226.9H1840.9ZM1844.5 819.0H1848.4V1175.9H1844.5ZM1848.1 852.9H1852.0V1209.9H1848.1ZM1851.7 869.9H1855.6V1108.0H1851.7ZM1855.3 869.9H1859.2V1108.0H1855.3ZM1858.9 869.9H1862.8V1108.0H1858.9ZM1869.7 649.1H1873.6V1320.3H1869.7ZM1891.4 649.1H1895.3V1320.3H1891.4ZM1949.0 683.1H1952.9V751.3H1949.0ZM1952.6 683.1H1956.5V751.3H1952.6ZM1952.6 1005.8H1956.5V1023.1H1952.6ZM1956.2 649.1H1960.1V785.3H1956.2ZM1956.2 852.9H1960.1V1311.8H1956.2Z"/>
<path fill="#694498" d="M1779.6 1260.6H1783.5V1320.3H1779.6ZM1783.2 1277.5H1787.1V1320.3H1783.2ZM1786.8 1260.6H1790.8V1320.3H1786.8ZM1790.5 1277.5H1794.4V1320.3H1790.5ZM1794.1 1260.6H1798.0V1320.3H1794.1ZM1797.7 1260.6H1801.6V1320.3H1797.7ZM1801.3 1294.5H1805.2V1320.3H1801.3ZM1804.9 1294.5H1808.8V1320.3H1804.9ZM1808.5 1294.5H1812.4V1320.3H1808.5ZM1812.1 1294.5H1816.0V1320.3H1812.1ZM1815.7 1294.5H1819.6V1320.3H1815.7ZM1819.3 1277.5H1823.2V1320.3H1819.3ZM1822.9 1294.5H1826.8V1320.3H1822.9ZM1826.5 1294.5H1830.4V1320.3H1826.5ZM1830.1 1226.6H1834.0V1320.3H1830.1ZM1833.7 1243.6H1837.6V1320.3H1833.7ZM1837.3 1209.6H1841.2V1320.3H1837.3ZM1840.9 1226.6H1844.8V1320.3H1840.9ZM1844.5 1175.6H1848.4V1320.3H1844.5ZM1848.1 1209.6H1852.0V1320.3H1848.1ZM1851.7 1107.7H1855.6V1320.3H1851.7ZM1855.3 1107.7H1859.2V1320.3H1855.3ZM1858.9 1107.7H1862.8V1320.3H1858.9ZM1862.5 649.1H1866.4V1320.3H1862.5ZM1866.1 649.1H1870.0V1320.3H1866.1ZM1873.3 649.1H1877.2V1320.3H1873.3ZM1876.9 649.1H1880.9V1320.3H1876.9ZM1880.6 649.1H1884.5V1320.3H1880.6ZM1887.8 649.1H1891.7V1320.3H1887.8ZM1898.6 649.1H1902.5V1320.3H1898.6ZM1902.2 649.1H1906.1V1320.3H1902.2ZM1909.4 649.1H1913.3V1320.3H1909.4ZM1913.0 649.1H1916.9V1320.3H1913.0ZM1916.6 649.1H1920.5V1320.3H1916.6ZM1920.2 649.1H1924.1V1320.3H1920.2ZM1923.8 649.1H1927.7V1320.3H1923.8ZM1927.4 649.1H1931.3V1320.3H1927.4ZM1931.0 649.1H1934.9V1320.3H1931.0ZM1934.6 649.1H1938.5V1320.3H1934.6ZM1938.2 649.1H1942.1V1320.3H1938.2ZM1941.8 649.1H1945.7V1320.3H1941.8ZM1949.0 751.0H1952.9V1277.8H1949.0ZM1952.6 751.0H1956.5V1006.1H1952.6ZM1952.6 1022.8H1956.5V1320.3H1952.6ZM1956.2 785.0H1960.1V853.2H1956.2ZM1959.8 835.9H1963.7V853.2H1959.8ZM1963.4 1243.6H1967.3V1260.9H1963.4ZM1963.4 1294.5H1967.3V1311.8H1963.4Z"/>
<path fill="#774b92" d="M1884.2 649.1H1888.1V1320.3H1884.2ZM1895.0 649.1H1898.9V1320.3H1895.0ZM1905.8 649.1H1909.7V1320.3H1905.8ZM1945.4 649.1H1949.3V1320.3H1945.4ZM1949.0 1277.5H1952.9V1320.3H1949.0ZM1959.8 649.1H1963.7V836.2H1959.8ZM1959.8 852.9H1963.7V870.2H1959.8ZM1959.8 920.9H1963.7V1320.3H1959.8ZM1963.4 649.1H1967.3V1243.9H1963.4ZM1963.4 1260.6H1967.3V1294.8H1963.4ZM1963.4 1311.5H1967.3V1320.3H1963.4ZM1977.9 649.1H1981.8V683.4H1977.9ZM1977.9 1005.8H1981.8V1074.0H1977.9ZM1977.9 1243.6H1981.8V1277.8H1977.9ZM1999.5 1277.5H2003.4V1311.8H1999.5ZM2006.7 886.9H2010.6V921.2H2006.7Z"/>
<path fill="#86518f" d="M1959.8 869.9H1963.7V921.2H1959.8ZM1967.0 649.1H1971.0V734.3H1967.0ZM1967.0 751.0H1971.0V1023.1H1967.0ZM1967.0 1090.7H1971.0V1320.3H1967.0ZM1977.9 683.1H1981.8V1006.1H1977.9ZM1977.9 1073.7H1981.8V1243.9H1977.9ZM1977.9 1277.5H1981.8V1320.3H1977.9ZM1985.1 937.8H1989.0V1006.1H1985.1ZM1992.3 666.1H1996.2V734.3H1992.3ZM1992.3 971.8H1996.2V1040.1H1992.3ZM1995.9 886.9H1999.8V938.1H1995.9ZM1995.9 1107.7H1999.8V1159.0H1995.9ZM1999.5 649.1H2003.4V802.3H1999.5ZM1999.5 819.0H2003.4V1277.8H1999.5ZM1999.5 1311.5H2003.4V1320.3H1999.5ZM2003.1 649.1H2007.0V1175.9H2003.1ZM2003.1 1192.6H2007.0V1320.3H2003.1ZM2006.7 649.1H2010.6V887.2H2006.7ZM2006.7 920.9H2010.6V1320.3H2006.7ZM2013.9 819.0H2017.8V853.2H2013.9ZM2017.5 666.1H2021.4V717.3H2017.5ZM2021.1 649.1H2025.0V700.4H2021.1ZM2021.1 835.9H2025.0V887.2H2021.1ZM2021.1 1124.7H2025.0V1192.9H2021.1Z"/>
<path fill="#96588b" d="M1967.0 734.0H1971.0V751.3H1967.0ZM1967.0 1022.8H1971.0V1091.0H1967.0ZM1970.7 1022.8H1974.6V1320.3H1970.7ZM1974.3 835.9H1978.2V870.2H1974.3ZM1981.5 649.1H1985.4V785.3H1981.5ZM1981.5 852.9H1985.4V1320.3H1981.5ZM1985.1 649.1H1989.0V938.1H1985.1ZM1985.1 1005.8H1989.0V1320.3H1985.1ZM1992.3 649.1H1996.2V666.4H1992.3ZM1992.3 734.0H1996.2V972.1H1992.3ZM1992.3 1039.8H1996.2V1142.0H1992.3ZM1992.3 1192.6H1996.2V1320.3H1992.3ZM1995.9 649.1H1999.8V887.2H1995.9ZM1995.9 937.8H1999.8V1108.0H1995.9ZM1995.9 1158.7H1999.8V1192.9H1995.9ZM1995.9 1243.6H1999.8V1320.3H1995.9ZM1999.5 802.0H2003.4V819.2H1999.5ZM2003.1 1175.6H2007.0V1192.9H2003.1ZM2010.3 649.1H2014.2V887.2H2010.3ZM2010.3 954.8H2014.2V1320.3H2010.3ZM2013.9 649.1H2017.8V768.3H2013.9ZM2013.9 802.0H2017.8V819.2H2013.9ZM2013.9 852.9H2017.8V972.1H2013.9ZM2013.9 1039.8H2017.8V1320.3H2013.9ZM2017.5 649.1H2021.4V666.4H2017.5ZM2017.5 717.0H2021.4V1040.1H2017.5ZM2017.5 1073.7H2021.4V1125.0H2017.5ZM2017.5 1192.6H2021.4V1226.9H2017.5ZM2017.5 1260.6H2021.4V1277.8H2017.5ZM2021.1 700.1H2025.0V836.2H2021.1ZM2021.1 886.9H2025.0V1125.0H2021.1ZM2021.1 1192.6H2025.0V1277.8H2021.1ZM2024.7 666.1H2028.6V700.4H2024.7ZM2024.7 1260.6H2028.6V1311.8H2024.7ZM2028.3 717.0H2032.2V734.3H2028.3Z"/>
<path fill="#c56574" d="M1970.7 649.1H1974.6V955.1H1970.7ZM1970.7 971.8H1974.6V1023.1H1970.7ZM2039.1 1209.6H2043.0V1320.3H2039.1ZM2042.7 1277.5H2046.6V1294.8H2042.7ZM2049.9 649.1H2053.8V683.4H2049.9ZM2049.9 1073.7H2053.8V1091.0H2049.9ZM2049.9 1294.5H2053.8V1311.8H2049.9ZM2057.1 852.9H2061.1V887.2H2057.1ZM2057.1 1294.5H2061.1V1311.8H2057.1ZM2060.8 785.0H2064.7V819.2H2060.8ZM2060.8 954.8H2064.7V1006.1H2060.8ZM2064.4 649.1H2068.3V938.1H2064.4ZM2064.4 1005.8H2068.3V1040.1H2064.4ZM2064.4 1073.7H2068.3V1277.8H2064.4ZM2068.0 649.1H2071.9V989.1H2068.0ZM2068.0 1005.8H2071.9V1277.8H2068.0ZM2068.0 1311.5H2071.9V1320.3H2068.0ZM2075.2 649.1H2079.1V1192.9H2075.2ZM2075.2 1260.6H2079.1V1320.3H2075.2ZM2078.8 649.1H2082.7V938.1H2078.8ZM2078.8 988.8H2082.7V1159.0H2078.8ZM2078.8 1175.6H2082.7V1320.3H2078.8ZM2082.4 649.1H2086.3V1320.3H2082.4ZM2086.0 649.1H2089.9V802.3H2086.0ZM2086.0 819.0H2089.9V1040.1H2086.0ZM2086.0 1073.7H2089.9V1320.3H2086.0ZM2089.6 649.1H2093.5V972.1H2089.6ZM2089.6 1022.8H2093.5V1159.0H2089.6ZM2089.6 1209.6H2093.5V1320.3H2089.6ZM2093.2 649.1H2097.1V700.4H2093.2ZM2093.2 768.0H2097.1V836.2H2093.2ZM2093.2 903.9H2097.1V989.1H2093.2ZM2093.2 1056.7H2097.1V1091.0H2093.2ZM2093.2 1158.7H2097.1V1243.9H2093.2ZM2093.2 1260.6H2097.1V1320.3H2093.2ZM2096.8 751.0H2100.7V802.3H2096.8ZM2100.4 1260.6H2104.3V1311.8H2100.4ZM2104.0 649.1H2107.9V717.3H2104.0ZM2104.0 751.0H2107.9V904.2H2104.0ZM2104.0 971.8H2107.9V1209.9H2104.0ZM2104.0 1277.5H2107.9V1320.3H2104.0Z"/>
<path fill="#d7696a" d="M1970.7 954.8H1974.6V972.1H1970.7ZM2064.4 937.8H2068.3V1006.1H2064.4ZM2068.0 1277.5H2071.9V1311.8H2068.0ZM2071.6 649.1H2075.5V785.3H2071.6ZM2071.6 802.0H2075.5V1320.3H2071.6ZM2078.8 937.8H2082.7V989.1H2078.8ZM2078.8 1158.7H2082.7V1175.9H2078.8ZM2086.0 802.0H2089.9V819.2H2086.0ZM2089.6 971.8H2093.5V1023.1H2089.6ZM2089.6 1158.7H2093.5V1209.9H2089.6ZM2093.2 700.1H2097.1V768.3H2093.2ZM2093.2 988.8H2097.1V1057.0H2093.2ZM2093.2 1090.7H2097.1V1159.0H2093.2ZM2096.8 649.1H2100.7V751.3H2096.8ZM2096.8 802.0H2100.7V1175.9H2096.8ZM2096.8 1192.6H2100.7V1320.3H2096.8ZM2100.4 649.1H2104.3V1142.0H2100.4ZM2100.4 1209.6H2104.3V1260.9H2100.4ZM2100.4 1311.5H2104.3V1320.3H2100.4ZM2104.0 1209.6H2107.9V1277.8H2104.0ZM2118.4 1277.5H2122.3V1320.3H2118.4ZM2147.2 937.8H2151.2V955.1H2147.2ZM2147.2 1158.7H2151.2V1192.9H2147.2ZM2150.9 1141.7H2154.8V1159.0H2150.9ZM2158.1 1175.6H2162.0V1192.9H2158.1ZM2161.7 649.1H2165.6V1320.3H2161.7Z"/>
<path fill="#a55e86" d="M1974.3 649.1H1978.2V836.2H1974.3ZM1974.3 869.9H1978.2V1320.3H1974.3ZM1981.5 785.0H1985.4V853.2H1981.5ZM1988.7 649.1H1992.6V1108.0H1988.7ZM1988.7 1158.7H1992.6V1320.3H1988.7ZM1992.3 1141.7H1996.2V1192.9H1992.3ZM1995.9 1192.6H1999.8V1243.9H1995.9ZM2010.3 886.9H2014.2V955.1H2010.3ZM2013.9 768.0H2017.8V802.3H2013.9ZM2013.9 971.8H2017.8V1040.1H2013.9ZM2017.5 1039.8H2021.4V1074.0H2017.5ZM2017.5 1124.7H2021.4V1192.9H2017.5ZM2017.5 1226.6H2021.4V1260.9H2017.5ZM2017.5 1277.5H2021.4V1320.3H2017.5ZM2021.1 1277.5H2025.0V1320.3H2021.1ZM2024.7 649.1H2028.6V666.4H2024.7ZM2024.7 700.1H2028.6V836.2H2024.7ZM2024.7 886.9H2028.6V1260.9H2024.7ZM2024.7 1311.5H2028.6V1320.3H2024.7ZM2028.3 649.1H2032.2V717.3H2028.3ZM2028.3 734.0H2032.2V1320.3H2028.3ZM2031.9 649.1H2035.8V1320.3H2031.9ZM2035.5 666.1H2039.4V734.3H2035.5ZM2035.5 1005.8H2039.4V1074.0H2035.5ZM2042.7 1073.7H2046.6V1142.0H2042.7ZM2046.3 649.1H2050.2V921.2H2046.3ZM2046.3 971.8H2050.2V1320.3H2046.3ZM2049.9 819.0H2053.8V870.2H2049.9ZM2053.5 920.9H2057.4V972.1H2053.5ZM2053.5 1107.7H2057.4V1159.0H2053.5Z"/>
<path fill="#b5627e" d="M1988.7 1107.7H1992.6V1159.0H1988.7ZM2024.7 835.9H2028.6V887.2H2024.7ZM2035.5 649.1H2039.4V666.4H2035.5ZM2035.5 734.0H2039.4V1006.1H2035.5ZM2035.5 1073.7H2039.4V1320.3H2035.5ZM2039.1 649.1H2043.0V1209.9H2039.1ZM2042.7 649.1H2046.6V1074.0H2042.7ZM2042.7 1141.7H2046.6V1277.8H2042.7ZM2042.7 1294.5H2046.6V1320.3H2042.7ZM2046.3 920.9H2050.2V972.1H2046.3ZM2049.9 683.1H2053.8V819.2H2049.9ZM2049.9 869.9H2053.8V1074.0H2049.9ZM2049.9 1090.7H2053.8V1294.8H2049.9ZM2049.9 1311.5H2053.8V1320.3H2049.9ZM2053.5 649.1H2057.4V921.2H2053.5ZM2053.5 971.8H2057.4V1108.0H2053.5ZM2053.5 1158.7H2057.4V1320.3H2053.5ZM2057.1 649.1H2061.1V853.2H2057.1ZM2057.1 886.9H2061.1V1294.8H2057.1ZM2057.1 1311.5H2061.1V1320.3H2057.1ZM2060.8 649.1H2064.7V785.3H2060.8ZM2060.8 819.0H2064.7V955.1H2060.8ZM2060.8 1005.8H2064.7V1320.3H2060.8ZM2064.4 1039.8H2068.3V1074.0H2064.4ZM2064.4 1277.5H2068.3V1320.3H2064.4ZM2068.0 988.8H2071.9V1006.1H2068.0ZM2075.2 1192.6H2079.1V1260.9H2075.2ZM2086.0 1039.8H2089.9V1074.0H2086.0ZM2093.2 835.9H2097.1V904.2H2093.2ZM2093.2 1243.6H2097.1V1260.9H2093.2ZM2104.0 717.0H2107.9V751.3H2104.0ZM2104.0 903.9H2107.9V972.1H2104.0Z"/>
<path fill="#e6705d" d="M2071.6 785.0H2075.5V802.3H2071.6ZM2096.8 1175.6H2100.7V1192.9H2096.8ZM2100.4 1141.7H2104.3V1209.9H2100.4ZM2107.6 666.1H2111.5V717.3H2107.6ZM2114.8 920.9H2118.7V955.1H2114.8ZM2114.8 1107.7H2118.7V1142.0H2114.8ZM2118.4 649.1H2122.3V870.2H2118.4ZM2118.4 937.8H2122.3V972.1H2118.4ZM2118.4 988.8H2122.3V1108.0H2118.4ZM2118.4 1158.7H2122.3V1277.8H2118.4ZM2122.0 903.9H2125.9V972.1H2122.0ZM2122.0 1158.7H2125.9V1175.9H2122.0ZM2132.8 1158.7H2136.7V1175.9H2132.8ZM2132.8 1209.6H2136.7V1243.9H2132.8ZM2136.4 1243.6H2140.3V1277.8H2136.4ZM2143.6 649.1H2147.5V785.3H2143.6ZM2143.6 802.0H2147.5V836.2H2143.6ZM2143.6 869.9H2147.5V1320.3H2143.6ZM2147.2 649.1H2151.2V938.1H2147.2ZM2147.2 954.8H2151.2V1159.0H2147.2ZM2147.2 1192.6H2151.2V1320.3H2147.2ZM2150.9 649.1H2154.8V1142.0H2150.9ZM2150.9 1158.7H2154.8V1320.3H2150.9ZM2154.5 649.1H2158.4V666.4H2154.5ZM2154.5 734.0H2158.4V955.1H2154.5ZM2154.5 1022.8H2158.4V1320.3H2154.5ZM2158.1 649.1H2162.0V1175.9H2158.1ZM2158.1 1192.6H2162.0V1320.3H2158.1ZM2165.3 920.9H2169.2V972.1H2165.3Z"/>
<path fill="#f07c4e" d="M2107.6 649.1H2111.5V666.4H2107.6ZM2107.6 717.0H2111.5V1006.1H2107.6ZM2107.6 1022.8H2111.5V1320.3H2107.6ZM2114.8 649.1H2118.7V921.2H2114.8ZM2114.8 954.8H2118.7V1108.0H2114.8ZM2114.8 1141.7H2118.7V1320.3H2114.8ZM2118.4 869.9H2122.3V938.1H2118.4ZM2118.4 971.8H2122.3V989.1H2118.4ZM2118.4 1107.7H2122.3V1159.0H2118.4ZM2122.0 649.1H2125.9V904.2H2122.0ZM2122.0 971.8H2125.9V1057.0H2122.0ZM2122.0 1107.7H2125.9V1159.0H2122.0ZM2122.0 1175.6H2125.9V1320.3H2122.0ZM2129.2 649.1H2133.1V1320.3H2129.2ZM2132.8 649.1H2136.7V1159.0H2132.8ZM2132.8 1175.6H2136.7V1209.9H2132.8ZM2132.8 1243.6H2136.7V1320.3H2132.8ZM2136.4 649.1H2140.3V1074.0H2136.4ZM2136.4 1107.7H2140.3V1243.9H2136.4ZM2136.4 1277.5H2140.3V1294.8H2136.4ZM2140.0 700.1H2143.9V1320.3H2140.0ZM2143.6 785.0H2147.5V802.3H2143.6ZM2143.6 835.9H2147.5V870.2H2143.6ZM2154.5 666.1H2158.4V734.3H2154.5ZM2154.5 954.8H2158.4V1023.1H2154.5ZM2165.3 649.1H2169.2V921.2H2165.3ZM2165.3 971.8H2169.2V1277.8H2165.3ZM2172.5 819.0H2176.4V870.2H2172.5ZM2176.1 869.9H2180.0V887.2H2176.1Z"/>
<path fill="#f78b45" d="M2107.6 1005.8H2111.5V1023.1H2107.6ZM2111.2 886.9H2115.1V955.1H2111.2ZM2111.2 988.8H2115.1V1006.1H2111.2ZM2122.0 1056.7H2125.9V1108.0H2122.0ZM2125.6 649.1H2129.5V853.2H2125.6ZM2125.6 886.9H2129.5V1320.3H2125.6ZM2136.4 1073.7H2140.3V1108.0H2136.4ZM2136.4 1294.5H2140.3V1320.3H2136.4ZM2140.0 649.1H2143.9V700.4H2140.0ZM2165.3 1277.5H2169.2V1320.3H2165.3ZM2168.9 649.1H2172.8V887.2H2168.9ZM2168.9 920.9H2172.8V1023.1H2168.9ZM2168.9 1090.7H2172.8V1320.3H2168.9ZM2172.5 649.1H2176.4V819.2H2172.5ZM2172.5 869.9H2176.4V1320.3H2172.5ZM2176.1 649.1H2180.0V819.2H2176.1ZM2176.1 852.9H2180.0V870.2H2176.1ZM2176.1 886.9H2180.0V989.1H2176.1ZM2176.1 1005.8H2180.0V1108.0H2176.1ZM2176.1 1141.7H2180.0V1311.8H2176.1ZM2190.5 954.8H2194.4V972.1H2190.5ZM2201.3 1039.8H2205.2V1074.0H2201.3Z"/>
<path fill="#fa9b3e" d="M2111.2 649.1H2115.1V887.2H2111.2ZM2111.2 954.8H2115.1V989.1H2111.2ZM2111.2 1005.8H2115.1V1320.3H2111.2ZM2125.6 852.9H2129.5V887.2H2125.6ZM2168.9 886.9H2172.8V921.2H2168.9ZM2168.9 1022.8H2172.8V1091.0H2168.9ZM2176.1 819.0H2180.0V853.2H2176.1ZM2176.1 988.8H2180.0V1006.1H2176.1ZM2176.1 1107.7H2180.0V1142.0H2176.1ZM2176.1 1311.5H2180.0V1320.3H2176.1ZM2179.7 1141.7H2183.6V1192.9H2179.7ZM2186.9 1107.7H2190.8V1142.0H2186.9ZM2190.5 649.1H2194.4V768.3H2190.5ZM2190.5 785.0H2194.4V955.1H2190.5ZM2190.5 971.8H2194.4V1320.3H2190.5ZM2194.1 649.1H2198.0V1320.3H2194.1ZM2197.7 1107.7H2201.6V1142.0H2197.7ZM2201.3 649.1H2205.2V1040.1H2201.3ZM2201.3 1073.7H2205.2V1320.3H2201.3ZM2204.9 649.1H2208.8V1320.3H2204.9ZM2244.6 1022.8H2248.5V1091.0H2244.6ZM2244.6 1107.7H2248.5V1159.0H2244.6ZM2248.2 937.8H2252.1V955.1H2248.2ZM2248.2 1175.6H2252.1V1226.9H2248.2Z"/>
<path fill="#fbab3d" d="M2179.7 649.1H2183.6V1142.0H2179.7ZM2179.7 1192.6H2183.6V1320.3H2179.7ZM2183.3 1124.7H2187.2V1175.9H2183.3ZM2186.9 649.1H2190.8V887.2H2186.9ZM2186.9 920.9H2190.8V1108.0H2186.9ZM2186.9 1141.7H2190.8V1320.3H2186.9ZM2190.5 768.0H2194.4V785.3H2190.5ZM2197.7 649.1H2201.6V1108.0H2197.7ZM2197.7 1141.7H2201.6V1320.3H2197.7ZM2208.5 649.1H2212.4V666.4H2208.5ZM2208.5 1175.6H2212.4V1294.8H2208.5ZM2237.3 1039.8H2241.3V1057.0H2237.3ZM2244.6 649.1H2248.5V802.3H2244.6ZM2244.6 835.9H2248.5V870.2H2244.6ZM2244.6 886.9H2248.5V1023.1H2244.6ZM2244.6 1158.7H2248.5V1320.3H2244.6ZM2248.2 649.1H2252.1V768.3H2248.2ZM2248.2 785.0H2252.1V938.1H2248.2ZM2248.2 954.8H2252.1V1175.9H2248.2ZM2248.2 1226.6H2252.1V1320.3H2248.2Z"/>
<path fill="#f9bc3f" d="M2183.3 649.1H2187.2V1125.0H2183.3ZM2183.3 1175.6H2187.2V1320.3H2183.3ZM2186.9 886.9H2190.8V921.2H2186.9ZM2208.5 666.1H2212.4V785.3H2208.5ZM2208.5 835.9H2212.4V1125.0H2208.5ZM2208.5 1294.5H2212.4V1320.3H2208.5ZM2212.1 649.1H2216.0V819.2H2212.1ZM2212.1 852.9H2216.0V1226.9H2212.1ZM2212.1 1277.5H2216.0V1320.3H2212.1ZM2215.7 649.1H2219.6V819.2H2215.7ZM2215.7 852.9H2219.6V1142.0H2215.7ZM2215.7 1192.6H2219.6V1320.3H2215.7ZM2219.3 649.1H2223.2V1320.3H2219.3ZM2222.9 649.1H2226.8V1320.3H2222.9ZM2226.5 835.9H2230.4V853.2H2226.5ZM2230.1 649.1H2234.0V1311.8H2230.1ZM2233.7 717.0H2237.6V1320.3H2233.7ZM2237.3 649.1H2241.3V683.4H2237.3ZM2237.3 717.0H2241.3V1040.1H2237.3ZM2237.3 1056.7H2241.3V1320.3H2237.3ZM2244.6 802.0H2248.5V836.2H2244.6ZM2244.6 869.9H2248.5V887.2H2244.6ZM2244.6 1090.7H2248.5V1108.0H2244.6ZM2248.2 768.0H2252.1V785.3H2248.2ZM2262.6 937.8H2266.5V989.1H2262.6ZM2262.6 1090.7H2266.5V1159.0H2262.6ZM2266.2 886.9H2270.1V921.2H2266.2ZM2266.2 1056.7H2270.1V1091.0H2266.2Z"/>
<path fill="#f5d145" d="M2208.5 785.0H2212.4V836.2H2208.5ZM2208.5 1124.7H2212.4V1175.9H2208.5ZM2212.1 819.0H2216.0V853.2H2212.1ZM2212.1 1226.6H2216.0V1277.8H2212.1ZM2215.7 819.0H2219.6V853.2H2215.7ZM2215.7 1141.7H2219.6V1192.9H2215.7ZM2226.5 649.1H2230.4V734.3H2226.5ZM2226.5 785.0H2230.4V836.2H2226.5ZM2226.5 852.9H2230.4V904.2H2226.5ZM2226.5 937.8H2230.4V1320.3H2226.5ZM2230.1 1311.5H2234.0V1320.3H2230.1ZM2233.7 649.1H2237.6V717.3H2233.7ZM2237.3 683.1H2241.3V717.3H2237.3ZM2241.0 649.1H2244.9V819.2H2241.0ZM2241.0 852.9H2244.9V1320.3H2241.0ZM2251.8 734.0H2255.7V802.3H2251.8ZM2251.8 1243.6H2255.7V1320.3H2251.8ZM2262.6 649.1H2266.5V768.3H2262.6ZM2262.6 802.0H2266.5V938.1H2262.6ZM2262.6 988.8H2266.5V1091.0H2262.6ZM2262.6 1158.7H2266.5V1320.3H2262.6ZM2266.2 649.1H2270.1V887.2H2266.2ZM2266.2 920.9H2270.1V1057.0H2266.2ZM2266.2 1090.7H2270.1V1320.3H2266.2ZM2269.8 700.1H2273.7V734.3H2269.8ZM2269.8 903.9H2273.7V955.1H2269.8ZM2269.8 1243.6H2273.7V1320.3H2269.8ZM2277.0 1192.6H2279.3V1226.9H2277.0Z"/>
<path fill="#f0e64e" d="M2226.5 734.0H2230.4V785.3H2226.5ZM2226.5 903.9H2230.4V938.1H2226.5ZM2241.0 819.0H2244.9V853.2H2241.0ZM2251.8 649.1H2255.7V734.3H2251.8ZM2251.8 802.0H2255.7V1243.9H2251.8ZM2255.4 835.9H2259.3V853.2H2255.4ZM2255.4 903.9H2259.3V921.2H2255.4ZM2255.4 1056.7H2259.3V1320.3H2255.4ZM2259.0 1192.6H2262.9V1226.9H2259.0ZM2259.0 1294.5H2262.9V1320.3H2259.0ZM2262.6 768.0H2266.5V802.3H2262.6ZM2269.8 649.1H2273.7V700.4H2269.8ZM2269.8 734.0H2273.7V904.2H2269.8ZM2269.8 954.8H2273.7V1023.1H2269.8ZM2269.8 1073.7H2273.7V1209.9H2269.8ZM2269.8 1226.6H2273.7V1243.9H2269.8ZM2273.4 1056.7H2277.3V1320.3H2273.4ZM2277.0 1175.6H2279.3V1192.9H2277.0ZM2277.0 1226.6H2279.3V1320.3H2277.0Z"/>
<path fill="#e6fa5a" d="M2255.4 649.1H2259.3V836.2H2255.4ZM2255.4 852.9H2259.3V904.2H2255.4ZM2255.4 920.9H2259.3V1057.0H2255.4ZM2259.0 649.1H2262.9V1192.9H2259.0ZM2259.0 1226.6H2262.9V1294.8H2259.0ZM2269.8 1022.8H2273.7V1074.0H2269.8ZM2269.8 1209.6H2273.7V1226.9H2269.8ZM2273.4 649.1H2277.3V1057.0H2273.4ZM2277.0 649.1H2279.3V1175.9H2277.0Z"/>
</g>
<g stroke="#333333" fill="none" stroke-linecap="butt"><line x1="300.5" y1="164" x2="300.5" y2="1321.9" stroke-width="3.0"/><line x1="299" y1="1320.3" x2="2281.6" y2="1320.3" stroke-width="3.2"/></g>
<polygon fill="#6495ed" points="300.0,592.2 576.9,592.2 591.2,609.0 676.6,609.0 680.1,595.1 693.3,609.0 709.2,592.2 721.9,592.2 747.1,609.0 893.5,609.0 919.4,710.7 921.3,710.7 933.7,696.4 936.8,710.7 1080.9,710.7 1106.5,812.2 1109.0,812.2 1120.6,759.4 1123.9,812.2 1149.4,829.3 1156.6,845.8 1168.2,863.7 1282.0,863.8 1296.2,847.1 1319.5,847.1 1337.9,863.8 1384.9,863.8 1410.1,880.7 1412.3,880.7 1416.0,863.8 1516.9,863.8 1528.5,829.2 1545.6,812.9 1567.6,812.9 1575.3,762.1 1621.7,762.1 1633.4,726.4 1647.5,693.4 1657.6,676.9 1698.0,676.9 1716.0,744.2 1718.4,744.2 1732.9,727.9 1777.1,727.8 1791.7,643.3 1860.9,643.3 1882.3,677.0 1891.9,677.0 1906.3,659.8 1921.5,659.8 1933.6,600.8 1947.1,659.8 1950.8,659.8 1950.8,727.4 1947.1,727.4 1934.8,700.6 1921.5,796.1 1906.3,796.1 1891.9,812.8 1882.3,812.8 1863.2,797.7 1849.3,847.1 1791.7,847.1 1777.1,932.1 1732.9,932.2 1718.4,948.7 1716.0,948.7 1698.0,881.1 1657.6,881.1 1647.5,913.8 1633.4,930.3 1621.7,966.2 1600.0,966.2 1588.7,983.2 1575.3,983.2 1567.6,1033.7 1528.5,1033.7 1516.9,1085.0 1416.0,1085.0 1412.3,1101.6 1410.1,1101.6 1384.9,1085.0 1337.9,1085.0 1319.5,1068.1 1296.2,1068.1 1282.0,1085.0 1168.2,1085.0 1156.6,1066.7 1149.4,1050.0 1123.9,1032.7 1120.6,980.1 1109.0,1033.1 1106.5,1033.1 1080.9,932.2 936.8,931.6 933.7,917.6 921.3,931.2 918.8,931.2 893.5,830.1 793.6,830.1 778.7,812.9 746.5,812.9 721.9,795.9 708.9,795.9 694.0,812.9 692.8,812.9 680.1,799.0 676.6,812.9 606.0,812.9 577.3,778.8 537.5,778.8 520.0,762.3 515.5,761.7 503.5,747.7 489.3,795.9 386.1,795.9 371.5,778.8 345.9,778.8 331.7,745.2 327.3,744.2 302.6,659.8 300.0,659.8"/>
<polygon fill="#87ceeb" points="300.0,587.9 1950.8,587.9 1950.8,659.8 1947.1,659.8 1933.6,600.8 1921.5,659.8 1906.3,659.8 1891.9,677.0 1882.3,677.0 1860.9,643.3 1791.7,643.3 1777.1,727.8 1732.9,727.9 1718.4,744.2 1716.0,744.2 1698.0,676.9 1657.6,676.9 1647.5,693.4 1633.4,726.4 1621.7,762.1 1575.3,762.1 1567.6,812.9 1545.6,812.9 1528.5,829.2 1516.9,863.8 1416.0,863.8 1412.3,880.7 1410.1,880.7 1384.9,863.8 1337.9,863.8 1319.5,847.1 1296.2,847.1 1282.0,863.8 1168.2,863.7 1156.6,845.8 1149.4,829.3 1123.9,812.2 1120.6,759.4 1109.0,812.2 1106.5,812.2 1080.9,710.7 936.8,710.7 933.7,696.4 921.3,710.7 919.4,710.7 893.5,609.0 747.1,609.0 721.9,592.2 709.2,592.2 693.3,609.0 680.1,595.1 676.6,609.0 591.2,609.0 576.9,592.2 300.0,592.2"/>
<polygon fill="#f8f8ff" points="300.0,570.8 331.7,570.8 346.3,554.3 371.5,537.0 385.5,537.0 389.4,520.7 391.3,520.7 405.5,537.0 515.2,537.0 518.6,521.3 538.0,503.3 548.5,517.4 573.8,469.3 575.8,469.3 579.6,483.1 592.0,469.3 606.8,484.8 620.9,468.9 673.9,468.9 677.8,452.4 679.7,452.4 693.7,467.9 707.3,452.0 721.3,452.0 747.1,468.3 761.7,452.0 777.2,452.0 781.5,468.9 794.0,468.9 818.8,452.4 822.3,452.4 850.3,469.9 852.6,481.5 867.3,453.4 883.8,434.9 893.5,418.8 896.5,418.8 922.1,533.9 933.7,520.7 935.9,520.7 940.3,537.0 953.7,537.0 977.6,553.0 992.0,537.0 995.8,537.0 1019.9,520.7 1035.2,503.5 1037.2,503.5 1041.1,520.0 1082.8,520.0 1106.5,535.3 1120.6,469.3 1123.6,469.3 1127.8,533.0 1150.3,503.3 1157.5,503.3 1167.8,486.4 1198.3,485.4 1222.5,469.3 1224.8,469.3 1228.4,484.8 1251.7,469.3 1254.0,469.3 1257.1,485.4 1282.6,485.8 1294.8,528.1 1297.2,503.8 1299.5,503.8 1320.5,534.5 1337.9,503.5 1355.4,503.5 1370.9,486.0 1386.1,486.0 1412.1,537.0 1469.0,537.0 1486.4,553.0 1497.1,537.0 1586.8,537.0 1598.0,503.5 1621.7,503.5 1631.4,533.0 1655.3,469.3 1701.3,469.3 1719.3,537.0 1773.6,536.9 1790.4,503.1 1848.1,503.1 1862.7,520.5 1883.7,536.9 1888.9,536.9 1905.1,520.1 1918.3,520.1 1933.0,469.2 1935.0,469.2 1949.7,544.7 1950.8,588.0 1950.8,588.1 300.0,588.1"/>
<g stroke="#333333" stroke-width="3.33" fill="none" stroke-linecap="butt">
<line x1="285.42" y1="1269.65" x2="300.00" y2="1269.65"/>
<line x1="2280.00" y1="1269.65" x2="2294.58" y2="1269.65"/>
<line x1="285.42" y1="1184.74" x2="300.00" y2="1184.74"/>
<line x1="2280.00" y1="1184.74" x2="2294.58" y2="1184.74"/>
<line x1="285.42" y1="1099.83" x2="300.00" y2="1099.83"/>
<line x1="2280.00" y1="1099.83" x2="2294.58" y2="1099.83"/>
<line x1="285.42" y1="1014.92" x2="300.00" y2="1014.92"/>
<line x1="2280.00" y1="1014.92" x2="2294.58" y2="1014.92"/>
<line x1="285.42" y1="930.01" x2="300.00" y2="930.01"/>
<line x1="2280.00" y1="930.01" x2="2294.58" y2="930.01"/>
<line x1="285.42" y1="845.09" x2="300.00" y2="845.09"/>
<line x1="2280.00" y1="845.09" x2="2294.58" y2="845.09"/>
<line x1="285.42" y1="760.18" x2="300.00" y2="760.18"/>
<line x1="2280.00" y1="760.18" x2="2294.58" y2="760.18"/>
<line x1="285.42" y1="675.27" x2="300.00" y2="675.27"/>
<line x1="2280.00" y1="675.27" x2="2294.58" y2="675.27"/>
<line x1="285.42" y1="590.36" x2="300.00" y2="590.36"/>
<line x1="2280.00" y1="590.36" x2="2294.58" y2="590.36"/>
<line x1="285.42" y1="505.45" x2="300.00" y2="505.45"/>
<line x1="2280.00" y1="505.45" x2="2294.58" y2="505.45"/>
<line x1="285.42" y1="420.54" x2="300.00" y2="420.54"/>
<line x1="2280.00" y1="420.54" x2="2294.58" y2="420.54"/>
<line x1="285.42" y1="335.62" x2="300.00" y2="335.62"/>
<line x1="2280.00" y1="335.62" x2="2294.58" y2="335.62"/>
<line x1="285.42" y1="250.71" x2="300.00" y2="250.71"/>
<line x1="2280.00" y1="250.71" x2="2294.58" y2="250.71"/>
<line x1="474.40" y1="1320.30" x2="474.40" y2="1334.88"/>
<line x1="676.24" y1="1320.30" x2="676.24" y2="1334.88"/>
<line x1="921.33" y1="1320.30" x2="921.33" y2="1334.88"/>
<line x1="1123.16" y1="1320.30" x2="1123.16" y2="1334.88"/>
<line x1="1325.00" y1="1320.30" x2="1325.00" y2="1334.88"/>
<line x1="1526.84" y1="1320.30" x2="1526.84" y2="1334.88"/>
<line x1="1771.93" y1="1320.30" x2="1771.93" y2="1334.88"/>
<line x1="1973.77" y1="1320.30" x2="1973.77" y2="1334.88"/>
<line x1="2204.44" y1="1320.30" x2="2204.44" y2="1334.88"/>
</g>
<g fill="#333333" font-size="54.17">
<text x="270.80" y="1290.05" text-anchor="end">-80</text>
<text x="2308.20" y="1290.05" text-anchor="start">-80</text>
<text x="270.80" y="1205.14" text-anchor="end">-70</text>
<text x="2308.20" y="1205.14" text-anchor="start">-70</text>
<text x="270.80" y="1120.23" text-anchor="end">-60</text>
<text x="2308.20" y="1120.23" text-anchor="start">-60</text>
<text x="270.80" y="1035.32" text-anchor="end">-50</text>
<text x="2308.20" y="1035.32" text-anchor="start">-50</text>
<text x="270.80" y="950.41" text-anchor="end">-40</text>
<text x="2308.20" y="950.41" text-anchor="start">-40</text>
<text x="270.80" y="865.49" text-anchor="end">-30</text>
<text x="2308.20" y="865.49" text-anchor="start">-30</text>
<text x="270.80" y="780.58" text-anchor="end">-20</text>
<text x="2308.20" y="780.58" text-anchor="start">-20</text>
<text x="270.80" y="695.67" text-anchor="end">-10</text>
<text x="2308.20" y="695.67" text-anchor="start">-10</text>
<text x="270.80" y="610.76" text-anchor="end">0</text>
<text x="2308.20" y="610.76" text-anchor="start">0</text>
<text x="270.80" y="525.85" text-anchor="end">10</text>
<text x="2308.20" y="525.85" text-anchor="start">10</text>
<text x="270.80" y="440.94" text-anchor="end">20</text>
<text x="2308.20" y="440.94" text-anchor="start">20</text>
<text x="270.80" y="356.02" text-anchor="end">30</text>
<text x="2308.20" y="356.02" text-anchor="start">30</text>
<text x="270.80" y="271.11" text-anchor="end">40</text>
<text x="2308.20" y="271.11" text-anchor="start">40</text>
<text transform="translate(474.40,1353.40) rotate(-45)" x="0" y="41.2" text-anchor="end">2025-01-01</text>
<text transform="translate(676.24,1353.40) rotate(-45)" x="0" y="41.2" text-anchor="end">2025-01-15</text>
<text transform="translate(921.33,1353.40) rotate(-45)" x="0" y="41.2" text-anchor="end">2025-02-01</text>
<text transform="translate(1123.16,1353.40) rotate(-45)" x="0" y="41.2" text-anchor="end">2025-02-15</text>
<text transform="translate(1325.00,1353.40) rotate(-45)" x="0" y="41.2" text-anchor="end">2025-03-01</text>
<text transform="translate(1526.84,1353.40) rotate(-45)" x="0" y="41.2" text-anchor="end">2025-03-15</text>
<text transform="translate(1771.93,1353.40) rotate(-45)" x="0" y="41.2" text-anchor="end">2025-04-01</text>
<text transform="translate(1973.77,1353.40) rotate(-45)" x="0" y="41.2" text-anchor="end">2025-04-15</text>
<text transform="translate(2204.44,1353.40) rotate(-45)" x="0" y="41.2" text-anchor="end">2025-05-01</text>
</g>
<text transform="translate(102.2,743.9) rotate(-90)" text-anchor="middle" font-size="62.5" fill="#555555">cm du surface de la glace</text>
<g shape-rendering="crispEdges">
<rect x="2485.00" y="165.50" width="65.50" height="14.67" fill="#3f0914"/>
<rect x="2485.00" y="179.57" width="65.50" height="14.67" fill="#560b1e"/>
<rect x="2485.00" y="193.63" width="65.50" height="14.67" fill="#6d0d26"/>
<rect x="2485.00" y="207.70" width="65.50" height="14.67" fill="#840d29"/>
<rect x="2485.00" y="221.77" width="65.50" height="14.67" fill="#9a1428"/>
<rect x="2485.00" y="235.83" width="65.50" height="14.67" fill="#a82527"/>
<rect x="2485.00" y="249.90" width="65.50" height="14.67" fill="#b43c2a"/>
<rect x="2485.00" y="263.97" width="65.50" height="14.67" fill="#bd5538"/>
<rect x="2485.00" y="278.03" width="65.50" height="14.67" fill="#c56b4e"/>
<rect x="2485.00" y="292.10" width="65.50" height="14.67" fill="#cb8067"/>
<rect x="2485.00" y="306.17" width="65.50" height="14.67" fill="#d29380"/>
<rect x="2485.00" y="320.23" width="65.50" height="14.67" fill="#d9a799"/>
<rect x="2485.00" y="334.30" width="65.50" height="14.67" fill="#e0bbb1"/>
<rect x="2485.00" y="348.37" width="65.50" height="14.67" fill="#e8d2cb"/>
<rect x="2485.00" y="362.43" width="65.50" height="14.67" fill="#efe6e4"/>
<rect x="2485.00" y="376.50" width="65.50" height="14.67" fill="#e4e6e7"/>
<rect x="2485.00" y="390.57" width="65.50" height="14.67" fill="#cfd7da"/>
<rect x="2485.00" y="404.63" width="65.50" height="14.67" fill="#b4c8cf"/>
<rect x="2485.00" y="418.70" width="65.50" height="14.67" fill="#9cb9c4"/>
<rect x="2485.00" y="432.77" width="65.50" height="14.67" fill="#83adc0"/>
<rect x="2485.00" y="446.83" width="65.50" height="14.67" fill="#68a1be"/>
<rect x="2485.00" y="460.90" width="65.50" height="14.67" fill="#4b93bd"/>
<rect x="2485.00" y="474.97" width="65.50" height="14.67" fill="#3182bd"/>
<rect x="2485.00" y="489.03" width="65.50" height="14.67" fill="#1c71be"/>
<rect x="2485.00" y="503.10" width="65.50" height="14.67" fill="#0c5fc0"/>
<rect x="2485.00" y="517.17" width="65.50" height="14.67" fill="#244bb6"/>
<rect x="2485.00" y="531.23" width="65.50" height="14.67" fill="#2c3c9c"/>
<rect x="2485.00" y="545.30" width="65.50" height="14.67" fill="#27307a"/>
<rect x="2485.00" y="559.37" width="65.50" height="14.67" fill="#20265a"/>
<rect x="2485.00" y="573.43" width="65.50" height="14.67" fill="#191a3f"/>
</g>
<g stroke="#000" fill="none">
<line x1="2550.50" y1="587.50" x2="2558.83" y2="587.50" stroke-width="2.5"/>
<line x1="2550.50" y1="579.38" x2="2558.83" y2="579.38" stroke-width="2.5"/>
<line x1="2550.50" y1="563.15" x2="2558.83" y2="563.15" stroke-width="2.5"/>
<line x1="2550.50" y1="555.04" x2="2558.83" y2="555.04" stroke-width="2.5"/>
<line x1="2550.50" y1="546.92" x2="2558.83" y2="546.92" stroke-width="2.5"/>
<line x1="2550.50" y1="538.81" x2="2558.83" y2="538.81" stroke-width="2.5"/>
<line x1="2550.50" y1="530.69" x2="2558.83" y2="530.69" stroke-width="2.5"/>
<line x1="2550.50" y1="514.46" x2="2558.83" y2="514.46" stroke-width="2.5"/>
<line x1="2550.50" y1="506.35" x2="2558.83" y2="506.35" stroke-width="2.5"/>
<line x1="2550.50" y1="498.23" x2="2558.83" y2="498.23" stroke-width="2.5"/>
<line x1="2550.50" y1="490.12" x2="2558.83" y2="490.12" stroke-width="2.5"/>
<line x1="2550.50" y1="482.00" x2="2558.83" y2="482.00" stroke-width="2.5"/>
<line x1="2550.50" y1="465.77" x2="2558.83" y2="465.77" stroke-width="2.5"/>
<line x1="2550.50" y1="457.65" x2="2558.83" y2="457.65" stroke-width="2.5"/>
<line x1="2550.50" y1="449.54" x2="2558.83" y2="449.54" stroke-width="2.5"/>
<line x1="2550.50" y1="441.42" x2="2558.83" y2="441.42" stroke-width="2.5"/>
<line x1="2550.50" y1="433.31" x2="2558.83" y2="433.31" stroke-width="2.5"/>
<line x1="2550.50" y1="417.08" x2="2558.83" y2="417.08" stroke-width="2.5"/>
<line x1="2550.50" y1="408.96" x2="2558.83" y2="408.96" stroke-width="2.5"/>
<line x1="2550.50" y1="400.85" x2="2558.83" y2="400.85" stroke-width="2.5"/>
<line x1="2550.50" y1="392.73" x2="2558.83" y2="392.73" stroke-width="2.5"/>
<line x1="2550.50" y1="384.62" x2="2558.83" y2="384.62" stroke-width="2.5"/>
<line x1="2550.50" y1="368.38" x2="2558.83" y2="368.38" stroke-width="2.5"/>
<line x1="2550.50" y1="360.27" x2="2558.83" y2="360.27" stroke-width="2.5"/>
<line x1="2550.50" y1="352.15" x2="2558.83" y2="352.15" stroke-width="2.5"/>
<line x1="2550.50" y1="344.04" x2="2558.83" y2="344.04" stroke-width="2.5"/>
<line x1="2550.50" y1="335.92" x2="2558.83" y2="335.92" stroke-width="2.5"/>
<line x1="2550.50" y1="319.69" x2="2558.83" y2="319.69" stroke-width="2.5"/>
<line x1="2550.50" y1="311.58" x2="2558.83" y2="311.58" stroke-width="2.5"/>
<line x1="2550.50" y1="303.46" x2="2558.83" y2="303.46" stroke-width="2.5"/>
<line x1="2550.50" y1="295.35" x2="2558.83" y2="295.35" stroke-width="2.5"/>
<line x1="2550.50" y1="287.23" x2="2558.83" y2="287.23" stroke-width="2.5"/>
<line x1="2550.50" y1="271.00" x2="2558.83" y2="271.00" stroke-width="2.5"/>
<line x1="2550.50" y1="262.88" x2="2558.83" y2="262.88" stroke-width="2.5"/>
<line x1="2550.50" y1="254.77" x2="2558.83" y2="254.77" stroke-width="2.5"/>
<line x1="2550.50" y1="246.65" x2="2558.83" y2="246.65" stroke-width="2.5"/>
<line x1="2550.50" y1="238.54" x2="2558.83" y2="238.54" stroke-width="2.5"/>
<line x1="2550.50" y1="222.31" x2="2558.83" y2="222.31" stroke-width="2.5"/>
<line x1="2550.50" y1="214.19" x2="2558.83" y2="214.19" stroke-width="2.5"/>
<line x1="2550.50" y1="206.08" x2="2558.83" y2="206.08" stroke-width="2.5"/>
<line x1="2550.50" y1="197.96" x2="2558.83" y2="197.96" stroke-width="2.5"/>
<line x1="2550.50" y1="189.85" x2="2558.83" y2="189.85" stroke-width="2.5"/>
<line x1="2550.50" y1="173.62" x2="2558.83" y2="173.62" stroke-width="2.5"/>
<line x1="2550.50" y1="165.50" x2="2558.83" y2="165.50" stroke-width="2.5"/>
<line x1="2550.50" y1="571.27" x2="2565.08" y2="571.27" stroke-width="3.33"/>
<line x1="2550.50" y1="522.58" x2="2565.08" y2="522.58" stroke-width="3.33"/>
<line x1="2550.50" y1="473.88" x2="2565.08" y2="473.88" stroke-width="3.33"/>
<line x1="2550.50" y1="425.19" x2="2565.08" y2="425.19" stroke-width="3.33"/>
<line x1="2550.50" y1="376.50" x2="2565.08" y2="376.50" stroke-width="3.33"/>
<line x1="2550.50" y1="327.81" x2="2565.08" y2="327.81" stroke-width="3.33"/>
<line x1="2550.50" y1="279.12" x2="2565.08" y2="279.12" stroke-width="3.33"/>
<line x1="2550.50" y1="230.42" x2="2565.08" y2="230.42" stroke-width="3.33"/>
<line x1="2550.50" y1="181.73" x2="2565.08" y2="181.73" stroke-width="3.33"/>
<rect x="2485.00" y="165.50" width="65.50" height="422.00" stroke-width="3.33"/>
</g>
<g fill="#333333" font-size="50">
<text x="2579.70" y="589.47">-24</text>
<text x="2579.70" y="540.78">-18</text>
<text x="2579.70" y="492.08">-12</text>
<text x="2579.70" y="443.39">-6</text>
<text x="2579.70" y="394.70">0</text>
<text x="2579.70" y="346.01">6</text>
<text x="2579.70" y="297.32">12</text>
<text x="2579.70" y="248.62">18</text>
<text x="2579.70" y="199.93">24</text>
</g>
<g fill="#333333" font-size="58.33" text-anchor="start">
<text transform="translate(2754.70,471.00) rotate(-90)">temp.</text>
<text transform="translate(2821.10,474.40) rotate(-90)">d'air <tspan font-size="40.8" dx="2.1" dy="-11.9">°</tspan><tspan dx="4.4" dy="11.9">C</tspan></text>
</g>
<g shape-rendering="crispEdges">
<rect x="2485.00" y="898.60" width="65.50" height="18.17" fill="#e6fa5a"/>
<rect x="2485.00" y="916.17" width="65.50" height="18.17" fill="#f0e64e"/>
<rect x="2485.00" y="933.73" width="65.50" height="18.17" fill="#f5d145"/>
<rect x="2485.00" y="951.30" width="65.50" height="18.17" fill="#f9bc3f"/>
<rect x="2485.00" y="968.87" width="65.50" height="18.17" fill="#fbab3d"/>
<rect x="2485.00" y="986.43" width="65.50" height="18.17" fill="#fa9b3e"/>
<rect x="2485.00" y="1004.00" width="65.50" height="18.17" fill="#f78b45"/>
<rect x="2485.00" y="1021.57" width="65.50" height="18.17" fill="#f07c4e"/>
<rect x="2485.00" y="1039.13" width="65.50" height="18.17" fill="#e6705d"/>
<rect x="2485.00" y="1056.70" width="65.50" height="18.17" fill="#d7696a"/>
<rect x="2485.00" y="1074.27" width="65.50" height="18.17" fill="#c56574"/>
<rect x="2485.00" y="1091.83" width="65.50" height="18.17" fill="#b5627e"/>
<rect x="2485.00" y="1109.40" width="65.50" height="18.17" fill="#a55e86"/>
<rect x="2485.00" y="1126.97" width="65.50" height="18.17" fill="#96588b"/>
<rect x="2485.00" y="1144.53" width="65.50" height="18.17" fill="#86518f"/>
<rect x="2485.00" y="1162.10" width="65.50" height="18.17" fill="#774b92"/>
<rect x="2485.00" y="1179.67" width="65.50" height="18.17" fill="#694498"/>
<rect x="2485.00" y="1197.23" width="65.50" height="18.17" fill="#593d9b"/>
<rect x="2485.00" y="1214.80" width="65.50" height="18.17" fill="#4935a0"/>
<rect x="2485.00" y="1232.37" width="65.50" height="18.17" fill="#30339a"/>
<rect x="2485.00" y="1249.93" width="65.50" height="18.17" fill="#1b3480"/>
<rect x="2485.00" y="1267.50" width="65.50" height="18.17" fill="#0e3064"/>
<rect x="2485.00" y="1285.07" width="65.50" height="18.17" fill="#072a45"/>
<rect x="2485.00" y="1302.63" width="65.50" height="18.17" fill="#051f2e"/>
</g>
<g stroke="#000" fill="none">
<line x1="2550.50" y1="1305.14" x2="2558.83" y2="1305.14" stroke-width="2.5"/>
<line x1="2550.50" y1="1290.09" x2="2558.83" y2="1290.09" stroke-width="2.5"/>
<line x1="2550.50" y1="1275.03" x2="2558.83" y2="1275.03" stroke-width="2.5"/>
<line x1="2550.50" y1="1244.91" x2="2558.83" y2="1244.91" stroke-width="2.5"/>
<line x1="2550.50" y1="1229.86" x2="2558.83" y2="1229.86" stroke-width="2.5"/>
<line x1="2550.50" y1="1214.80" x2="2558.83" y2="1214.80" stroke-width="2.5"/>
<line x1="2550.50" y1="1184.69" x2="2558.83" y2="1184.69" stroke-width="2.5"/>
<line x1="2550.50" y1="1169.63" x2="2558.83" y2="1169.63" stroke-width="2.5"/>
<line x1="2550.50" y1="1154.57" x2="2558.83" y2="1154.57" stroke-width="2.5"/>
<line x1="2550.50" y1="1124.46" x2="2558.83" y2="1124.46" stroke-width="2.5"/>
<line x1="2550.50" y1="1109.40" x2="2558.83" y2="1109.40" stroke-width="2.5"/>
<line x1="2550.50" y1="1094.34" x2="2558.83" y2="1094.34" stroke-width="2.5"/>
<line x1="2550.50" y1="1064.23" x2="2558.83" y2="1064.23" stroke-width="2.5"/>
<line x1="2550.50" y1="1049.17" x2="2558.83" y2="1049.17" stroke-width="2.5"/>
<line x1="2550.50" y1="1034.11" x2="2558.83" y2="1034.11" stroke-width="2.5"/>
<line x1="2550.50" y1="1004.00" x2="2558.83" y2="1004.00" stroke-width="2.5"/>
<line x1="2550.50" y1="988.94" x2="2558.83" y2="988.94" stroke-width="2.5"/>
<line x1="2550.50" y1="973.89" x2="2558.83" y2="973.89" stroke-width="2.5"/>
<line x1="2550.50" y1="943.77" x2="2558.83" y2="943.77" stroke-width="2.5"/>
<line x1="2550.50" y1="928.71" x2="2558.83" y2="928.71" stroke-width="2.5"/>
<line x1="2550.50" y1="913.66" x2="2558.83" y2="913.66" stroke-width="2.5"/>
<line x1="2550.50" y1="898.60" x2="2558.83" y2="898.60" stroke-width="2.5"/>
<line x1="2550.50" y1="1320.20" x2="2565.08" y2="1320.20" stroke-width="3.33"/>
<line x1="2550.50" y1="1259.97" x2="2565.08" y2="1259.97" stroke-width="3.33"/>
<line x1="2550.50" y1="1199.74" x2="2565.08" y2="1199.74" stroke-width="3.33"/>
<line x1="2550.50" y1="1139.51" x2="2565.08" y2="1139.51" stroke-width="3.33"/>
<line x1="2550.50" y1="1079.29" x2="2565.08" y2="1079.29" stroke-width="3.33"/>
<line x1="2550.50" y1="1019.06" x2="2565.08" y2="1019.06" stroke-width="3.33"/>
<line x1="2550.50" y1="958.83" x2="2565.08" y2="958.83" stroke-width="3.33"/>
<rect x="2485.00" y="898.60" width="65.50" height="421.60" stroke-width="3.33"/>
</g>
<g fill="#333333" font-size="50">
<text x="2579.70" y="1338.40">0</text>
<text x="2579.70" y="1278.17">2</text>
<text x="2579.70" y="1217.94">4</text>
<text x="2579.70" y="1157.71">6</text>
<text x="2579.70" y="1097.49">8</text>
<text x="2579.70" y="1037.26">10</text>
<text x="2579.70" y="977.03">12</text>
</g>
<g fill="#333333" font-size="58.33" text-anchor="start">
<text transform="translate(2736.70,1204.30) rotate(-90)">temp.</text>
<text transform="translate(2803.10,1223.50) rotate(-90)">d'eau <tspan font-size="40.8" dx="2.1" dy="-11.9">°</tspan><tspan dx="4.4" dy="11.9">C</tspan></text>
</g>
<rect x="2425.4" y="619.4" width="511" height="254" rx="9" ry="9" fill="#999999" stroke="#d6d6d6" stroke-width="4.2"/>
<rect x="2445" y="641.0" width="112.2" height="42" fill="#f8f8ff"/>
<text x="2599.7" y="679.9" font-size="54.17" fill="#000">neige</text>
<rect x="2445" y="722.0" width="112.2" height="42" fill="#87ceeb"/>
<text x="2599.7" y="760.9" font-size="54.17" fill="#000">neige gelée</text>
<rect x="2445" y="801.0" width="112.2" height="42" fill="#6495ed"/>
<text x="2599.7" y="839.9" font-size="54.17" fill="#000">glace</text>
</svg></body></html>
